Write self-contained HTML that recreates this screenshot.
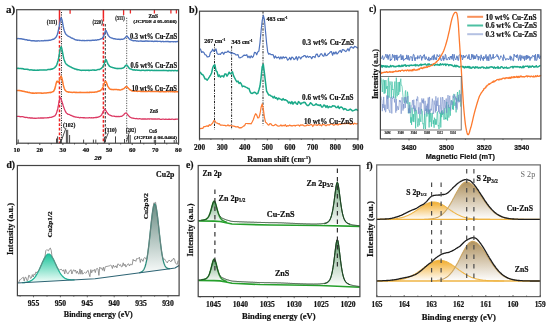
<!DOCTYPE html>
<html><head><meta charset="utf-8"><style>
html,body{margin:0;padding:0;background:#fff;width:550px;height:327px;overflow:hidden}
svg{display:block;will-change:transform;filter:blur(0.3px)}
</style></head><body>
<svg width="550" height="327" viewBox="0 0 550 327">
<rect width="550" height="327" fill="#fff"/>
<line x1="70.1" y1="9.7" x2="70.1" y2="13.8" stroke="#ee2b2b" stroke-width="1.3" />
<line x1="123.6" y1="9.7" x2="123.6" y2="15" stroke="#ee2b2b" stroke-width="1.3" />
<line x1="130.4" y1="9.7" x2="130.4" y2="13.5" stroke="#ee2b2b" stroke-width="1.3" />
<line x1="154.4" y1="9.7" x2="154.4" y2="13.5" stroke="#ee2b2b" stroke-width="1.3" />
<line x1="170.9" y1="9.7" x2="170.9" y2="13.5" stroke="#ee2b2b" stroke-width="1.3" />
<line x1="176.4" y1="9.7" x2="176.4" y2="13.5" stroke="#ee2b2b" stroke-width="1.3" />
<line x1="59.5" y1="9.7" x2="59.5" y2="22" stroke="#ee2222" stroke-width="1.5" />
<line x1="59.5" y1="22" x2="59.5" y2="143.2" stroke="#ee2222" stroke-width="1.5" stroke-dasharray="2.8,1.8" />
<line x1="61.5" y1="12" x2="61.5" y2="143.2" stroke="#222" stroke-width="1" stroke-dasharray="1.1,1.3" />
<line x1="103.4" y1="9.7" x2="103.4" y2="18.8" stroke="#ee2222" stroke-width="1.5" />
<line x1="103.4" y1="18.8" x2="103.4" y2="143.2" stroke="#ee2222" stroke-width="1.5" stroke-dasharray="2.8,1.8" />
<line x1="105.3" y1="24" x2="105.3" y2="143.2" stroke="#333" stroke-width="1" stroke-dasharray="2.5,1.5" />
<line x1="126.7" y1="17.8" x2="126.7" y2="143.2" stroke="#333" stroke-width="0.9" stroke-dasharray="1.1,1.4" />
<path d="M16.7,38.4 L17.2,38.6 L17.7,38.7 L18.2,38.5 L18.7,38.6 L19.2,38.6 L19.7,38.7 L20.2,38.9 L20.7,38.7 L21.2,38.7 L21.7,39.0 L22.2,39.0 L22.7,39.2 L23.2,39.1 L23.7,39.2 L24.2,39.5 L24.7,39.4 L25.2,39.7 L25.7,39.9 L26.2,39.7 L26.7,39.7 L27.2,40.0 L27.7,40.3 L28.2,40.2 L28.7,40.2 L29.2,40.4 L29.7,40.3 L30.2,40.4 L30.7,40.6 L31.2,40.7 L31.7,40.7 L32.2,40.7 L32.7,40.7 L33.2,40.8 L33.7,40.8 L34.2,40.7 L34.7,41.0 L35.2,41.0 L35.7,41.0 L36.2,40.8 L36.7,41.0 L37.2,41.1 L37.7,40.8 L38.2,40.8 L38.7,40.9 L39.2,40.9 L39.7,41.0 L40.2,40.9 L40.7,40.9 L41.2,40.9 L41.7,40.7 L42.2,40.8 L42.7,40.9 L43.2,40.9 L43.7,40.8 L44.2,40.7 L44.7,40.5 L45.2,40.5 L45.7,40.7 L46.2,40.6 L46.7,40.4 L47.2,40.5 L47.7,40.5 L48.2,40.5 L48.7,40.3 L49.2,40.2 L49.7,40.2 L50.2,40.2 L50.7,40.1 L51.2,39.9 L51.7,39.8 L52.2,39.5 L52.7,39.3 L53.2,39.3 L53.7,39.2 L54.2,38.9 L54.7,38.4 L55.2,37.9 L55.7,37.4 L56.2,36.9 L56.7,35.9 L57.2,34.7 L57.7,33.3 L58.2,31.2 L58.7,28.9 L59.2,26.4 L59.7,23.3 L60.2,20.5 L60.7,18.3 L61.2,17.7 L61.7,18.9 L62.2,20.7 L62.7,23.5 L63.2,26.2 L63.7,28.5 L64.2,30.4 L64.7,31.9 L65.2,32.9 L65.7,33.8 L66.2,34.5 L66.7,34.9 L67.2,35.5 L67.7,35.9 L68.2,36.1 L68.7,36.4 L69.2,36.7 L69.7,36.9 L70.2,37.2 L70.7,37.5 L71.2,37.8 L71.7,38.1 L72.2,38.2 L72.7,38.3 L73.2,38.6 L73.7,38.8 L74.2,39.1 L74.7,39.5 L75.2,39.6 L75.7,39.8 L76.2,40.0 L76.7,39.9 L77.2,40.2 L77.7,40.3 L78.2,40.1 L78.7,40.1 L79.2,40.2 L79.7,40.5 L80.2,40.4 L80.7,40.4 L81.2,40.6 L81.7,40.6 L82.2,40.5 L82.7,40.5 L83.2,40.6 L83.7,40.5 L84.2,40.5 L84.7,40.7 L85.2,40.6 L85.7,40.6 L86.2,40.6 L86.7,40.4 L87.2,40.5 L87.7,40.5 L88.2,40.4 L88.7,40.4 L89.2,40.6 L89.7,40.5 L90.2,40.4 L90.7,40.5 L91.2,40.5 L91.7,40.3 L92.2,40.1 L92.7,40.1 L93.2,40.3 L93.7,40.1 L94.2,40.2 L94.7,40.2 L95.2,40.2 L95.7,40.0 L96.2,40.2 L96.7,40.1 L97.2,39.9 L97.7,39.7 L98.2,39.8 L98.7,39.6 L99.2,39.6 L99.7,39.4 L100.2,39.3 L100.7,38.9 L101.2,38.7 L101.7,38.6 L102.2,38.3 L102.7,37.5 L103.2,36.9 L103.7,35.7 L104.2,34.6 L104.7,33.1 L105.2,31.6 L105.7,30.7 L106.2,30.7 L106.7,32.0 L107.2,33.0 L107.7,34.4 L108.2,35.4 L108.7,36.0 L109.2,36.4 L109.7,37.0 L110.2,37.4 L110.7,37.6 L111.2,37.8 L111.7,38.0 L112.2,38.1 L112.7,38.2 L113.2,38.6 L113.7,38.7 L114.2,38.7 L114.7,38.7 L115.2,39.0 L115.7,39.0 L116.2,39.1 L116.7,39.1 L117.2,39.3 L117.7,39.4 L118.2,39.2 L118.7,39.2 L119.2,39.2 L119.7,39.5 L120.2,39.5 L120.7,39.3 L121.2,39.2 L121.7,39.3 L122.2,39.4 L122.7,39.3 L123.2,39.0 L123.7,38.9 L124.2,38.6 L124.7,38.2 L125.2,37.8 L125.7,37.0 L126.2,36.6 L126.7,36.1 L127.2,36.2 L127.7,36.9 L128.2,37.4 L128.7,38.2 L129.2,38.8 L129.7,39.3 L130.2,39.5 L130.7,39.8 L131.2,39.9 L131.7,40.3 L132.2,40.4 L132.7,40.6 L133.2,40.7 L133.7,40.6 L134.2,40.7 L134.7,40.6 L135.2,40.6 L135.7,40.7 L136.2,41.0 L136.7,41.1 L137.2,41.1 L137.7,41.0 L138.2,41.1 L138.7,41.2 L139.2,41.1 L139.7,41.1 L140.2,41.0 L140.7,40.9 L141.2,41.0 L141.7,41.2 L142.2,41.2 L142.7,41.3 L143.2,41.2 L143.7,41.1 L144.2,41.2 L144.7,41.3 L145.2,41.0 L145.7,41.2 L146.2,41.0 L146.7,41.0 L147.2,41.3 L147.7,41.0 L148.2,41.1 L148.7,41.3 L149.2,41.2 L149.7,41.1 L150.2,41.1 L150.7,41.1 L151.2,41.3 L151.7,41.1 L152.2,41.4 L152.7,41.3 L153.2,41.4 L153.7,41.5 L154.2,41.3 L154.7,41.2 L155.2,41.3 L155.7,41.2 L156.2,41.4 L156.7,41.2 L157.2,41.2 L157.7,41.5 L158.2,41.4 L158.7,41.4 L159.2,41.4 L159.7,41.4 L160.2,41.3 L160.7,41.5 L161.2,41.6 L161.7,41.7 L162.2,41.4 L162.7,41.4 L163.2,41.5 L163.7,41.7 L164.2,41.6 L164.7,41.6 L165.2,41.6 L165.7,41.5 L166.2,41.6 L166.7,41.5 L167.2,41.5 L167.7,41.4 L168.2,41.5 L168.7,41.7 L169.2,41.6 L169.7,41.7 L170.2,41.7 L170.7,41.8 L171.2,41.6 L171.7,41.6 L172.2,41.6 L172.7,41.6 L173.2,41.8 L173.7,41.8 L174.2,41.6 L174.7,41.6 L175.2,41.7 L175.7,41.7 L176.2,41.7 L176.7,41.6 L177.2,41.5 L177.7,41.5 L178.2,41.5" fill="none" stroke="#5174bf" stroke-width="1.4" stroke-linejoin="round" />
<path d="M16.7,68.5 L17.2,68.5 L17.7,68.3 L18.2,68.2 L18.7,68.5 L19.2,68.5 L19.7,68.5 L20.2,68.5 L20.7,68.6 L21.2,68.6 L21.7,68.7 L22.2,68.6 L22.7,68.7 L23.2,68.8 L23.7,69.0 L24.2,69.2 L24.7,69.3 L25.2,69.2 L25.7,69.2 L26.2,69.2 L26.7,69.2 L27.2,69.2 L27.7,69.5 L28.2,69.5 L28.7,69.6 L29.2,69.9 L29.7,69.9 L30.2,69.9 L30.7,69.8 L31.2,69.8 L31.7,69.9 L32.2,69.9 L32.7,70.0 L33.2,70.3 L33.7,70.2 L34.2,70.0 L34.7,70.2 L35.2,70.3 L35.7,70.2 L36.2,70.3 L36.7,70.2 L37.2,70.2 L37.7,70.1 L38.2,70.2 L38.7,70.3 L39.2,70.0 L39.7,70.1 L40.2,70.1 L40.7,70.0 L41.2,70.0 L41.7,70.0 L42.2,70.1 L42.7,70.0 L43.2,70.1 L43.7,69.9 L44.2,70.0 L44.7,70.1 L45.2,69.9 L45.7,69.9 L46.2,70.0 L46.7,69.9 L47.2,69.8 L47.7,69.6 L48.2,69.5 L48.7,69.6 L49.2,69.4 L49.7,69.6 L50.2,69.3 L50.7,69.4 L51.2,69.1 L51.7,69.2 L52.2,69.0 L52.7,68.8 L53.2,68.6 L53.7,68.4 L54.2,68.0 L54.7,67.6 L55.2,67.1 L55.7,66.6 L56.2,66.0 L56.7,65.0 L57.2,63.5 L57.7,62.1 L58.2,60.2 L58.7,57.8 L59.2,54.8 L59.7,51.9 L60.2,49.0 L60.7,47.3 L61.2,46.9 L61.7,48.1 L62.2,50.6 L62.7,53.1 L63.2,55.8 L63.7,58.2 L64.2,59.9 L64.7,61.2 L65.2,62.6 L65.7,63.4 L66.2,64.1 L66.7,64.4 L67.2,64.9 L67.7,65.2 L68.2,65.7 L68.7,65.8 L69.2,66.3 L69.7,66.4 L70.2,66.8 L70.7,66.9 L71.2,67.1 L71.7,67.6 L72.2,67.7 L72.7,67.9 L73.2,68.3 L73.7,68.4 L74.2,68.5 L74.7,69.0 L75.2,69.0 L75.7,69.0 L76.2,69.3 L76.7,69.5 L77.2,69.7 L77.7,69.6 L78.2,69.7 L78.7,69.7 L79.2,69.9 L79.7,70.1 L80.2,70.2 L80.7,70.3 L81.2,70.3 L81.7,70.4 L82.2,70.3 L82.7,70.3 L83.2,70.2 L83.7,70.3 L84.2,70.2 L84.7,70.2 L85.2,70.3 L85.7,70.4 L86.2,70.2 L86.7,70.3 L87.2,70.3 L87.7,70.3 L88.2,70.2 L88.7,70.5 L89.2,70.3 L89.7,70.4 L90.2,70.3 L90.7,70.2 L91.2,70.3 L91.7,70.2 L92.2,70.1 L92.7,70.0 L93.2,70.1 L93.7,70.0 L94.2,70.2 L94.7,70.1 L95.2,70.2 L95.7,70.2 L96.2,70.2 L96.7,69.9 L97.2,69.8 L97.7,69.6 L98.2,69.6 L98.7,69.6 L99.2,69.5 L99.7,69.4 L100.2,69.0 L100.7,68.8 L101.2,68.6 L101.7,68.0 L102.2,67.5 L102.7,67.0 L103.2,66.1 L103.7,65.2 L104.2,63.7 L104.7,62.0 L105.2,60.5 L105.7,59.6 L106.2,59.8 L106.7,60.9 L107.2,62.2 L107.7,63.4 L108.2,64.5 L108.7,65.1 L109.2,65.9 L109.7,66.4 L110.2,66.7 L110.7,66.8 L111.2,67.1 L111.7,67.3 L112.2,67.3 L112.7,67.6 L113.2,67.8 L113.7,67.8 L114.2,67.9 L114.7,68.2 L115.2,68.2 L115.7,68.3 L116.2,68.5 L116.7,68.5 L117.2,68.4 L117.7,68.7 L118.2,68.5 L118.7,68.4 L119.2,68.6 L119.7,68.4 L120.2,68.4 L120.7,68.6 L121.2,68.6 L121.7,68.3 L122.2,68.3 L122.7,68.1 L123.2,68.0 L123.7,67.6 L124.2,67.3 L124.7,66.6 L125.2,66.0 L125.7,65.4 L126.2,65.2 L126.7,65.0 L127.2,65.6 L127.7,66.1 L128.2,67.0 L128.7,67.6 L129.2,68.1 L129.7,68.6 L130.2,68.9 L130.7,69.0 L131.2,69.1 L131.7,69.3 L132.2,69.6 L132.7,69.8 L133.2,70.0 L133.7,70.0 L134.2,69.8 L134.7,70.0 L135.2,70.1 L135.7,70.2 L136.2,70.1 L136.7,70.1 L137.2,70.1 L137.7,70.3 L138.2,70.2 L138.7,70.2 L139.2,70.2 L139.7,70.4 L140.2,70.4 L140.7,70.5 L141.2,70.5 L141.7,70.3 L142.2,70.2 L142.7,70.3 L143.2,70.2 L143.7,70.3 L144.2,70.4 L144.7,70.5 L145.2,70.4 L145.7,70.5 L146.2,70.2 L146.7,70.3 L147.2,70.5 L147.7,70.3 L148.2,70.3 L148.7,70.2 L149.2,70.2 L149.7,70.5 L150.2,70.6 L150.7,70.5 L151.2,70.3 L151.7,70.3 L152.2,70.3 L152.7,70.4 L153.2,70.5 L153.7,70.4 L154.2,70.4 L154.7,70.3 L155.2,70.4 L155.7,70.6 L156.2,70.6 L156.7,70.3 L157.2,70.4 L157.7,70.5 L158.2,70.4 L158.7,70.6 L159.2,70.5 L159.7,70.5 L160.2,70.5 L160.7,70.6 L161.2,70.6 L161.7,70.6 L162.2,70.4 L162.7,70.4 L163.2,70.3 L163.7,70.5 L164.2,70.6 L164.7,70.4 L165.2,70.5 L165.7,70.5 L166.2,70.5 L166.7,70.6 L167.2,70.7 L167.7,70.7 L168.2,70.6 L168.7,70.7 L169.2,70.5 L169.7,70.6 L170.2,70.6 L170.7,70.7 L171.2,70.7 L171.7,70.5 L172.2,70.6 L172.7,70.5 L173.2,70.6 L173.7,70.8 L174.2,70.7 L174.7,70.4 L175.2,70.5 L175.7,70.6 L176.2,70.7 L176.7,70.7 L177.2,70.7 L177.7,70.5 L178.2,70.7" fill="none" stroke="#1ca98a" stroke-width="1.5" stroke-linejoin="round" />
<path d="M16.7,90.4 L17.2,90.5 L17.7,90.4 L18.2,90.5 L18.7,90.6 L19.2,90.4 L19.7,90.4 L20.2,90.8 L20.7,90.7 L21.2,90.7 L21.7,91.1 L22.2,91.0 L22.7,91.2 L23.2,91.2 L23.7,91.4 L24.2,91.3 L24.7,91.6 L25.2,91.8 L25.7,91.8 L26.2,92.0 L26.7,92.1 L27.2,92.0 L27.7,92.3 L28.2,92.4 L28.7,92.4 L29.2,92.3 L29.7,92.7 L30.2,92.7 L30.7,92.9 L31.2,93.0 L31.7,93.0 L32.2,93.2 L32.7,93.0 L33.2,93.2 L33.7,93.1 L34.2,93.3 L34.7,93.3 L35.2,93.0 L35.7,92.9 L36.2,93.0 L36.7,93.2 L37.2,93.1 L37.7,93.1 L38.2,93.0 L38.7,93.1 L39.2,93.0 L39.7,93.0 L40.2,93.0 L40.7,93.1 L41.2,93.2 L41.7,93.1 L42.2,93.2 L42.7,93.2 L43.2,93.2 L43.7,93.1 L44.2,92.9 L44.7,93.0 L45.2,93.1 L45.7,93.1 L46.2,92.9 L46.7,92.9 L47.2,92.7 L47.7,92.8 L48.2,92.8 L48.7,92.6 L49.2,92.4 L49.7,92.6 L50.2,92.7 L50.7,92.3 L51.2,92.4 L51.7,92.2 L52.2,91.9 L52.7,91.7 L53.2,91.6 L53.7,91.2 L54.2,90.2 L54.7,89.2 L55.2,87.3 L55.7,85.4 L56.2,83.2 L56.7,81.6 L57.2,81.2 L57.7,81.5 L58.2,82.3 L58.7,82.1 L59.2,81.2 L59.7,79.8 L60.2,77.9 L60.7,76.4 L61.2,76.2 L61.7,77.5 L62.2,79.5 L62.7,82.0 L63.2,84.7 L63.7,86.6 L64.2,88.3 L64.7,89.6 L65.2,90.2 L65.7,90.8 L66.2,91.2 L66.7,91.5 L67.2,91.7 L67.7,91.8 L68.2,92.0 L68.7,92.2 L69.2,92.1 L69.7,92.1 L70.2,92.3 L70.7,92.2 L71.2,92.2 L71.7,92.4 L72.2,92.4 L72.7,92.4 L73.2,92.2 L73.7,92.3 L74.2,92.4 L74.7,92.2 L75.2,92.4 L75.7,92.5 L76.2,92.3 L76.7,92.4 L77.2,92.4 L77.7,92.5 L78.2,92.4 L78.7,92.5 L79.2,92.6 L79.7,92.3 L80.2,92.3 L80.7,92.5 L81.2,92.6 L81.7,92.4 L82.2,92.4 L82.7,92.5 L83.2,92.4 L83.7,92.4 L84.2,92.4 L84.7,92.4 L85.2,92.5 L85.7,92.4 L86.2,92.4 L86.7,92.5 L87.2,92.3 L87.7,92.4 L88.2,92.5 L88.7,92.4 L89.2,92.3 L89.7,92.5 L90.2,92.3 L90.7,92.3 L91.2,92.3 L91.7,92.4 L92.2,92.2 L92.7,92.2 L93.2,92.2 L93.7,92.3 L94.2,92.2 L94.7,92.2 L95.2,91.9 L95.7,91.9 L96.2,91.9 L96.7,91.9 L97.2,91.7 L97.7,91.5 L98.2,91.3 L98.7,91.2 L99.2,91.0 L99.7,91.0 L100.2,90.8 L100.7,90.3 L101.2,89.8 L101.7,89.4 L102.2,88.7 L102.7,87.7 L103.2,86.4 L103.7,84.8 L104.2,83.4 L104.7,82.2 L105.2,81.3 L105.7,81.3 L106.2,82.1 L106.7,83.3 L107.2,84.7 L107.7,86.1 L108.2,86.9 L108.7,87.6 L109.2,88.4 L109.7,88.9 L110.2,89.2 L110.7,89.2 L111.2,89.5 L111.7,89.6 L112.2,89.4 L112.7,89.6 L113.2,89.7 L113.7,89.6 L114.2,89.6 L114.7,89.5 L115.2,89.5 L115.7,89.5 L116.2,89.5 L116.7,89.6 L117.2,89.6 L117.7,89.8 L118.2,89.6 L118.7,89.8 L119.2,89.8 L119.7,89.9 L120.2,89.9 L120.7,89.9 L121.2,89.7 L121.7,89.4 L122.2,89.5 L122.7,89.2 L123.2,88.9 L123.7,88.7 L124.2,88.3 L124.7,87.8 L125.2,87.4 L125.7,86.9 L126.2,86.6 L126.7,86.5 L127.2,87.0 L127.7,87.5 L128.2,88.1 L128.7,88.6 L129.2,89.0 L129.7,89.5 L130.2,90.0 L130.7,90.1 L131.2,90.5 L131.7,90.8 L132.2,90.9 L132.7,91.0 L133.2,90.8 L133.7,91.0 L134.2,91.2 L134.7,91.0 L135.2,91.0 L135.7,91.1 L136.2,91.2 L136.7,91.2 L137.2,91.3 L137.7,91.4 L138.2,91.2 L138.7,91.2 L139.2,91.2 L139.7,91.2 L140.2,91.2 L140.7,91.5 L141.2,91.6 L141.7,91.3 L142.2,91.4 L142.7,91.4 L143.2,91.3 L143.7,91.4 L144.2,91.5 L144.7,91.5 L145.2,91.4 L145.7,91.3 L146.2,91.4 L146.7,91.3 L147.2,91.4 L147.7,91.5 L148.2,91.4 L148.7,91.3 L149.2,91.3 L149.7,91.4 L150.2,91.5 L150.7,91.6 L151.2,91.5 L151.7,91.6 L152.2,91.6 L152.7,91.5 L153.2,91.5 L153.7,91.5 L154.2,91.6 L154.7,91.5 L155.2,91.6 L155.7,91.5 L156.2,91.5 L156.7,91.5 L157.2,91.6 L157.7,91.4 L158.2,91.5 L158.7,91.5 L159.2,91.7 L159.7,91.8 L160.2,91.6 L160.7,91.7 L161.2,91.7 L161.7,91.6 L162.2,91.6 L162.7,91.5 L163.2,91.7 L163.7,91.7 L164.2,91.8 L164.7,91.8 L165.2,91.7 L165.7,91.7 L166.2,91.7 L166.7,91.5 L167.2,91.6 L167.7,91.5 L168.2,91.5 L168.7,91.7 L169.2,91.5 L169.7,91.5 L170.2,91.5 L170.7,91.7 L171.2,91.6 L171.7,91.5 L172.2,91.7 L172.7,91.6 L173.2,91.8 L173.7,91.8 L174.2,91.8 L174.7,91.9 L175.2,91.8 L175.7,91.8 L176.2,91.6 L176.7,91.7 L177.2,91.7 L177.7,91.8 L178.2,91.6" fill="none" stroke="#fd7a2e" stroke-width="1.5" stroke-linejoin="round" />
<path d="M16.7,116.4 L17.2,116.3 L17.7,116.4 L18.2,116.3 L18.7,116.3 L19.2,116.4 L19.7,116.7 L20.2,116.7 L20.7,116.8 L21.2,116.6 L21.7,116.7 L22.2,116.7 L22.7,116.7 L23.2,116.8 L23.7,116.9 L24.2,117.2 L24.7,117.3 L25.2,117.4 L25.7,117.5 L26.2,117.3 L26.7,117.4 L27.2,117.5 L27.7,117.7 L28.2,117.8 L28.7,117.9 L29.2,117.7 L29.7,117.9 L30.2,118.0 L30.7,118.0 L31.2,117.9 L31.7,118.0 L32.2,117.9 L32.7,118.2 L33.2,118.3 L33.7,118.2 L34.2,118.1 L34.7,118.3 L35.2,118.2 L35.7,118.3 L36.2,118.3 L36.7,118.2 L37.2,118.1 L37.7,118.2 L38.2,118.1 L38.7,118.0 L39.2,118.0 L39.7,118.2 L40.2,118.0 L40.7,117.9 L41.2,118.0 L41.7,118.0 L42.2,118.0 L42.7,118.0 L43.2,117.9 L43.7,118.1 L44.2,117.9 L44.7,117.9 L45.2,117.8 L45.7,117.9 L46.2,117.8 L46.7,117.8 L47.2,117.9 L47.7,117.7 L48.2,117.7 L48.7,117.8 L49.2,117.5 L49.7,117.4 L50.2,117.3 L50.7,117.4 L51.2,117.3 L51.7,117.1 L52.2,117.0 L52.7,116.7 L53.2,116.6 L53.7,116.3 L54.2,116.2 L54.7,115.9 L55.2,115.5 L55.7,114.7 L56.2,113.9 L56.7,112.4 L57.2,110.8 L57.7,109.0 L58.2,106.5 L58.7,103.5 L59.2,100.8 L59.7,98.5 L60.2,97.7 L60.7,98.1 L61.2,99.4 L61.7,101.0 L62.2,102.5 L62.7,104.0 L63.2,105.7 L63.7,107.1 L64.2,108.5 L64.7,109.8 L65.2,110.9 L65.7,112.0 L66.2,112.7 L66.7,113.2 L67.2,113.5 L67.7,114.1 L68.2,114.3 L68.7,114.4 L69.2,114.5 L69.7,114.7 L70.2,115.0 L70.7,115.4 L71.2,115.4 L71.7,115.6 L72.2,115.9 L72.7,116.1 L73.2,116.5 L73.7,116.4 L74.2,116.7 L74.7,116.9 L75.2,116.9 L75.7,117.2 L76.2,117.2 L76.7,117.2 L77.2,117.3 L77.7,117.3 L78.2,117.4 L78.7,117.4 L79.2,117.7 L79.7,117.8 L80.2,117.7 L80.7,117.5 L81.2,117.6 L81.7,117.6 L82.2,117.6 L82.7,117.6 L83.2,117.9 L83.7,117.7 L84.2,117.6 L84.7,117.9 L85.2,117.8 L85.7,118.0 L86.2,117.8 L86.7,117.9 L87.2,117.9 L87.7,117.9 L88.2,117.9 L88.7,117.8 L89.2,117.6 L89.7,117.6 L90.2,117.8 L90.7,117.9 L91.2,117.9 L91.7,117.7 L92.2,117.8 L92.7,117.8 L93.2,117.7 L93.7,117.8 L94.2,117.6 L94.7,117.6 L95.2,117.6 L95.7,117.4 L96.2,117.5 L96.7,117.5 L97.2,117.1 L97.7,117.3 L98.2,117.2 L98.7,117.0 L99.2,116.6 L99.7,116.6 L100.2,116.1 L100.7,115.9 L101.2,115.4 L101.7,114.6 L102.2,113.7 L102.7,112.9 L103.2,111.9 L103.7,110.9 L104.2,110.0 L104.7,109.4 L105.2,109.4 L105.7,110.3 L106.2,111.0 L106.7,112.1 L107.2,112.6 L107.7,113.5 L108.2,114.0 L108.7,114.5 L109.2,114.8 L109.7,115.1 L110.2,115.2 L110.7,115.5 L111.2,115.6 L111.7,115.9 L112.2,116.1 L112.7,116.1 L113.2,116.2 L113.7,116.1 L114.2,116.1 L114.7,116.4 L115.2,116.4 L115.7,116.6 L116.2,116.6 L116.7,116.4 L117.2,116.5 L117.7,116.6 L118.2,116.6 L118.7,116.4 L119.2,116.6 L119.7,116.7 L120.2,116.4 L120.7,116.4 L121.2,116.3 L121.7,116.3 L122.2,115.9 L122.7,115.6 L123.2,115.2 L123.7,115.0 L124.2,114.2 L124.7,113.6 L125.2,113.2 L125.7,113.1 L126.2,113.0 L126.7,113.3 L127.2,114.1 L127.7,114.7 L128.2,115.2 L128.7,116.0 L129.2,116.3 L129.7,116.7 L130.2,117.3 L130.7,117.5 L131.2,117.8 L131.7,117.8 L132.2,118.1 L132.7,118.1 L133.2,118.1 L133.7,118.3 L134.2,118.3 L134.7,118.5 L135.2,118.7 L135.7,118.7 L136.2,118.5 L136.7,118.6 L137.2,118.7 L137.7,118.8 L138.2,118.9 L138.7,118.8 L139.2,118.7 L139.7,118.7 L140.2,118.9 L140.7,118.8 L141.2,119.0 L141.7,119.1 L142.2,119.0 L142.7,119.0 L143.2,119.0 L143.7,118.9 L144.2,119.0 L144.7,118.9 L145.2,119.1 L145.7,118.9 L146.2,119.1 L146.7,119.1 L147.2,119.0 L147.7,119.0 L148.2,118.8 L148.7,119.0 L149.2,118.9 L149.7,119.0 L150.2,118.9 L150.7,118.8 L151.2,118.8 L151.7,119.1 L152.2,118.9 L152.7,119.1 L153.2,119.0 L153.7,119.1 L154.2,119.0 L154.7,119.1 L155.2,118.9 L155.7,119.0 L156.2,119.2 L156.7,119.0 L157.2,119.1 L157.7,119.0 L158.2,119.0 L158.7,118.9 L159.2,118.9 L159.7,119.2 L160.2,119.3 L160.7,119.3 L161.2,119.3 L161.7,119.3 L162.2,119.1 L162.7,119.2 L163.2,119.2 L163.7,119.2 L164.2,119.3 L164.7,119.3 L165.2,119.4 L165.7,119.1 L166.2,119.2 L166.7,119.3 L167.2,119.3 L167.7,119.3 L168.2,119.4 L168.7,119.2 L169.2,119.4 L169.7,119.2 L170.2,119.3 L170.7,119.4 L171.2,119.4 L171.7,119.2 L172.2,119.2 L172.7,119.2 L173.2,119.3 L173.7,119.4 L174.2,119.5 L174.7,119.3 L175.2,119.2 L175.7,119.4 L176.2,119.2 L176.7,119.2 L177.2,119.1 L177.7,119.1 L178.2,119.2" fill="none" stroke="#dc3a64" stroke-width="1.3" stroke-linejoin="round" />
<line x1="18.2" y1="143.2" x2="18.2" y2="139.5" stroke="#333" stroke-width="0.9" />
<line x1="56.5" y1="143.2" x2="56.5" y2="138.5" stroke="#333" stroke-width="0.9" />
<line x1="57.6" y1="143.2" x2="57.6" y2="136.4" stroke="#333" stroke-width="0.9" />
<line x1="60.6" y1="143.2" x2="60.6" y2="139" stroke="#333" stroke-width="0.9" />
<line x1="66.4" y1="143.2" x2="66.4" y2="129.8" stroke="#333" stroke-width="0.9" />
<line x1="67.7" y1="143.2" x2="67.7" y2="129.8" stroke="#333" stroke-width="0.9" />
<line x1="69.6" y1="143.2" x2="69.6" y2="135" stroke="#333" stroke-width="0.9" />
<line x1="83.6" y1="143.2" x2="83.6" y2="139.6" stroke="#333" stroke-width="0.9" />
<line x1="93.4" y1="143.2" x2="93.4" y2="139.6" stroke="#333" stroke-width="0.9" />
<line x1="95.8" y1="143.2" x2="95.8" y2="139.6" stroke="#333" stroke-width="0.9" />
<line x1="104.4" y1="143.2" x2="104.4" y2="137" stroke="#333" stroke-width="0.9" />
<line x1="115.5" y1="143.2" x2="115.5" y2="136.4" stroke="#333" stroke-width="0.9" />
<line x1="124.5" y1="143.2" x2="124.5" y2="139" stroke="#333" stroke-width="0.9" />
<line x1="128.6" y1="143.2" x2="128.6" y2="135" stroke="#333" stroke-width="0.9" />
<line x1="130.2" y1="143.2" x2="130.2" y2="135" stroke="#333" stroke-width="0.9" />
<line x1="140.5" y1="143.2" x2="140.5" y2="140" stroke="#333" stroke-width="0.9" />
<line x1="154.3" y1="143.2" x2="154.3" y2="139.7" stroke="#333" stroke-width="0.9" />
<line x1="155.6" y1="143.2" x2="155.6" y2="139.7" stroke="#333" stroke-width="0.9" />
<line x1="164.6" y1="143.2" x2="164.6" y2="140" stroke="#333" stroke-width="0.9" />
<line x1="174.2" y1="143.2" x2="174.2" y2="140" stroke="#333" stroke-width="0.9" />
<line x1="176.3" y1="143.2" x2="176.3" y2="140" stroke="#333" stroke-width="0.9" />
<line x1="60.5" y1="143" x2="66" y2="127.8" stroke="#222" stroke-width="0.8" />
<line x1="104.4" y1="142.5" x2="108.5" y2="132.3" stroke="#222" stroke-width="0.8" />
<line x1="126.5" y1="141.5" x2="129.5" y2="131.5" stroke="#222" stroke-width="0.8" />
<rect x="16.7" y="9.7" width="161.9" height="133.5" fill="none" stroke="#444" stroke-width="1.2"/>
<line x1="16.7" y1="143.2" x2="16.7" y2="145" stroke="#333" stroke-width="0.9" />
<line x1="28.2" y1="143.2" x2="28.2" y2="144.4" stroke="#333" stroke-width="0.9" />
<line x1="39.8" y1="143.2" x2="39.8" y2="145" stroke="#333" stroke-width="0.9" />
<line x1="51.3" y1="143.2" x2="51.3" y2="144.4" stroke="#333" stroke-width="0.9" />
<line x1="62.9" y1="143.2" x2="62.9" y2="145" stroke="#333" stroke-width="0.9" />
<line x1="74.5" y1="143.2" x2="74.5" y2="144.4" stroke="#333" stroke-width="0.9" />
<line x1="86" y1="143.2" x2="86" y2="145" stroke="#333" stroke-width="0.9" />
<line x1="97.6" y1="143.2" x2="97.6" y2="144.4" stroke="#333" stroke-width="0.9" />
<line x1="109.1" y1="143.2" x2="109.1" y2="145" stroke="#333" stroke-width="0.9" />
<line x1="120.7" y1="143.2" x2="120.7" y2="144.4" stroke="#333" stroke-width="0.9" />
<line x1="132.2" y1="143.2" x2="132.2" y2="145" stroke="#333" stroke-width="0.9" />
<line x1="143.8" y1="143.2" x2="143.8" y2="144.4" stroke="#333" stroke-width="0.9" />
<line x1="155.3" y1="143.2" x2="155.3" y2="145" stroke="#333" stroke-width="0.9" />
<line x1="166.8" y1="143.2" x2="166.8" y2="144.4" stroke="#333" stroke-width="0.9" />
<line x1="178.4" y1="143.2" x2="178.4" y2="145" stroke="#333" stroke-width="0.9" />
<text x="16.7" y="151.6" font-size="6.2" text-anchor="middle" font-weight="bold" font-family='"Liberation Serif", serif' fill="#111" textLength="6.6" lengthAdjust="spacingAndGlyphs" stroke="#111" stroke-width="0.2" >10</text>
<text x="39.8" y="151.6" font-size="6.2" text-anchor="middle" font-weight="bold" font-family='"Liberation Serif", serif' fill="#111" textLength="6.6" lengthAdjust="spacingAndGlyphs" stroke="#111" stroke-width="0.2" >20</text>
<text x="62.9" y="151.6" font-size="6.2" text-anchor="middle" font-weight="bold" font-family='"Liberation Serif", serif' fill="#111" textLength="6.6" lengthAdjust="spacingAndGlyphs" stroke="#111" stroke-width="0.2" >30</text>
<text x="86" y="151.6" font-size="6.2" text-anchor="middle" font-weight="bold" font-family='"Liberation Serif", serif' fill="#111" textLength="6.6" lengthAdjust="spacingAndGlyphs" stroke="#111" stroke-width="0.2" >40</text>
<text x="109.1" y="151.6" font-size="6.2" text-anchor="middle" font-weight="bold" font-family='"Liberation Serif", serif' fill="#111" textLength="6.6" lengthAdjust="spacingAndGlyphs" stroke="#111" stroke-width="0.2" >50</text>
<text x="132.2" y="151.6" font-size="6.2" text-anchor="middle" font-weight="bold" font-family='"Liberation Serif", serif' fill="#111" textLength="6.6" lengthAdjust="spacingAndGlyphs" stroke="#111" stroke-width="0.2" >60</text>
<text x="155.3" y="151.6" font-size="6.2" text-anchor="middle" font-weight="bold" font-family='"Liberation Serif", serif' fill="#111" textLength="6.6" lengthAdjust="spacingAndGlyphs" stroke="#111" stroke-width="0.2" >70</text>
<text x="178.4" y="151.6" font-size="6.2" text-anchor="middle" font-weight="bold" font-family='"Liberation Serif", serif' fill="#111" textLength="6.6" lengthAdjust="spacingAndGlyphs" stroke="#111" stroke-width="0.2" >80</text>
<text x="97.9" y="160" font-size="6.6" text-anchor="middle" font-weight="bold" font-family='"Liberation Serif", serif' fill="#111" textLength="7.4" lengthAdjust="spacingAndGlyphs" font-style="italic" stroke="#111" stroke-width="0.2" >2&#952;</text>
<text x="6" y="13.4" font-size="10.2" text-anchor="start" font-weight="bold" font-family='"Liberation Serif", serif' fill="#111" textLength="9.2" lengthAdjust="spacingAndGlyphs" stroke="#111" stroke-width="0.2" >a)</text>
<text x="46.8" y="24" font-size="5.6" text-anchor="start" font-weight="bold" font-family='"Liberation Serif", serif' fill="#111" textLength="10.5" lengthAdjust="spacingAndGlyphs" stroke="#111" stroke-width="0.2" >(111)</text>
<text x="92.6" y="23.7" font-size="5.6" text-anchor="start" font-weight="bold" font-family='"Liberation Serif", serif' fill="#111" textLength="10.1" lengthAdjust="spacingAndGlyphs" stroke="#111" stroke-width="0.2" >(220)</text>
<text x="115.3" y="20.3" font-size="5.6" text-anchor="start" font-weight="bold" font-family='"Liberation Serif", serif' fill="#111" textLength="9.4" lengthAdjust="spacingAndGlyphs" stroke="#111" stroke-width="0.2" >(311)</text>
<text x="153.3" y="17.8" font-size="6" text-anchor="middle" font-weight="bold" font-family='"Liberation Serif", serif' fill="#111" textLength="9.6" lengthAdjust="spacingAndGlyphs" stroke="#111" stroke-width="0.2" >ZnS</text>
<text x="133.3" y="22.9" font-size="5" text-anchor="start" font-weight="bold" font-family='"Liberation Serif", serif' fill="#111" textLength="43.6" lengthAdjust="spacingAndGlyphs" stroke="#111" stroke-width="0.2" >(JCPDS # 05-0566)</text>
<text x="129.9" y="39" font-size="7.4" text-anchor="start" font-weight="bold" font-family='"Liberation Serif", serif' fill="#111" textLength="47.4" lengthAdjust="spacingAndGlyphs" stroke="#111" stroke-width="0.2" >0.3 wt% Cu-ZnS</text>
<text x="130.5" y="68" font-size="7.4" text-anchor="start" font-weight="bold" font-family='"Liberation Serif", serif' fill="#111" textLength="46.5" lengthAdjust="spacingAndGlyphs" stroke="#111" stroke-width="0.2" >0.6 wt% Cu-ZnS</text>
<text x="131.7" y="90.6" font-size="7.4" text-anchor="start" font-weight="bold" font-family='"Liberation Serif", serif' fill="#111" textLength="45.3" lengthAdjust="spacingAndGlyphs" stroke="#111" stroke-width="0.2" >10 wt% Cu-ZnS</text>
<text x="154" y="113.2" font-size="6" text-anchor="middle" font-weight="bold" font-family='"Liberation Serif", serif' fill="#111" textLength="8.6" lengthAdjust="spacingAndGlyphs" stroke="#111" stroke-width="0.2" >ZnS</text>
<text x="153.2" y="132.5" font-size="6" text-anchor="middle" font-weight="bold" font-family='"Liberation Serif", serif' fill="#111" textLength="8.2" lengthAdjust="spacingAndGlyphs" stroke="#111" stroke-width="0.2" >CuS</text>
<text x="134" y="138.7" font-size="5" text-anchor="start" font-weight="bold" font-family='"Liberation Serif", serif' fill="#111" textLength="43" lengthAdjust="spacingAndGlyphs" stroke="#111" stroke-width="0.2" >(JCPDS # 06-0464)</text>
<text x="63.1" y="126.6" font-size="5.6" text-anchor="start" font-weight="bold" font-family='"Liberation Serif", serif' fill="#111" textLength="12.2" lengthAdjust="spacingAndGlyphs" stroke="#111" stroke-width="0.2" >(102)</text>
<text x="104.8" y="132.4" font-size="5.6" text-anchor="start" font-weight="bold" font-family='"Liberation Serif", serif' fill="#111" textLength="11.8" lengthAdjust="spacingAndGlyphs" stroke="#111" stroke-width="0.2" >(110)</text>
<text x="126.1" y="132.4" font-size="5.6" text-anchor="start" font-weight="bold" font-family='"Liberation Serif", serif' fill="#111" textLength="9.8" lengthAdjust="spacingAndGlyphs" stroke="#111" stroke-width="0.2" >(202)</text>
<line x1="214.5" y1="43.8" x2="214.5" y2="129.6" stroke="#222" stroke-width="1" stroke-dasharray="2.4,1.2,0.9,1.2" />
<line x1="231.6" y1="46.1" x2="231.6" y2="129.6" stroke="#222" stroke-width="1" stroke-dasharray="2.4,1.2,0.9,1.2" />
<line x1="263" y1="11.2" x2="263" y2="125.4" stroke="#222" stroke-width="1" stroke-dasharray="2.4,1.2,0.9,1.2" />
<path d="M199.5,48.3 L200.6,49.4 L201.7,52.5 L202.8,51.7 L203.9,52.5 L205.0,54.7 L206.1,55.0 L207.2,56.9 L208.3,56.8 L209.4,56.4 L210.5,52.2 L211.6,51.5 L212.7,49.2 L213.8,51.3 L214.9,50.8 L216.0,48.9 L217.1,53.5 L218.2,54.4 L219.3,54.0 L220.4,54.4 L221.5,52.9 L222.6,52.4 L223.7,54.3 L224.8,52.2 L225.9,52.3 L227.0,52.2 L228.1,51.0 L229.2,52.4 L230.3,52.2 L231.4,53.8 L232.5,52.7 L233.6,53.6 L234.7,53.6 L235.8,55.0 L236.9,54.8 L238.0,54.6 L239.1,57.7 L240.2,57.8 L241.3,57.2 L242.4,56.8 L243.5,55.3 L244.6,55.1 L245.7,55.5 L246.8,54.7 L247.9,57.6 L249.0,56.2 L250.1,57.9 L251.2,55.8 L252.3,57.5 L253.4,56.4 L254.5,52.3 L255.6,52.5 L256.7,54.8 L257.8,51.9 L258.9,51.1 L260.0,42.5 L261.1,30.7 L262.2,20.7 L263.3,15.3 L264.4,19.5 L265.5,31.3 L266.6,43.0 L267.7,51.9 L268.8,54.3 L269.9,53.6 L271.0,54.7 L272.1,54.6 L273.2,54.8 L274.3,58.1 L275.4,56.0 L276.5,57.9 L277.6,57.7 L278.7,56.9 L279.8,59.1 L280.9,56.8 L282.0,58.8 L283.1,56.7 L284.2,58.0 L285.3,57.1 L286.4,57.3 L287.5,60.1 L288.6,59.5 L289.7,57.5 L290.8,59.8 L291.9,57.1 L293.0,57.8 L294.1,59.6 L295.2,58.8 L296.3,56.6 L297.4,60.1 L298.5,56.9 L299.6,57.0 L300.7,58.9 L301.8,57.0 L302.9,56.7 L304.0,55.7 L305.1,55.6 L306.2,57.5 L307.3,56.0 L308.4,57.4 L309.5,56.5 L310.6,56.8 L311.7,58.7 L312.8,56.6 L313.9,56.6 L315.0,57.5 L316.1,54.4 L317.2,54.0 L318.3,56.8 L319.4,56.4 L320.5,54.1 L321.6,53.7 L322.7,55.8 L323.8,56.3 L324.9,53.1 L326.0,55.8 L327.1,55.3 L328.2,54.0 L329.3,53.2 L330.4,51.9 L331.5,51.6 L332.6,55.2 L333.7,52.2 L334.8,53.9 L335.9,51.9 L337.0,54.0 L338.1,52.8 L339.2,51.3 L340.3,50.5 L341.4,52.4 L342.5,49.5 L343.6,49.8 L344.7,50.8 L345.8,51.6 L346.9,50.3 L348.0,48.7 L349.1,50.9 L350.2,47.8 L351.3,46.8 L352.4,47.6 L353.5,48.1 L354.6,46.4 L355.7,46.8 L356.8,47.5 L357.9,48.3" fill="none" stroke="#4f73bd" stroke-width="1.2" stroke-linejoin="round" />
<path d="M199.5,71.8 L200.6,72.8 L201.7,74.3 L202.8,74.7 L203.9,76.4 L205.0,78.9 L206.1,79.0 L207.2,80.1 L208.3,78.6 L209.4,76.9 L210.5,75.1 L211.6,73.0 L212.7,67.8 L213.8,65.4 L214.9,64.9 L216.0,70.8 L217.1,71.9 L218.2,76.4 L219.3,75.1 L220.4,77.1 L221.5,76.0 L222.6,75.9 L223.7,76.9 L224.8,74.1 L225.9,73.9 L227.0,76.1 L228.1,74.3 L229.2,72.2 L230.3,73.8 L231.4,73.1 L232.5,71.9 L233.6,75.9 L234.7,78.0 L235.8,80.2 L236.9,81.8 L238.0,81.1 L239.1,83.5 L240.2,82.6 L241.3,83.9 L242.4,86.7 L243.5,86.1 L244.6,86.5 L245.7,87.1 L246.8,87.5 L247.9,88.4 L249.0,88.6 L250.1,91.8 L251.2,93.3 L252.3,93.4 L253.4,92.7 L254.5,92.2 L255.6,92.7 L256.7,93.9 L257.8,93.4 L258.9,90.0 L260.0,86.0 L261.1,77.5 L262.2,66.7 L263.3,64.4 L264.4,72.9 L265.5,82.3 L266.6,91.2 L267.7,93.2 L268.8,95.1 L269.9,95.0 L271.0,96.0 L272.1,96.3 L273.2,97.9 L274.3,96.4 L275.4,98.3 L276.5,97.7 L277.6,99.7 L278.7,98.1 L279.8,98.9 L280.9,99.2 L282.0,100.2 L283.1,98.6 L284.2,100.1 L285.3,99.7 L286.4,100.3 L287.5,101.2 L288.6,103.0 L289.7,102.0 L290.8,103.7 L291.9,101.6 L293.0,104.1 L294.1,102.5 L295.2,102.0 L296.3,103.7 L297.4,104.3 L298.5,101.6 L299.6,102.5 L300.7,104.1 L301.8,103.0 L302.9,102.8 L304.0,102.3 L305.1,102.5 L306.2,104.3 L307.3,105.5 L308.4,105.6 L309.5,104.2 L310.6,102.7 L311.7,103.7 L312.8,105.1 L313.9,105.4 L315.0,104.9 L316.1,103.9 L317.2,104.9 L318.3,105.0 L319.4,105.6 L320.5,104.7 L321.6,107.0 L322.7,107.0 L323.8,105.0 L324.9,105.5 L326.0,107.4 L327.1,105.7 L328.2,107.8 L329.3,106.5 L330.4,107.1 L331.5,107.1 L332.6,105.7 L333.7,106.0 L334.8,106.0 L335.9,107.4 L337.0,107.6 L338.1,106.1 L339.2,108.5 L340.3,107.3 L341.4,107.0 L342.5,107.8 L343.6,109.6 L344.7,108.6 L345.8,109.0 L346.9,110.1 L348.0,110.4 L349.1,110.0 L350.2,109.1 L351.3,109.8 L352.4,110.9 L353.5,110.6 L354.6,110.1 L355.7,109.5 L356.8,109.6 L357.9,110.7" fill="none" stroke="#1aa988" stroke-width="1.5" stroke-linejoin="round" />
<path d="M199.5,128.0 L200.6,128.7 L201.7,128.4 L202.8,128.3 L203.9,126.6 L205.0,126.6 L206.1,126.2 L207.2,125.9 L208.3,126.4 L209.4,124.7 L210.5,125.4 L211.6,124.2 L212.7,123.0 L213.8,120.7 L214.9,120.8 L216.0,122.8 L217.1,123.0 L218.2,123.8 L219.3,123.6 L220.4,125.1 L221.5,125.0 L222.6,125.2 L223.7,125.3 L224.8,125.3 L225.9,125.9 L227.0,125.7 L228.1,124.8 L229.2,126.0 L230.3,125.3 L231.4,126.0 L232.5,125.9 L233.6,126.1 L234.7,126.4 L235.8,126.9 L236.9,126.9 L238.0,126.6 L239.1,127.9 L240.2,127.6 L241.3,127.8 L242.4,127.1 L243.5,126.1 L244.6,125.6 L245.7,123.5 L246.8,123.5 L247.9,123.7 L249.0,123.7 L250.1,123.7 L251.2,123.8 L252.3,121.8 L253.4,119.5 L254.5,116.1 L255.6,113.7 L256.7,115.0 L257.8,118.0 L258.9,117.6 L260.0,114.0 L261.1,107.3 L262.2,103.9 L263.3,108.8 L264.4,117.1 L265.5,122.1 L266.6,123.0 L267.7,124.4 L268.8,125.2 L269.9,123.6 L271.0,123.9 L272.1,125.4 L273.2,125.6 L274.3,125.3 L275.4,124.4 L276.5,125.0 L277.6,126.0 L278.7,126.1 L279.8,126.0 L280.9,124.8 L282.0,126.1 L283.1,125.2 L284.2,125.9 L285.3,124.7 L286.4,126.4 L287.5,125.7 L288.6,126.0 L289.7,125.0 L290.8,125.8 L291.9,125.7 L293.0,125.8 L294.1,125.3 L295.2,126.1 L296.3,125.3 L297.4,125.2 L298.5,125.0 L299.6,126.0 L300.7,124.9 L301.8,125.1 L302.9,124.8 L304.0,125.9 L305.1,125.8 L306.2,125.7 L307.3,124.7 L308.4,125.5 L309.5,125.2 L310.6,124.7 L311.7,124.5 L312.8,126.5 L313.9,124.7 L315.0,125.0 L316.1,124.9 L317.2,125.5 L318.3,124.4 L319.4,125.1 L320.5,124.9 L321.6,125.8 L322.7,124.1 L323.8,124.7 L324.9,124.9 L326.0,125.8 L327.1,124.9 L328.2,124.7 L329.3,125.1 L330.4,124.3 L331.5,123.7 L332.6,124.6 L333.7,125.3 L334.8,124.9 L335.9,123.9 L337.0,124.7 L338.1,125.0 L339.2,123.8 L340.3,124.4 L341.4,123.9 L342.5,123.6 L343.6,123.6 L344.7,123.4 L345.8,123.7 L346.9,123.0 L348.0,123.7 L349.1,123.1 L350.2,124.4 L351.3,124.1 L352.4,122.8 L353.5,124.4 L354.6,123.2 L355.7,123.8 L356.8,123.9 L357.9,123.5" fill="none" stroke="#fc7b33" stroke-width="1.2" stroke-linejoin="round" />
<rect x="199.5" y="11.2" width="158.5" height="127.7" fill="none" stroke="#444" stroke-width="1.2"/>
<line x1="199.6" y1="138.9" x2="199.6" y2="140.5" stroke="#444" stroke-width="0.8" />
<line x1="210.9" y1="138.9" x2="210.9" y2="139.9" stroke="#444" stroke-width="0.8" />
<line x1="222.2" y1="138.9" x2="222.2" y2="140.5" stroke="#444" stroke-width="0.8" />
<line x1="233.5" y1="138.9" x2="233.5" y2="139.9" stroke="#444" stroke-width="0.8" />
<line x1="244.8" y1="138.9" x2="244.8" y2="140.5" stroke="#444" stroke-width="0.8" />
<line x1="256.1" y1="138.9" x2="256.1" y2="139.9" stroke="#444" stroke-width="0.8" />
<line x1="267.4" y1="138.9" x2="267.4" y2="140.5" stroke="#444" stroke-width="0.8" />
<line x1="278.7" y1="138.9" x2="278.7" y2="139.9" stroke="#444" stroke-width="0.8" />
<line x1="290" y1="138.9" x2="290" y2="140.5" stroke="#444" stroke-width="0.8" />
<line x1="301.3" y1="138.9" x2="301.3" y2="139.9" stroke="#444" stroke-width="0.8" />
<line x1="312.6" y1="138.9" x2="312.6" y2="140.5" stroke="#444" stroke-width="0.8" />
<line x1="324" y1="138.9" x2="324" y2="139.9" stroke="#444" stroke-width="0.8" />
<line x1="335.3" y1="138.9" x2="335.3" y2="140.5" stroke="#444" stroke-width="0.8" />
<line x1="346.6" y1="138.9" x2="346.6" y2="139.9" stroke="#444" stroke-width="0.8" />
<line x1="357.9" y1="138.9" x2="357.9" y2="140.5" stroke="#444" stroke-width="0.8" />
<text x="199.6" y="149.6" font-size="7.4" text-anchor="middle" font-weight="bold" font-family='"Liberation Serif", serif' fill="#111" textLength="11" lengthAdjust="spacingAndGlyphs" stroke="#111" stroke-width="0.2" >200</text>
<text x="222.2" y="149.6" font-size="7.4" text-anchor="middle" font-weight="bold" font-family='"Liberation Serif", serif' fill="#111" textLength="11" lengthAdjust="spacingAndGlyphs" stroke="#111" stroke-width="0.2" >300</text>
<text x="244.8" y="149.6" font-size="7.4" text-anchor="middle" font-weight="bold" font-family='"Liberation Serif", serif' fill="#111" textLength="11" lengthAdjust="spacingAndGlyphs" stroke="#111" stroke-width="0.2" >400</text>
<text x="267.4" y="149.6" font-size="7.4" text-anchor="middle" font-weight="bold" font-family='"Liberation Serif", serif' fill="#111" textLength="11" lengthAdjust="spacingAndGlyphs" stroke="#111" stroke-width="0.2" >500</text>
<text x="290" y="149.6" font-size="7.4" text-anchor="middle" font-weight="bold" font-family='"Liberation Serif", serif' fill="#111" textLength="11" lengthAdjust="spacingAndGlyphs" stroke="#111" stroke-width="0.2" >600</text>
<text x="312.6" y="149.6" font-size="7.4" text-anchor="middle" font-weight="bold" font-family='"Liberation Serif", serif' fill="#111" textLength="11" lengthAdjust="spacingAndGlyphs" stroke="#111" stroke-width="0.2" >700</text>
<text x="335.3" y="149.6" font-size="7.4" text-anchor="middle" font-weight="bold" font-family='"Liberation Serif", serif' fill="#111" textLength="11" lengthAdjust="spacingAndGlyphs" stroke="#111" stroke-width="0.2" >800</text>
<text x="357.9" y="149.6" font-size="7.4" text-anchor="middle" font-weight="bold" font-family='"Liberation Serif", serif' fill="#111" textLength="11" lengthAdjust="spacingAndGlyphs" stroke="#111" stroke-width="0.2" >900</text>
<text x="247.2" y="161.5" font-size="8" text-anchor="start" font-weight="bold" font-family='"Liberation Serif", serif' fill="#111" stroke="#111" stroke-width="0.2" >Raman shift (cm<tspan font-size="5" dy="-3">-1</tspan><tspan dy="3">)</tspan></text>
<text x="189" y="13.2" font-size="9.8" text-anchor="start" font-weight="bold" font-family='"Liberation Serif", serif' fill="#111" textLength="8.9" lengthAdjust="spacingAndGlyphs" stroke="#111" stroke-width="0.2" >b)</text>
<text x="204.2" y="42.8" font-size="6" text-anchor="start" font-weight="bold" font-family='"Liberation Serif", serif' fill="#111" stroke="#111" stroke-width="0.2" >267 cm<tspan font-size="3.6" dy="-2.2">-1</tspan></text>
<text x="231.4" y="44.4" font-size="6" text-anchor="start" font-weight="bold" font-family='"Liberation Serif", serif' fill="#111" stroke="#111" stroke-width="0.2" >343 cm<tspan font-size="3.6" dy="-2.2">-1</tspan></text>
<text x="266.5" y="21" font-size="6" text-anchor="start" font-weight="bold" font-family='"Liberation Serif", serif' fill="#111" stroke="#111" stroke-width="0.2" >483 cm<tspan font-size="3.6" dy="-2.2">-1</tspan></text>
<text x="302.2" y="45.4" font-size="8.2" text-anchor="start" font-weight="bold" font-family='"Liberation Serif", serif' fill="#111" textLength="51.9" lengthAdjust="spacingAndGlyphs" stroke="#111" stroke-width="0.2" >0.3 wt% Cu-ZnS</text>
<text x="302.1" y="100" font-size="8.2" text-anchor="start" font-weight="bold" font-family='"Liberation Serif", serif' fill="#111" textLength="51.5" lengthAdjust="spacingAndGlyphs" stroke="#111" stroke-width="0.2" >0.6 wt% Cu-ZnS</text>
<text x="303.9" y="123.6" font-size="8.2" text-anchor="start" font-weight="bold" font-family='"Liberation Serif", serif' fill="#111" textLength="49.2" lengthAdjust="spacingAndGlyphs" stroke="#111" stroke-width="0.2" >10 wt% Cu-ZnS</text>
<path d="M380.4,55.2 L380.9,58.8 L381.5,58.4 L382.1,57.4 L382.6,55.6 L383.2,59.5 L383.7,59.6 L384.3,57.6 L384.8,57.5 L385.4,55.7 L385.9,54.1 L386.5,56.6 L387.0,58.1 L387.6,54.6 L388.1,59.5 L388.7,55.7 L389.2,55.7 L389.8,54.4 L390.3,60.9 L390.9,59.1 L391.4,60.1 L392.0,58.3 L392.5,54.3 L393.1,56.3 L393.6,57.5 L394.2,54.9 L394.7,60.6 L395.3,56.6 L395.8,55.2 L396.4,59.7 L396.9,54.9 L397.5,60.4 L398.0,57.2 L398.6,57.9 L399.1,56.4 L399.7,57.4 L400.2,55.4 L400.8,54.4 L401.3,60.0 L401.9,55.7 L402.4,59.4 L403.0,55.5 L403.5,60.7 L404.1,60.2 L404.6,59.2 L405.2,59.3 L405.7,58.0 L406.3,59.1 L406.8,54.9 L407.4,57.3 L407.9,59.7 L408.5,55.5 L409.0,60.4 L409.6,60.1 L410.1,56.9 L410.7,56.6 L411.2,57.2 L411.8,56.7 L412.3,60.9 L412.9,56.7 L413.4,54.3 L414.0,54.7 L414.5,59.0 L415.1,60.9 L415.6,57.5 L416.2,57.4 L416.7,57.8 L417.3,59.2 L417.8,55.6 L418.4,58.2 L418.9,57.9 L419.5,58.3 L420.0,55.3 L420.6,55.3 L421.1,56.5 L421.7,60.4 L422.2,56.5 L422.8,58.2 L423.3,56.2 L423.9,54.8 L424.4,54.5 L425.0,59.6 L425.5,59.4 L426.1,56.6 L426.6,58.7 L427.2,58.7 L427.7,60.2 L428.3,60.6 L428.8,56.9 L429.4,60.8 L429.9,60.6 L430.5,58.1 L431.0,60.1 L431.6,57.4 L432.1,56.7 L432.7,55.8 L433.2,60.1 L433.8,55.2 L434.3,54.6 L434.9,59.6 L435.4,59.4 L436.0,57.4 L436.5,59.8 L437.1,54.5 L437.6,55.9 L438.2,56.1 L438.7,57.0 L439.3,55.3 L439.8,54.6 L440.4,56.4 L440.9,60.2 L441.5,60.8 L442.0,59.2 L442.6,57.4 L443.1,55.8 L443.7,60.6 L444.2,57.7 L444.8,59.1 L445.3,54.3 L445.9,55.5 L446.4,59.8 L447.0,59.5 L447.5,60.1 L448.1,58.2 L448.6,57.0 L449.2,58.1 L449.7,59.9 L450.3,56.2 L450.8,57.7 L451.4,56.0 L451.9,59.3 L452.5,54.2 L453.0,58.8 L453.6,60.6 L454.1,54.3 L454.7,58.1 L455.2,58.5 L455.8,59.9 L456.3,58.1 L456.9,55.8 L457.4,56.9 L458.0,60.6 L458.5,60.3 L459.1,55.0 L459.6,54.7 L460.2,54.7 L460.7,54.3 L461.3,57.1 L461.8,55.1 L462.4,60.0 L462.9,58.6 L463.5,55.0 L464.0,57.8 L464.6,56.3 L465.1,57.5 L465.7,55.6 L466.2,55.2 L466.8,55.4 L467.3,56.7 L467.9,58.9 L468.4,57.8 L469.0,54.4 L469.5,58.9 L470.1,60.0 L470.6,59.4 L471.2,59.5 L471.7,54.2 L472.3,57.3 L472.8,54.5 L473.4,59.3 L473.9,55.3 L474.5,58.9 L475.0,55.8 L475.6,58.8 L476.1,56.2 L476.7,54.4 L477.2,56.7 L477.8,56.2 L478.3,60.2 L478.9,56.1 L479.4,57.5 L480.0,57.8 L480.5,60.5 L481.1,54.8 L481.6,58.2 L482.2,57.6 L482.7,59.1 L483.3,60.7 L483.8,56.2 L484.4,58.9 L484.9,57.7 L485.5,57.9 L486.0,54.5 L486.6,59.6 L487.1,60.7 L487.7,56.5 L488.2,56.3 L488.8,60.9 L489.3,54.8 L489.9,54.6 L490.4,54.6 L491.0,59.6 L491.5,59.3 L492.1,57.1 L492.6,58.3 L493.2,54.2 L493.7,58.5 L494.3,57.1 L494.8,57.6 L495.4,56.7 L495.9,56.8 L496.5,55.6 L497.0,54.4 L497.6,57.1 L498.1,55.8 L498.7,58.9 L499.2,59.7 L499.8,59.0 L500.3,57.2 L500.9,55.7 L501.4,56.7 L502.0,57.4 L502.5,58.4 L503.1,60.6 L503.6,54.7 L504.2,57.4 L504.7,57.4 L505.3,59.0 L505.8,60.2 L506.4,59.4 L506.9,58.4 L507.5,59.3 L508.0,58.6 L508.6,59.9 L509.1,58.9 L509.7,58.7 L510.2,55.8 L510.8,60.3 L511.3,56.7 L511.9,58.3 L512.4,59.7 L513.0,60.7 L513.5,60.8 L514.1,54.1 L514.6,56.2 L515.2,56.2 L515.7,56.8 L516.3,55.1 L516.8,57.9 L517.4,54.6 L517.9,56.2 L518.5,60.5 L519.0,59.1 L519.6,57.2 L520.1,54.8 L520.7,60.6 L521.2,58.9 L521.8,55.5 L522.3,56.4 L522.9,58.5 L523.4,58.7 L524.0,55.9 L524.5,60.6 L525.1,56.3 L525.6,55.8 L526.2,59.8 L526.7,55.1 L527.3,58.7 L527.8,55.5 L528.4,58.2 L528.9,56.0 L529.5,56.7 L530.0,60.5 L530.6,57.3 L531.1,57.1 L531.7,58.3 L532.2,56.0 L532.8,55.3 L533.3,56.7 L533.9,56.0 L534.4,55.4 L535.0,60.6 L535.5,54.3 L536.1,59.6 L536.6,60.5 L537.2,58.9 L537.7,54.2 L538.3,57.5 L538.8,54.4 L539.4,58.2 L539.9,58.9 L540.5,55.7" fill="none" stroke="#5d7fc4" stroke-width="1" stroke-linejoin="round" />
<path d="M380.4,67.1 L381.0,65.7 L381.6,65.4 L382.2,67.2 L382.8,65.7 L383.4,65.6 L384.0,66.6 L384.6,66.0 L385.2,67.0 L385.8,65.8 L386.4,67.1 L387.0,65.9 L387.6,66.4 L388.2,67.0 L388.8,66.5 L389.4,67.0 L390.0,66.6 L390.6,65.4 L391.2,66.8 L391.8,66.3 L392.4,65.8 L393.0,65.6 L393.6,66.7 L394.2,66.2 L394.8,66.8 L395.4,66.5 L396.0,66.8 L396.6,66.1 L397.2,66.3 L397.8,66.1 L398.4,65.5 L399.0,66.7 L399.6,65.5 L400.2,66.4 L400.8,66.6 L401.4,66.1 L402.0,65.1 L402.6,66.3 L403.2,66.0 L403.8,65.1 L404.4,64.9 L405.0,65.7 L405.6,64.8 L406.2,66.4 L406.8,65.6 L407.4,65.6 L408.0,65.3 L408.6,65.8 L409.2,66.2 L409.8,65.1 L410.4,65.2 L411.0,65.5 L411.6,65.0 L412.2,65.5 L412.8,65.4 L413.4,65.1 L414.0,65.5 L414.6,65.2 L415.2,64.4 L415.8,66.0 L416.4,64.9 L417.0,65.0 L417.6,64.9 L418.2,65.8 L418.8,65.8 L419.4,65.0 L420.0,64.8 L420.6,64.2 L421.2,65.6 L421.8,64.3 L422.4,64.9 L423.0,64.6 L423.6,64.5 L424.2,64.5 L424.8,64.2 L425.4,63.9 L426.0,64.8 L426.6,65.2 L427.2,65.0 L427.8,64.1 L428.4,65.0 L429.0,63.8 L429.6,64.5 L430.2,65.2 L430.8,65.4 L431.4,64.5 L432.0,65.2 L432.6,64.6 L433.2,64.6 L433.8,64.7 L434.4,65.4 L435.0,65.0 L435.6,64.5 L436.2,64.9 L436.8,64.8 L437.4,64.2 L438.0,65.0 L438.6,65.1 L439.2,64.7 L439.8,65.3 L440.4,63.6 L441.0,64.5 L441.6,64.8 L442.2,64.3 L442.8,64.0 L443.4,64.9 L444.0,64.5 L444.6,64.3 L445.2,63.9 L445.8,65.6 L446.4,64.6 L447.0,64.2 L447.6,64.4 L448.2,64.6 L448.8,65.8 L449.4,64.6 L450.0,64.8 L450.6,64.6 L451.2,65.4 L451.8,65.0 L452.4,65.3 L453.0,66.1 L453.6,66.5 L454.2,66.5 L454.8,65.1 L455.4,65.8 L456.0,66.8 L456.6,65.4 L457.2,65.8 L457.8,66.4 L458.4,66.3 L459.0,67.1 L459.6,67.1 L460.2,66.7 L460.8,66.4 L461.4,66.4 L462.0,66.6 L462.6,66.3 L463.2,67.4 L463.8,66.6 L464.4,68.0 L465.0,67.6 L465.6,66.5 L466.2,67.4 L466.8,67.6 L467.4,66.6 L468.0,67.4 L468.6,66.6 L469.2,68.0 L469.8,66.6 L470.4,67.7 L471.0,68.4 L471.6,68.1 L472.2,67.0 L472.8,67.6 L473.4,66.9 L474.0,67.2 L474.6,68.2 L475.2,68.1 L475.8,66.6 L476.4,67.3 L477.0,67.8 L477.6,66.9 L478.2,68.0 L478.8,68.2 L479.4,67.6 L480.0,67.3 L480.6,68.1 L481.2,67.5 L481.8,66.9 L482.4,67.1 L483.0,66.9 L483.6,68.1 L484.2,67.5 L484.8,67.9 L485.4,68.1 L486.0,68.4 L486.6,66.9 L487.2,67.3 L487.8,68.2 L488.4,68.0 L489.0,67.3 L489.6,67.8 L490.2,67.0 L490.8,66.9 L491.4,66.7 L492.0,67.3 L492.6,67.0 L493.2,67.5 L493.8,68.3 L494.4,66.9 L495.0,67.6 L495.6,68.2 L496.2,67.7 L496.8,67.5 L497.4,68.0 L498.0,66.6 L498.6,68.3 L499.2,67.8 L499.8,68.1 L500.4,68.1 L501.0,66.8 L501.6,66.7 L502.2,66.9 L502.8,67.5 L503.4,68.3 L504.0,68.2 L504.6,67.3 L505.2,67.7 L505.8,67.9 L506.4,67.1 L507.0,68.3 L507.6,68.2 L508.2,67.8 L508.8,68.1 L509.4,67.9 L510.0,67.6 L510.6,67.0 L511.2,66.9 L511.8,66.8 L512.4,66.5 L513.0,68.0 L513.6,66.9 L514.2,66.4 L514.8,66.9 L515.4,66.5 L516.0,67.1 L516.6,66.8 L517.2,66.5 L517.8,67.1 L518.4,66.9 L519.0,66.8 L519.6,67.6 L520.2,66.7 L520.8,67.1 L521.4,67.6 L522.0,67.8 L522.6,66.7 L523.2,66.1 L523.8,67.7 L524.4,66.9 L525.0,66.3 L525.6,66.1 L526.2,66.3 L526.8,66.4 L527.4,66.1 L528.0,65.9 L528.6,67.6 L529.2,67.3 L529.8,66.0 L530.4,66.6 L531.0,67.2 L531.6,66.6 L532.2,65.8 L532.8,66.3 L533.4,66.4 L534.0,67.3 L534.6,66.7 L535.2,66.5 L535.8,66.8 L536.4,65.7 L537.0,66.9 L537.6,67.1 L538.2,66.8 L538.8,66.3 L539.4,66.1 L540.0,65.6 L540.6,65.7" fill="none" stroke="#1ca98a" stroke-width="1.4" stroke-linejoin="round" />
<path d="M380.4,73.6 L380.9,73.6 L381.4,73.4 L381.9,72.3 L382.4,72.9 L382.9,72.6 L383.4,72.7 L383.9,72.1 L384.4,72.1 L384.9,72.4 L385.4,72.1 L385.9,72.4 L386.4,71.7 L386.9,71.7 L387.4,72.5 L387.9,72.1 L388.4,72.2 L388.9,72.4 L389.4,71.8 L389.9,71.4 L390.4,72.3 L390.9,72.0 L391.4,72.0 L391.9,71.9 L392.4,72.4 L392.9,71.5 L393.4,72.0 L393.9,71.4 L394.4,71.6 L394.9,71.7 L395.4,71.2 L395.9,70.8 L396.4,71.3 L396.9,71.6 L397.4,71.4 L397.9,71.1 L398.4,71.3 L398.9,70.6 L399.4,70.6 L399.9,70.8 L400.4,71.4 L400.9,70.5 L401.4,70.3 L401.9,70.3 L402.4,70.1 L402.9,70.4 L403.4,70.8 L403.9,71.1 L404.4,70.4 L404.9,70.4 L405.4,70.3 L405.9,70.2 L406.4,70.9 L406.9,70.5 L407.4,70.1 L407.9,69.8 L408.4,70.8 L408.9,70.6 L409.4,70.8 L409.9,69.9 L410.4,70.3 L410.9,70.8 L411.4,70.3 L411.9,70.7 L412.4,69.6 L412.9,70.7 L413.4,69.3 L413.9,69.8 L414.4,69.2 L414.9,70.2 L415.4,70.0 L415.9,70.3 L416.4,70.0 L416.9,70.1 L417.4,69.4 L417.9,69.9 L418.4,69.5 L418.9,68.8 L419.4,69.5 L419.9,68.6 L420.4,68.2 L420.9,67.9 L421.4,68.3 L421.9,67.8 L422.4,68.7 L422.9,68.6 L423.4,67.5 L423.9,67.2 L424.4,67.7 L424.9,67.1 L425.4,67.4 L425.9,67.6 L426.4,66.7 L426.9,66.8 L427.4,67.3 L427.9,66.5 L428.4,66.1 L428.9,66.7 L429.4,66.4 L429.9,66.4 L430.4,65.9 L430.9,65.3 L431.4,65.5 L431.9,65.5 L432.4,65.0 L432.9,64.1 L433.4,63.9 L433.9,63.7 L434.4,63.9 L434.9,63.2 L435.4,62.9 L435.9,62.9 L436.4,61.5 L436.9,61.8 L437.4,60.8 L437.9,60.5 L438.4,60.2 L438.9,58.7 L439.4,59.0 L439.9,57.0 L440.4,56.9 L440.9,56.1 L441.4,55.3 L441.9,54.3 L442.4,53.4 L442.9,52.5 L443.4,51.4 L443.9,50.3 L444.4,48.9 L444.9,47.4 L445.4,45.9 L445.9,44.2 L446.4,42.5 L446.9,40.8 L447.4,38.9 L447.9,36.8 L448.4,34.6 L448.9,32.5 L449.4,30.4 L449.9,28.0 L450.4,25.5 L450.9,23.1 L451.4,20.9 L451.9,19.0 L452.4,17.4 L452.9,15.9 L453.4,14.7 L453.9,13.8 L454.4,13.0 L454.9,12.6 L455.4,12.3 L455.9,12.3 L456.4,12.5 L456.9,13.5 L457.4,15.9 L457.9,19.5 L458.4,24.9 L458.9,33.2 L459.4,40.9 L459.9,48.5 L460.4,55.9 L460.9,63.4 L461.4,71.3 L461.9,80.0 L462.4,87.8 L462.9,95.9 L463.4,103.9 L463.9,110.0 L464.4,115.3 L464.9,120.1 L465.4,124.3 L465.9,127.5 L466.4,130.2 L466.9,132.4 L467.4,134.0 L467.9,134.7 L468.4,134.6 L468.9,133.9 L469.4,132.5 L469.9,130.5 L470.4,128.9 L470.9,127.3 L471.4,125.5 L471.9,123.4 L472.4,121.3 L472.9,119.1 L473.4,116.9 L473.9,114.8 L474.4,112.8 L474.9,111.0 L475.4,109.2 L475.9,107.5 L476.4,105.7 L476.9,104.0 L477.4,102.3 L477.9,100.7 L478.4,99.1 L478.9,97.7 L479.4,96.3 L479.9,95.3 L480.4,94.5 L480.9,93.7 L481.4,92.5 L481.9,92.2 L482.4,91.4 L482.9,90.6 L483.4,90.3 L483.9,88.7 L484.4,88.6 L484.9,88.6 L485.4,87.1 L485.9,87.5 L486.4,86.0 L486.9,86.2 L487.4,85.1 L487.9,85.1 L488.4,84.6 L488.9,83.8 L489.4,84.3 L489.9,83.7 L490.4,83.6 L490.9,83.1 L491.4,82.8 L491.9,82.5 L492.4,81.9 L492.9,82.4 L493.4,81.0 L493.9,81.9 L494.4,81.6 L494.9,80.8 L495.4,81.0 L495.9,80.6 L496.4,80.2 L496.9,79.6 L497.4,79.6 L497.9,79.5 L498.4,79.3 L498.9,80.1 L499.4,79.2 L499.9,79.1 L500.4,79.1 L500.9,79.5 L501.4,79.0 L501.9,79.0 L502.4,78.5 L502.9,78.4 L503.4,78.1 L503.9,78.2 L504.4,78.2 L504.9,78.9 L505.4,78.3 L505.9,77.7 L506.4,78.1 L506.9,77.6 L507.4,78.1 L507.9,77.9 L508.4,78.4 L508.9,77.5 L509.4,78.2 L509.9,77.3 L510.4,78.3 L510.9,77.8 L511.4,76.9 L511.9,77.9 L512.4,77.1 L512.9,77.1 L513.4,76.8 L513.9,77.7 L514.4,76.6 L514.9,77.4 L515.4,76.9 L515.9,77.3 L516.4,76.7 L516.9,76.3 L517.4,77.5 L517.9,77.1 L518.4,76.4 L518.9,77.5 L519.4,77.3 L519.9,76.3 L520.4,76.0 L520.9,76.8 L521.4,76.1 L521.9,76.9 L522.4,76.6 L522.9,76.9 L523.4,76.7 L523.9,76.9 L524.4,77.0 L524.9,76.6 L525.4,76.6 L525.9,76.2 L526.4,75.9 L526.9,75.9 L527.4,76.9 L527.9,76.0 L528.4,76.3 L528.9,76.1 L529.4,76.5 L529.9,76.4 L530.4,76.8 L530.9,76.2 L531.4,76.1 L531.9,76.5 L532.4,76.6 L532.9,76.8 L533.4,76.0 L533.9,76.8 L534.4,76.9 L534.9,76.9 L535.4,75.7 L535.9,76.0 L536.4,76.5 L536.9,76.6 L537.4,75.5 L537.9,76.0 L538.4,76.4 L538.9,76.4 L539.4,76.1 L539.9,75.6 L540.4,75.9 L540.9,75.4" fill="none" stroke="#fd7a2e" stroke-width="1.3" stroke-linejoin="round" />
<rect x="380.4" y="76.5" width="80.8" height="53.5" fill="#fff" stroke="none"/>
<path d="M381.0,77.5 L381.4,79.5 L381.9,85.6 L382.3,92.0 L382.8,80.1 L383.2,79.5 L383.7,82.1 L384.1,93.7 L384.6,80.2 L385.0,93.3 L385.5,91.6 L385.9,80.0 L386.4,88.8 L386.8,86.9 L387.3,86.1 L387.7,98.9 L388.2,79.0 L388.6,77.5 L389.1,97.7 L389.5,85.9 L390.0,81.4 L390.4,84.3 L390.9,85.0 L391.3,98.0 L391.8,81.6 L392.2,81.8 L392.7,89.9 L393.1,89.0 L393.6,98.0 L394.0,95.5 L394.5,84.8 L394.9,81.5 L395.4,95.4 L395.8,98.8 L396.3,77.7 L396.7,93.3 L397.2,96.3 L397.6,91.6 L398.1,82.1 L398.5,94.9 L399.0,93.6 L399.4,81.9 L399.9,91.8 L400.3,82.6 L400.8,78.7 L401.2,85.3 L401.7,85.3 L402.1,86.7 L402.6,92.2 L403.0,96.4 L403.5,99.6 L403.9,100.9 L404.4,102.9 L404.8,100.2 L405.3,91.5 L405.7,90.4 L406.2,101.7 L406.6,100.8 L407.1,103.9 L407.5,91.7 L408.0,95.3 L408.4,113.3 L408.9,108.7 L409.3,113.2 L409.8,102.2 L410.2,110.6 L410.7,122.8 L411.1,117.3 L411.6,124.9 L412.0,107.6 L412.5,113.6 L412.9,121.5 L413.4,114.1 L413.8,122.1 L414.3,117.6 L414.7,108.4 L415.2,108.4 L415.6,128.4 L416.1,109.8 L416.5,111.8 L417.0,115.1 L417.4,123.6 L417.9,126.8 L418.3,118.5 L418.8,119.0 L419.2,125.4 L419.7,114.1 L420.1,116.2 L420.6,121.5 L421.0,122.0 L421.5,108.9 L421.9,110.5 L422.4,111.1 L422.8,124.1 L423.3,123.4 L423.7,129.0 L424.2,125.1 L424.6,113.8 L425.1,125.1 L425.5,129.0 L426.0,116.0 L426.4,108.6 L426.9,116.6 L427.3,114.6 L427.8,112.3 L428.2,109.4 L428.7,111.2 L429.1,127.5 L429.6,109.6 L430.0,122.1 L430.5,113.1 L430.9,112.9 L431.4,126.7 L431.8,115.3 L432.3,112.8 L432.7,118.8 L433.2,124.1 L433.6,120.3 L434.1,127.7 L434.5,117.7 L435.0,120.4 L435.4,124.7 L435.9,119.1 L436.3,124.7 L436.8,119.2 L437.2,111.9 L437.7,111.7 L438.1,126.2 L438.6,125.4 L439.0,129.0 L439.5,124.2 L439.9,121.8 L440.4,112.6 L440.8,127.5 L441.3,111.0 L441.7,117.2 L442.2,110.3 L442.6,114.9 L443.1,112.5 L443.5,114.3 L444.0,119.8 L444.4,115.3 L444.9,108.0 L445.3,119.2 L445.8,117.7 L446.2,119.4 L446.7,101.8 L447.1,114.5 L447.6,120.6 L448.0,106.3 L448.5,104.7 L448.9,117.6 L449.4,107.2 L449.8,107.3 L450.3,115.7 L450.7,105.4 L451.2,100.5 L451.6,100.1 L452.1,102.2 L452.5,109.3 L453.0,101.4 L453.4,109.8 L453.9,93.9 L454.3,97.6 L454.8,105.8 L455.2,102.5 L455.7,102.9 L456.1,112.4 L456.6,97.8 L457.0,95.5 L457.5,92.0 L457.9,101.6 L458.4,97.3 L458.8,101.0 L459.3,90.5 L459.7,90.2 L460.2,98.4 L460.6,106.7" fill="none" stroke="#27b898" stroke-width="0.6" stroke-linejoin="round" />
<path d="M381.0,96.4 L381.4,98.8 L381.9,100.5 L382.3,111.2 L382.8,104.0 L383.2,108.0 L383.7,96.9 L384.1,104.3 L384.6,110.3 L385.0,104.6 L385.5,112.2 L385.9,111.2 L386.4,102.0 L386.8,95.4 L387.3,109.0 L387.7,97.7 L388.2,95.7 L388.6,108.7 L389.1,110.8 L389.5,110.7 L390.0,112.9 L390.4,99.4 L390.9,97.3 L391.3,98.0 L391.8,113.5 L392.2,97.9 L392.7,98.8 L393.1,96.3 L393.6,96.9 L394.0,96.7 L394.5,102.4 L394.9,98.9 L395.4,101.6 L395.8,112.7 L396.3,99.0 L396.7,110.7 L397.2,109.3 L397.6,106.2 L398.1,106.4 L398.5,109.9 L399.0,106.6 L399.4,100.1 L399.9,101.9 L400.3,100.4 L400.8,103.2 L401.2,113.8 L401.7,103.7 L402.1,97.3 L402.6,104.6 L403.0,110.6 L403.5,104.0 L403.9,108.6 L404.4,97.6 L404.8,97.1 L405.3,107.9 L405.7,96.9 L406.2,101.4 L406.6,102.9 L407.1,99.5 L407.5,96.7 L408.0,96.1 L408.4,113.1 L408.9,108.4 L409.3,113.1 L409.8,104.9 L410.2,113.2 L410.7,111.5 L411.1,107.1 L411.6,105.5 L412.0,105.2 L412.5,100.1 L412.9,102.9 L413.4,109.1 L413.8,99.7 L414.3,111.5 L414.7,105.4 L415.2,107.1 L415.6,111.1 L416.1,108.0 L416.5,98.9 L417.0,100.9 L417.4,96.5 L417.9,97.0 L418.3,113.7 L418.8,107.3 L419.2,114.1 L419.7,110.8 L420.1,102.4 L420.6,114.2 L421.0,113.4 L421.5,105.1 L421.9,98.4 L422.4,102.7 L422.8,99.9 L423.3,103.5 L423.7,98.5 L424.2,109.8 L424.6,114.6 L425.1,100.8 L425.5,111.0 L426.0,107.5 L426.4,105.7 L426.9,113.3 L427.3,103.7 L427.8,111.7 L428.2,97.5 L428.7,114.2 L429.1,100.1 L429.6,96.9 L430.0,112.6 L430.5,109.7 L430.9,108.8 L431.4,110.4 L431.8,103.4 L432.3,98.6 L432.7,102.2 L433.2,113.6 L433.6,114.0 L434.1,100.5 L434.5,104.3 L435.0,104.4 L435.4,112.5 L435.9,96.3 L436.3,111.1 L436.8,100.7 L437.2,106.0 L437.7,98.4 L438.1,97.6 L438.6,111.9 L439.0,105.1 L439.5,113.5 L439.9,111.6 L440.4,109.5 L440.8,97.3 L441.3,106.6 L441.7,113.8 L442.2,104.9 L442.6,97.0 L443.1,99.1 L443.5,113.5 L444.0,113.2 L444.4,100.0 L444.9,101.2 L445.3,108.3 L445.8,104.4 L446.2,98.5 L446.7,112.8 L447.1,106.1 L447.6,101.4 L448.0,95.1 L448.5,103.8 L448.9,108.0 L449.4,97.5 L449.8,95.8 L450.3,107.1 L450.7,110.5 L451.2,100.6 L451.6,102.2 L452.1,105.0 L452.5,102.8 L453.0,95.6 L453.4,98.1 L453.9,96.7 L454.3,96.5 L454.8,94.4 L455.2,99.7 L455.7,96.5 L456.1,107.8 L456.6,98.2 L457.0,109.7 L457.5,106.9 L457.9,97.1 L458.4,94.9 L458.8,102.4 L459.3,100.6 L459.7,101.7 L460.2,94.2 L460.6,101.6" fill="none" stroke="#7089c8" stroke-width="0.6" stroke-linejoin="round" />
<rect x="380.4" y="76.5" width="80.8" height="53.5" fill="none" stroke="#555" stroke-width="0.8"/>
<text x="387.6" y="134.3" font-size="3" text-anchor="middle" font-weight="bold" font-family='"Liberation Serif", serif' fill="#111" stroke="#111" stroke-width="0.1" >3496</text>
<text x="400.7" y="134.3" font-size="3" text-anchor="middle" font-weight="bold" font-family='"Liberation Serif", serif' fill="#111" stroke="#111" stroke-width="0.1" >3500</text>
<text x="413.8" y="134.3" font-size="3" text-anchor="middle" font-weight="bold" font-family='"Liberation Serif", serif' fill="#111" stroke="#111" stroke-width="0.1" >3504</text>
<text x="426.9" y="134.3" font-size="3" text-anchor="middle" font-weight="bold" font-family='"Liberation Serif", serif' fill="#111" stroke="#111" stroke-width="0.1" >3508</text>
<text x="440" y="134.3" font-size="3" text-anchor="middle" font-weight="bold" font-family='"Liberation Serif", serif' fill="#111" stroke="#111" stroke-width="0.1" >3512</text>
<text x="453.1" y="134.3" font-size="3" text-anchor="middle" font-weight="bold" font-family='"Liberation Serif", serif' fill="#111" stroke="#111" stroke-width="0.1" >3516</text>
<rect x="380.4" y="9.8" width="160.5" height="129.1" fill="none" stroke="#444" stroke-width="1.2"/>
<line x1="390.2" y1="138.9" x2="390.2" y2="139.9" stroke="#444" stroke-width="0.8" />
<line x1="409" y1="138.9" x2="409" y2="140.5" stroke="#444" stroke-width="0.8" />
<line x1="427.8" y1="138.9" x2="427.8" y2="139.9" stroke="#444" stroke-width="0.8" />
<line x1="446.6" y1="138.9" x2="446.6" y2="140.5" stroke="#444" stroke-width="0.8" />
<line x1="465.4" y1="138.9" x2="465.4" y2="139.9" stroke="#444" stroke-width="0.8" />
<line x1="484.2" y1="138.9" x2="484.2" y2="140.5" stroke="#444" stroke-width="0.8" />
<line x1="503" y1="138.9" x2="503" y2="139.9" stroke="#444" stroke-width="0.8" />
<line x1="521.8" y1="138.9" x2="521.8" y2="140.5" stroke="#444" stroke-width="0.8" />
<line x1="540.6" y1="138.9" x2="540.6" y2="139.9" stroke="#444" stroke-width="0.8" />
<text x="409" y="149.6" font-size="7.8" text-anchor="middle" font-weight="bold" font-family='"Liberation Sans", sans-serif' fill="#111" textLength="15" lengthAdjust="spacingAndGlyphs" stroke="#111" stroke-width="0.2" >3480</text>
<text x="446.6" y="149.6" font-size="7.8" text-anchor="middle" font-weight="bold" font-family='"Liberation Sans", sans-serif' fill="#111" textLength="15" lengthAdjust="spacingAndGlyphs" stroke="#111" stroke-width="0.2" >3500</text>
<text x="484.2" y="149.6" font-size="7.8" text-anchor="middle" font-weight="bold" font-family='"Liberation Sans", sans-serif' fill="#111" textLength="15" lengthAdjust="spacingAndGlyphs" stroke="#111" stroke-width="0.2" >3520</text>
<text x="521.8" y="149.6" font-size="7.8" text-anchor="middle" font-weight="bold" font-family='"Liberation Sans", sans-serif' fill="#111" textLength="15" lengthAdjust="spacingAndGlyphs" stroke="#111" stroke-width="0.2" >3540</text>
<text x="425.7" y="159" font-size="8" text-anchor="start" font-weight="bold" font-family='"Liberation Sans", sans-serif' fill="#111" textLength="69.3" lengthAdjust="spacingAndGlyphs" stroke="#111" stroke-width="0.2" >Magnetic Field (mT)</text>
<text x="369" y="12.4" font-size="9.8" text-anchor="start" font-weight="bold" font-family='"Liberation Serif", serif' fill="#111" textLength="7.4" lengthAdjust="spacingAndGlyphs" stroke="#111" stroke-width="0.2" >c)</text>
<text transform="translate(374.9,74) rotate(-90)" x="0" y="0" font-size="9" text-anchor="middle" dominant-baseline="central" font-weight="bold" font-family='"Liberation Serif", serif' fill="#111" textLength="50" lengthAdjust="spacingAndGlyphs" stroke="#111" stroke-width="0.2">Intensity (a.u.)</text>
<line x1="467.2" y1="16.8" x2="483.1" y2="16.8" stroke="#f8905a" stroke-width="2" />
<line x1="467.2" y1="25.5" x2="483.1" y2="25.5" stroke="#4cc0a2" stroke-width="2" />
<line x1="467.2" y1="34.2" x2="483.1" y2="34.2" stroke="#b4c1e2" stroke-width="2" />
<text x="485.6" y="19.6" font-size="7.6" text-anchor="start" font-weight="bold" font-family='"Liberation Serif", serif' fill="#111" textLength="51" lengthAdjust="spacingAndGlyphs" stroke="#111" stroke-width="0.2" >10 wt% Cu-ZnS</text>
<text x="485.6" y="28.3" font-size="7.6" text-anchor="start" font-weight="bold" font-family='"Liberation Serif", serif' fill="#111" textLength="51.5" lengthAdjust="spacingAndGlyphs" stroke="#111" stroke-width="0.2" >0.6 wt% Cu-ZnS</text>
<text x="485.6" y="37" font-size="7.6" text-anchor="start" font-weight="bold" font-family='"Liberation Serif", serif' fill="#111" textLength="51.5" lengthAdjust="spacingAndGlyphs" stroke="#111" stroke-width="0.2" >0.3 wt% Cu-ZnS</text>
<defs><linearGradient id="gd1" x1="0" y1="0" x2="0" y2="1"><stop offset="0" stop-color="#1cc49b"/><stop offset="1" stop-color="#f4fffb"/></linearGradient><linearGradient id="gd2" x1="0" y1="0" x2="0" y2="1"><stop offset="0" stop-color="#6a8c83"/><stop offset="1" stop-color="#f8fbfa"/></linearGradient><linearGradient id="ge" x1="0" y1="0" x2="0" y2="1"><stop offset="0" stop-color="#3a7f48"/><stop offset="0.35" stop-color="#a9c9af"/><stop offset="1" stop-color="#ffffff"/></linearGradient><linearGradient id="gf1" x1="0" y1="0" x2="0" y2="1"><stop offset="0" stop-color="#f2ad2c"/><stop offset="1" stop-color="#ffffff"/></linearGradient><linearGradient id="gf2" x1="0" y1="0" x2="0" y2="1"><stop offset="0" stop-color="#ae915f"/><stop offset="1" stop-color="#ffffff"/></linearGradient></defs>
<path d="M22.2,282.7 L22.6,282.7 L23.0,282.6 L23.4,282.6 L23.8,282.6 L24.2,282.5 L24.6,282.5 L25.0,282.4 L25.4,282.4 L25.8,282.3 L26.2,282.3 L26.6,282.2 L27.0,282.1 L27.4,282.0 L27.8,281.9 L28.2,281.8 L28.6,281.7 L29.0,281.6 L29.4,281.4 L29.8,281.3 L30.2,281.1 L30.6,280.9 L31.0,280.7 L31.4,280.5 L31.8,280.2 L32.2,279.9 L32.6,279.6 L33.0,279.3 L33.4,278.9 L33.8,278.5 L34.2,278.1 L34.6,277.6 L35.0,277.1 L35.4,276.5 L35.8,276.0 L36.2,275.3 L36.6,274.7 L37.0,274.0 L37.4,273.3 L37.8,272.5 L38.2,271.8 L38.6,270.9 L39.0,270.1 L39.4,269.2 L39.8,268.3 L40.2,267.4 L40.6,266.5 L41.0,265.6 L41.4,264.7 L41.8,263.8 L42.2,262.8 L42.6,261.9 L43.0,261.1 L43.4,260.2 L43.8,259.4 L44.2,258.6 L44.6,257.9 L45.0,257.2 L45.4,256.6 L45.8,256.0 L46.2,255.5 L46.6,255.1 L47.0,254.7 L47.4,254.4 L47.8,254.2 L48.2,254.1 L48.6,254.1 L49.0,254.1 L49.4,254.2 L49.8,254.4 L50.2,254.7 L50.6,255.1 L51.0,255.5 L51.4,256.0 L51.8,256.6 L52.2,257.2 L52.6,257.9 L53.0,258.6 L53.4,259.3 L53.8,260.1 L54.2,260.9 L54.6,261.8 L55.0,262.7 L55.4,263.5 L55.8,264.4 L56.2,265.3 L56.6,266.2 L57.0,267.0 L57.4,267.9 L57.8,268.7 L58.2,269.5 L58.6,270.3 L59.0,271.1 L59.4,271.8 L59.8,272.5 L60.2,273.1 L60.6,273.8 L61.0,274.3 L61.4,274.9 L61.8,275.4 L62.2,275.9 L62.6,276.3 L63.0,276.7 L63.4,277.1 L63.8,277.4 L64.2,277.7 L64.6,278.0 L65.0,278.3 L65.4,278.5 L65.8,278.7 L66.2,278.9 L66.6,279.0 L67.0,279.2 L67.4,279.3 L67.8,279.4 L68.2,279.5 L68.6,279.6 L69.0,279.6 L69.4,279.7 L69.8,279.7 L70.2,279.7 L70.6,279.8 L71.0,279.8 L71.4,279.8 L71.8,279.8 L72.2,279.8 L72.6,279.8 L73.0,279.8 L73.4,279.8 L73.8,279.8 L74.2,279.8 L74.6,279.8 L74.6,279.8 L22.2,282.7" fill="url(#gd1)" stroke="none" stroke-width="0" stroke-linejoin="round" />
<path d="M22.2,282.7 L22.6,282.7 L23.0,282.6 L23.4,282.6 L23.8,282.6 L24.2,282.5 L24.6,282.5 L25.0,282.4 L25.4,282.4 L25.8,282.3 L26.2,282.3 L26.6,282.2 L27.0,282.1 L27.4,282.0 L27.8,281.9 L28.2,281.8 L28.6,281.7 L29.0,281.6 L29.4,281.4 L29.8,281.3 L30.2,281.1 L30.6,280.9 L31.0,280.7 L31.4,280.5 L31.8,280.2 L32.2,279.9 L32.6,279.6 L33.0,279.3 L33.4,278.9 L33.8,278.5 L34.2,278.1 L34.6,277.6 L35.0,277.1 L35.4,276.5 L35.8,276.0 L36.2,275.3 L36.6,274.7 L37.0,274.0 L37.4,273.3 L37.8,272.5 L38.2,271.8 L38.6,270.9 L39.0,270.1 L39.4,269.2 L39.8,268.3 L40.2,267.4 L40.6,266.5 L41.0,265.6 L41.4,264.7 L41.8,263.8 L42.2,262.8 L42.6,261.9 L43.0,261.1 L43.4,260.2 L43.8,259.4 L44.2,258.6 L44.6,257.9 L45.0,257.2 L45.4,256.6 L45.8,256.0 L46.2,255.5 L46.6,255.1 L47.0,254.7 L47.4,254.4 L47.8,254.2 L48.2,254.1 L48.6,254.1 L49.0,254.1 L49.4,254.2 L49.8,254.4 L50.2,254.7 L50.6,255.1 L51.0,255.5 L51.4,256.0 L51.8,256.6 L52.2,257.2 L52.6,257.9 L53.0,258.6 L53.4,259.3 L53.8,260.1 L54.2,260.9 L54.6,261.8 L55.0,262.7 L55.4,263.5 L55.8,264.4 L56.2,265.3 L56.6,266.2 L57.0,267.0 L57.4,267.9 L57.8,268.7 L58.2,269.5 L58.6,270.3 L59.0,271.1 L59.4,271.8 L59.8,272.5 L60.2,273.1 L60.6,273.8 L61.0,274.3 L61.4,274.9 L61.8,275.4 L62.2,275.9 L62.6,276.3 L63.0,276.7 L63.4,277.1 L63.8,277.4 L64.2,277.7 L64.6,278.0 L65.0,278.3 L65.4,278.5 L65.8,278.7 L66.2,278.9 L66.6,279.0 L67.0,279.2 L67.4,279.3 L67.8,279.4 L68.2,279.5 L68.6,279.6 L69.0,279.6 L69.4,279.7 L69.8,279.7 L70.2,279.7 L70.6,279.8 L71.0,279.8 L71.4,279.8 L71.8,279.8 L72.2,279.8 L72.6,279.8 L73.0,279.8 L73.4,279.8 L73.8,279.8 L74.2,279.8 L74.6,279.8" fill="none" stroke="#22b396" stroke-width="1.3" stroke-linejoin="round" />
<path d="M139.2,272.8 L139.6,272.7 L140.0,272.6 L140.4,272.4 L140.8,272.3 L141.2,272.1 L141.6,271.9 L142.0,271.6 L142.4,271.3 L142.8,270.9 L143.2,270.4 L143.6,269.9 L144.0,269.2 L144.4,268.3 L144.8,267.3 L145.2,266.2 L145.6,264.8 L146.0,263.2 L146.4,261.4 L146.8,259.4 L147.2,257.1 L147.6,254.5 L148.0,251.7 L148.4,248.6 L148.8,245.3 L149.2,241.8 L149.6,238.1 L150.0,234.4 L150.4,230.6 L150.8,226.7 L151.2,223.0 L151.6,219.4 L152.0,216.0 L152.4,212.9 L152.8,210.2 L153.2,207.9 L153.6,206.0 L154.0,204.7 L154.4,204.0 L154.8,203.8 L155.2,204.2 L155.6,205.2 L156.0,206.7 L156.4,208.7 L156.8,211.2 L157.2,214.1 L157.6,217.2 L158.0,220.7 L158.4,224.2 L158.8,227.9 L159.2,231.7 L159.6,235.4 L160.0,239.0 L160.4,242.4 L160.8,245.7 L161.2,248.7 L161.6,251.6 L162.0,254.1 L162.4,256.4 L162.8,258.5 L163.2,260.3 L163.6,261.9 L164.0,263.2 L164.4,264.3 L164.8,265.3 L165.2,266.1 L165.6,266.7 L166.0,267.2 L166.4,267.6 L166.8,268.0 L167.2,268.2 L167.6,268.4 L168.0,268.5 L168.4,268.6 L168.8,268.7 L169.2,268.7 L169.6,268.7 L170.0,268.7 L170.0,268.8 L139.2,272.9" fill="url(#gd2)" stroke="none" stroke-width="0" stroke-linejoin="round" />
<path d="M139.2,272.8 L139.6,272.7 L140.0,272.6 L140.4,272.4 L140.8,272.3 L141.2,272.1 L141.6,271.9 L142.0,271.6 L142.4,271.3 L142.8,270.9 L143.2,270.4 L143.6,269.9 L144.0,269.2 L144.4,268.3 L144.8,267.3 L145.2,266.2 L145.6,264.8 L146.0,263.2 L146.4,261.4 L146.8,259.4 L147.2,257.1 L147.6,254.5 L148.0,251.7 L148.4,248.6 L148.8,245.3 L149.2,241.8 L149.6,238.1 L150.0,234.4 L150.4,230.6 L150.8,226.7 L151.2,223.0 L151.6,219.4 L152.0,216.0 L152.4,212.9 L152.8,210.2 L153.2,207.9 L153.6,206.0 L154.0,204.7 L154.4,204.0 L154.8,203.8 L155.2,204.2 L155.6,205.2 L156.0,206.7 L156.4,208.7 L156.8,211.2 L157.2,214.1 L157.6,217.2 L158.0,220.7 L158.4,224.2 L158.8,227.9 L159.2,231.7 L159.6,235.4 L160.0,239.0 L160.4,242.4 L160.8,245.7 L161.2,248.7 L161.6,251.6 L162.0,254.1 L162.4,256.4 L162.8,258.5 L163.2,260.3 L163.6,261.9 L164.0,263.2 L164.4,264.3 L164.8,265.3 L165.2,266.1 L165.6,266.7 L166.0,267.2 L166.4,267.6 L166.8,268.0 L167.2,268.2 L167.6,268.4 L168.0,268.5 L168.4,268.6 L168.8,268.7 L169.2,268.7 L169.6,268.7 L170.0,268.7" fill="none" stroke="#2a8c7c" stroke-width="1.3" stroke-linejoin="round" />
<path d="M17.9,281.6 L18.8,282.6 L19.7,279.8 L20.6,279.7 L21.5,278.4 L22.4,277.8 L23.3,277.2 L24.2,281.0 L25.1,277.3 L26.0,277.4 L26.9,280.6 L27.8,280.3 L28.7,275.3 L29.6,275.6 L30.5,278.4 L31.4,277.9 L32.3,274.6 L33.2,277.0 L34.1,273.9 L35.0,274.8 L35.9,271.9 L36.8,272.9 L37.7,271.4 L38.6,270.4 L39.5,269.1 L40.4,267.0 L41.3,265.0 L42.2,262.9 L43.1,260.9 L44.0,259.0 L44.9,257.4 L45.8,250.7 L46.7,249.7 L47.6,250.2 L48.5,250.9 L49.4,248.8 L50.3,248.0 L51.2,250.3 L52.1,257.0 L53.0,258.5 L53.9,260.3 L54.8,262.2 L55.7,264.2 L56.6,266.1 L57.5,268.1 L58.4,269.1 L59.3,269.9 L60.2,269.7 L61.1,269.1 L62.0,270.1 L62.9,271.2 L63.8,269.7 L64.7,273.9 L65.6,269.5 L66.5,271.8 L67.4,273.7 L68.3,273.7 L69.2,271.4 L70.1,270.9 L71.0,269.6 L71.9,274.0 L72.8,271.2 L73.7,269.7 L74.6,271.3 L75.5,270.0 L76.4,273.3 L77.3,271.1 L78.2,273.5 L79.1,274.1 L80.0,268.9 L80.9,274.2 L81.8,270.1 L82.7,274.2 L83.6,273.2 L84.5,272.3 L85.4,273.2 L86.3,272.9 L87.2,271.0 L88.1,270.2 L89.0,273.9 L89.9,276.7 L90.8,269.6 L91.7,272.8 L92.6,270.3 L93.5,270.8 L94.4,269.4 L95.3,272.6 L96.2,269.0 L97.1,268.3 L98.0,269.0 L98.9,275.4 L99.8,267.1 L100.7,268.4 L101.6,268.0 L102.5,270.3 L103.4,267.2 L104.3,271.2 L105.2,266.9 L106.1,266.4 L107.0,266.6 L107.9,266.1 L108.8,266.0 L109.7,265.7 L110.6,265.2 L111.5,265.7 L112.4,268.5 L113.3,265.0 L114.2,267.0 L115.1,267.1 L116.0,265.7 L116.9,267.9 L117.8,263.9 L118.7,264.2 L119.6,265.7 L120.5,264.6 L121.4,266.9 L122.3,266.5 L123.2,262.8 L124.1,265.8 L125.0,264.1 L125.9,267.1 L126.8,265.5 L127.7,264.2 L128.6,263.8 L129.5,266.0 L130.4,264.2 L131.3,264.6 L132.2,264.8 L133.1,259.3 L134.0,261.0 L134.9,260.1 L135.8,261.4 L136.7,258.5 L137.6,258.7 L138.5,258.4 L139.4,257.2 L140.3,262.5 L141.2,259.0 L142.1,259.6 L143.0,261.4 L143.9,258.4 L144.8,257.4 L145.7,258.8 L146.6,259.9 L147.5,255.3 L148.4,248.7 L149.3,241.1 L150.2,232.7 L151.1,224.1 L152.0,216.2 L152.9,209.7 L153.8,202.9 L154.7,203.0 L155.6,202.3 L156.5,209.2 L157.4,215.5 L158.3,223.2 L159.2,231.5 L160.1,239.7 L161.0,247.1 L161.9,253.4 L162.8,257.8 L163.7,259.6 L164.6,259.0 L165.5,260.6 L166.4,261.8 L167.3,262.9 L168.2,260.9 L169.1,260.4 L170.0,260.7 L170.9,261.9 L171.8,259.9 L172.7,260.2 L173.6,258.1 L174.5,259.1 L175.4,263.1 L176.3,263.8 L177.2,264.4 L178.1,260.6" fill="none" stroke="#7e7e7e" stroke-width="0.8" stroke-linejoin="round" />
<path d="M17.4,283.0 L95.0,278.7 L170.0,268.8 L175.0,268.0 L179.1,265.5" fill="none" stroke="#2e6474" stroke-width="1.1" stroke-linejoin="round" />
<rect x="17.4" y="165.5" width="161.7" height="130.2" fill="none" stroke="#444" stroke-width="1.2"/>
<line x1="33.5" y1="295.7" x2="33.5" y2="297.3" stroke="#444" stroke-width="0.8" />
<line x1="60.4" y1="295.7" x2="60.4" y2="297.3" stroke="#444" stroke-width="0.8" />
<line x1="87.3" y1="295.7" x2="87.3" y2="297.3" stroke="#444" stroke-width="0.8" />
<line x1="114.2" y1="295.7" x2="114.2" y2="297.3" stroke="#444" stroke-width="0.8" />
<line x1="141.1" y1="295.7" x2="141.1" y2="297.3" stroke="#444" stroke-width="0.8" />
<line x1="168" y1="295.7" x2="168" y2="297.3" stroke="#444" stroke-width="0.8" />
<line x1="20.1" y1="295.7" x2="20.1" y2="296.7" stroke="#444" stroke-width="0.8" />
<line x1="47" y1="295.7" x2="47" y2="296.7" stroke="#444" stroke-width="0.8" />
<line x1="73.8" y1="295.7" x2="73.8" y2="296.7" stroke="#444" stroke-width="0.8" />
<line x1="100.8" y1="295.7" x2="100.8" y2="296.7" stroke="#444" stroke-width="0.8" />
<line x1="127.6" y1="295.7" x2="127.6" y2="296.7" stroke="#444" stroke-width="0.8" />
<line x1="154.6" y1="295.7" x2="154.6" y2="296.7" stroke="#444" stroke-width="0.8" />
<text x="33.5" y="306" font-size="7.2" text-anchor="middle" font-weight="bold" font-family='"Liberation Serif", serif' fill="#111" textLength="11.5" lengthAdjust="spacingAndGlyphs" stroke="#111" stroke-width="0.2" >955</text>
<text x="60.4" y="306" font-size="7.2" text-anchor="middle" font-weight="bold" font-family='"Liberation Serif", serif' fill="#111" textLength="11.5" lengthAdjust="spacingAndGlyphs" stroke="#111" stroke-width="0.2" >950</text>
<text x="87.3" y="306" font-size="7.2" text-anchor="middle" font-weight="bold" font-family='"Liberation Serif", serif' fill="#111" textLength="11.5" lengthAdjust="spacingAndGlyphs" stroke="#111" stroke-width="0.2" >945</text>
<text x="114.2" y="306" font-size="7.2" text-anchor="middle" font-weight="bold" font-family='"Liberation Serif", serif' fill="#111" textLength="11.5" lengthAdjust="spacingAndGlyphs" stroke="#111" stroke-width="0.2" >940</text>
<text x="141.1" y="306" font-size="7.2" text-anchor="middle" font-weight="bold" font-family='"Liberation Serif", serif' fill="#111" textLength="11.5" lengthAdjust="spacingAndGlyphs" stroke="#111" stroke-width="0.2" >935</text>
<text x="168" y="306" font-size="7.2" text-anchor="middle" font-weight="bold" font-family='"Liberation Serif", serif' fill="#111" textLength="11.5" lengthAdjust="spacingAndGlyphs" stroke="#111" stroke-width="0.2" >930</text>
<text x="63.8" y="317.3" font-size="8" text-anchor="start" font-weight="bold" font-family='"Liberation Serif", serif' fill="#111" textLength="68.9" lengthAdjust="spacingAndGlyphs" stroke="#111" stroke-width="0.2" >Binding energy (eV)</text>
<text x="6.4" y="168" font-size="9.6" text-anchor="start" font-weight="bold" font-family='"Liberation Serif", serif' fill="#111" textLength="8.6" lengthAdjust="spacingAndGlyphs" stroke="#111" stroke-width="0.2" >d)</text>
<text x="156.1" y="176.6" font-size="7.8" text-anchor="start" font-weight="bold" font-family='"Liberation Serif", serif' fill="#111" textLength="18.4" lengthAdjust="spacingAndGlyphs" stroke="#111" stroke-width="0.2" >Cu2p</text>
<text transform="translate(9.6,229) rotate(-90)" x="0" y="0" font-size="8.6" text-anchor="middle" dominant-baseline="central" font-weight="bold" font-family='"Liberation Serif", serif' fill="#111" textLength="52" lengthAdjust="spacingAndGlyphs" stroke="#111" stroke-width="0.2">Intensity (a.u.)</text>
<text transform="translate(49.9,224.5) rotate(-90)" x="0" y="0" font-size="6.4" text-anchor="middle" dominant-baseline="central" font-weight="bold" font-family='"Liberation Serif", serif' fill="#111" textLength="26" lengthAdjust="spacingAndGlyphs" stroke="#111" stroke-width="0.2">Cu2p1/2</text>
<text transform="translate(145.6,206.2) rotate(-90)" x="0" y="0" font-size="6.4" text-anchor="middle" dominant-baseline="central" font-weight="bold" font-family='"Liberation Serif", serif' fill="#111" textLength="26.3" lengthAdjust="spacingAndGlyphs" stroke="#111" stroke-width="0.2">Cu2p3/2</text>
<path d="M201.2,220.3 L201.5,220.3 L201.8,220.3 L202.1,220.3 L202.4,220.2 L202.7,220.2 L203.0,220.1 L203.3,220.1 L203.6,220.0 L203.9,220.0 L204.2,219.9 L204.5,219.8 L204.8,219.8 L205.1,219.7 L205.4,219.6 L205.7,219.4 L206.0,219.3 L206.3,219.1 L206.6,218.9 L206.9,218.7 L207.2,218.4 L207.5,218.1 L207.8,217.8 L208.1,217.4 L208.4,216.9 L208.7,216.4 L209.0,215.8 L209.3,215.1 L209.6,214.4 L209.9,213.6 L210.2,212.7 L210.5,211.7 L210.8,210.7 L211.1,209.7 L211.4,208.6 L211.7,207.4 L212.0,206.3 L212.3,205.2 L212.6,204.2 L212.9,203.2 L213.2,202.4 L213.5,201.8 L213.8,201.3 L214.1,201.1 L214.4,201.2 L214.7,201.5 L215.0,202.0 L215.3,202.7 L215.6,203.6 L215.9,204.6 L216.2,205.7 L216.5,206.9 L216.8,208.0 L217.1,209.2 L217.4,210.3 L217.7,211.3 L218.0,212.4 L218.3,213.3 L218.6,214.2 L218.9,215.0 L219.2,215.7 L219.5,216.4 L219.8,217.0 L220.1,217.5 L220.4,218.0 L220.7,218.5 L221.0,218.9 L221.3,219.2 L221.6,219.6 L221.9,219.9 L222.2,220.1 L222.5,220.3 L222.8,220.5 L223.1,220.7 L223.4,220.9 L223.7,221.0 L224.0,221.2 L224.3,221.3 L224.6,221.5 L224.9,221.6 L225.2,221.7 L225.5,221.8 L225.8,221.9 L226.1,222.0 L226.4,222.1 L226.7,222.2 L227.0,222.3 L227.0,223.0 L201.2,221.0" fill="url(#ge)" stroke="none" stroke-width="0" stroke-linejoin="round" />
<path d="M201.2,220.3 L201.5,220.3 L201.8,220.3 L202.1,220.3 L202.4,220.2 L202.7,220.2 L203.0,220.1 L203.3,220.1 L203.6,220.0 L203.9,220.0 L204.2,219.9 L204.5,219.8 L204.8,219.8 L205.1,219.7 L205.4,219.6 L205.7,219.4 L206.0,219.3 L206.3,219.1 L206.6,218.9 L206.9,218.7 L207.2,218.4 L207.5,218.1 L207.8,217.8 L208.1,217.4 L208.4,216.9 L208.7,216.4 L209.0,215.8 L209.3,215.1 L209.6,214.4 L209.9,213.6 L210.2,212.7 L210.5,211.7 L210.8,210.7 L211.1,209.7 L211.4,208.6 L211.7,207.4 L212.0,206.3 L212.3,205.2 L212.6,204.2 L212.9,203.2 L213.2,202.4 L213.5,201.8 L213.8,201.3 L214.1,201.1 L214.4,201.2 L214.7,201.5 L215.0,202.0 L215.3,202.7 L215.6,203.6 L215.9,204.6 L216.2,205.7 L216.5,206.9 L216.8,208.0 L217.1,209.2 L217.4,210.3 L217.7,211.3 L218.0,212.4 L218.3,213.3 L218.6,214.2 L218.9,215.0 L219.2,215.7 L219.5,216.4 L219.8,217.0 L220.1,217.5 L220.4,218.0 L220.7,218.5 L221.0,218.9 L221.3,219.2 L221.6,219.6 L221.9,219.9 L222.2,220.1 L222.5,220.3 L222.8,220.5 L223.1,220.7 L223.4,220.9 L223.7,221.0 L224.0,221.2 L224.3,221.3 L224.6,221.5 L224.9,221.6 L225.2,221.7 L225.5,221.8 L225.8,221.9 L226.1,222.0 L226.4,222.1 L226.7,222.2 L227.0,222.3" fill="none" stroke="#2f9a35" stroke-width="1.5" stroke-linejoin="round" />
<path d="M324.3,223.7 L324.6,223.7 L324.9,223.6 L325.2,223.5 L325.5,223.4 L325.8,223.3 L326.1,223.2 L326.4,223.0 L326.7,222.9 L327.0,222.8 L327.3,222.6 L327.6,222.4 L327.9,222.2 L328.2,221.9 L328.5,221.7 L328.8,221.4 L329.1,221.0 L329.4,220.6 L329.7,220.1 L330.0,219.6 L330.3,219.0 L330.6,218.3 L330.9,217.5 L331.2,216.6 L331.5,215.6 L331.8,214.5 L332.1,213.2 L332.4,211.8 L332.7,210.3 L333.0,208.6 L333.3,206.7 L333.6,204.7 L333.9,202.6 L334.2,200.4 L334.5,198.1 L334.8,195.8 L335.1,193.4 L335.4,191.1 L335.7,188.9 L336.0,186.9 L336.3,185.1 L336.6,183.8 L336.9,182.8 L337.2,182.4 L337.5,182.5 L337.8,183.1 L338.1,184.2 L338.4,185.7 L338.7,187.6 L339.0,189.7 L339.3,191.9 L339.6,194.3 L339.9,196.7 L340.2,199.0 L340.5,201.3 L340.8,203.5 L341.1,205.6 L341.4,207.5 L341.7,209.3 L342.0,211.0 L342.3,212.5 L342.6,213.9 L342.9,215.1 L343.2,216.2 L343.5,217.2 L343.8,218.1 L344.1,218.9 L344.4,219.5 L344.7,220.1 L345.0,220.7 L345.3,221.1 L345.6,221.5 L345.9,221.9 L346.2,222.2 L346.5,222.4 L346.8,222.7 L347.1,222.9 L347.4,223.1 L347.7,223.3 L348.0,223.4 L348.3,223.6 L348.6,223.7 L348.9,223.8 L349.2,224.0 L349.5,224.1 L349.8,224.2 L350.1,224.3 L350.1,226.2 L324.3,225.6" fill="url(#ge)" stroke="none" stroke-width="0" stroke-linejoin="round" />
<path d="M324.3,223.7 L324.6,223.7 L324.9,223.6 L325.2,223.5 L325.5,223.4 L325.8,223.3 L326.1,223.2 L326.4,223.0 L326.7,222.9 L327.0,222.8 L327.3,222.6 L327.6,222.4 L327.9,222.2 L328.2,221.9 L328.5,221.7 L328.8,221.4 L329.1,221.0 L329.4,220.6 L329.7,220.1 L330.0,219.6 L330.3,219.0 L330.6,218.3 L330.9,217.5 L331.2,216.6 L331.5,215.6 L331.8,214.5 L332.1,213.2 L332.4,211.8 L332.7,210.3 L333.0,208.6 L333.3,206.7 L333.6,204.7 L333.9,202.6 L334.2,200.4 L334.5,198.1 L334.8,195.8 L335.1,193.4 L335.4,191.1 L335.7,188.9 L336.0,186.9 L336.3,185.1 L336.6,183.8 L336.9,182.8 L337.2,182.4 L337.5,182.5 L337.8,183.1 L338.1,184.2 L338.4,185.7 L338.7,187.6 L339.0,189.7 L339.3,191.9 L339.6,194.3 L339.9,196.7 L340.2,199.0 L340.5,201.3 L340.8,203.5 L341.1,205.6 L341.4,207.5 L341.7,209.3 L342.0,211.0 L342.3,212.5 L342.6,213.9 L342.9,215.1 L343.2,216.2 L343.5,217.2 L343.8,218.1 L344.1,218.9 L344.4,219.5 L344.7,220.1 L345.0,220.7 L345.3,221.1 L345.6,221.5 L345.9,221.9 L346.2,222.2 L346.5,222.4 L346.8,222.7 L347.1,222.9 L347.4,223.1 L347.7,223.3 L348.0,223.4 L348.3,223.6 L348.6,223.7 L348.9,223.8 L349.2,224.0 L349.5,224.1 L349.8,224.2 L350.1,224.3" fill="none" stroke="#2d6b3a" stroke-width="1.1" stroke-linejoin="round" />
<path d="M198.2,221.0 L214.0,221.1 L220.0,221.5 L226.0,222.8 L232.0,224.0 L270.0,225.0 L320.0,225.5 L359.9,226.4" fill="none" stroke="#26a02c" stroke-width="1.6" stroke-linejoin="round" />
<path d="M198.2,220.5 L198.6,220.5 L199.0,220.5 L199.4,220.5 L199.8,220.4 L200.2,220.4 L200.6,220.4 L201.0,220.3 L201.4,220.3 L201.8,220.3 L202.2,220.2 L202.6,220.2 L203.0,220.1 L203.4,220.1 L203.8,220.0 L204.2,219.9 L204.6,219.8 L205.0,219.7 L205.4,219.5 L205.8,219.4 L206.2,219.2 L206.6,218.9 L207.0,218.6 L207.4,218.2 L207.8,217.8 L208.2,217.2 L208.6,216.5 L209.0,215.8 L209.4,214.9 L209.8,213.8 L210.2,212.7 L210.6,211.4 L211.0,210.0 L211.4,208.5 L211.8,207.0 L212.2,205.6 L212.6,204.1 L213.0,202.9 L213.4,201.9 L213.8,201.3 L214.2,201.1 L214.6,201.3 L215.0,202.0 L215.4,203.0 L215.8,204.3 L216.2,205.7 L216.6,207.2 L217.0,208.8 L217.4,210.1 L217.8,211.4 L218.2,212.5 L218.6,213.6 L219.0,214.5 L219.4,215.3 L219.8,215.9 L220.2,216.5 L220.6,217.0 L221.0,217.4 L221.4,217.7 L221.8,218.0 L222.2,218.2 L222.6,218.3 L223.0,218.4 L223.4,218.7 L223.8,218.9 L224.2,219.1 L224.6,219.2 L225.0,219.4 L225.4,219.5 L225.8,219.7 L226.2,219.8 L226.6,220.0 L227.0,220.1 L227.4,220.2 L227.8,220.3 L228.2,220.4 L228.6,220.5 L229.0,220.6 L229.4,220.7 L229.8,220.9 L230.2,221.0 L230.6,221.1 L231.0,221.2 L231.4,221.3 L231.8,221.3 L232.2,221.4 L232.6,221.4 L233.0,221.5 L233.4,221.5 L233.8,221.5 L234.2,221.5 L234.6,221.6 L235.0,221.6 L235.4,221.6 L235.8,221.6 L236.2,221.6 L236.6,221.6 L237.0,221.7 L237.4,221.7 L237.8,221.7 L238.2,221.7 L238.6,221.7 L239.0,221.8 L239.4,221.8 L239.8,221.8 L240.2,221.8 L240.6,221.8 L241.0,221.8 L241.4,221.8 L241.8,221.9 L242.2,221.9 L242.6,221.9 L243.0,221.9 L243.4,221.9 L243.8,221.9 L244.2,221.9 L244.6,222.0 L245.0,222.0 L245.4,222.0 L245.8,222.0 L246.2,222.0 L246.6,222.0 L247.0,222.0 L247.4,222.1 L247.8,222.1 L248.2,222.1 L248.6,222.1 L249.0,222.1 L249.4,222.1 L249.8,222.1 L250.2,222.1 L250.6,222.2 L251.0,222.2 L251.4,222.2 L251.8,222.2 L252.2,222.2 L252.6,222.2 L253.0,222.2 L253.4,222.2 L253.8,222.2 L254.2,222.3 L254.6,222.3 L255.0,222.3 L255.4,222.3 L255.8,222.3 L256.2,222.3 L256.6,222.3 L257.0,222.3 L257.4,222.4 L257.8,222.4 L258.2,222.4 L258.6,222.4 L259.0,222.4 L259.4,222.4 L259.8,222.4 L260.2,222.4 L260.6,222.4 L261.0,222.4 L261.4,222.5 L261.8,222.5 L262.2,222.5 L262.6,222.5 L263.0,222.5 L263.4,222.5 L263.8,222.5 L264.2,222.5 L264.6,222.5 L265.0,222.6 L265.4,222.6 L265.8,222.6 L266.2,222.6 L266.6,222.6 L267.0,222.6 L267.4,222.6 L267.8,222.6 L268.2,222.6 L268.6,222.7 L269.0,222.7 L269.4,222.7 L269.8,222.7 L270.2,222.7 L270.6,222.7 L271.0,222.7 L271.4,222.7 L271.8,222.7 L272.2,222.7 L272.6,222.7 L273.0,222.7 L273.4,222.7 L273.8,222.7 L274.2,222.7 L274.6,222.7 L275.0,222.7 L275.4,222.7 L275.8,222.7 L276.2,222.7 L276.6,222.7 L277.0,222.7 L277.4,222.7 L277.8,222.8 L278.2,222.8 L278.6,222.8 L279.0,222.8 L279.4,222.8 L279.8,222.8 L280.2,222.8 L280.6,222.8 L281.0,222.8 L281.4,222.8 L281.8,222.9 L282.2,222.9 L282.6,222.9 L283.0,222.9 L283.4,222.9 L283.8,222.9 L284.2,223.0 L284.6,223.0 L285.0,223.0 L285.4,223.0 L285.8,223.0 L286.2,223.1 L286.6,223.1 L287.0,223.1 L287.4,223.1 L287.8,223.1 L288.2,223.1 L288.6,223.2 L289.0,223.2 L289.4,223.2 L289.8,223.2 L290.2,223.2 L290.6,223.3 L291.0,223.3 L291.4,223.3 L291.8,223.3 L292.2,223.3 L292.6,223.3 L293.0,223.4 L293.4,223.4 L293.8,223.4 L294.2,223.4 L294.6,223.4 L295.0,223.4 L295.4,223.5 L295.8,223.5 L296.2,223.5 L296.6,223.5 L297.0,223.5 L297.4,223.5 L297.8,223.6 L298.2,223.6 L298.6,223.6 L299.0,223.6 L299.4,223.6 L299.8,223.6 L300.2,223.7 L300.6,223.7 L301.0,223.7 L301.4,223.7 L301.8,223.7 L302.2,223.7 L302.6,223.7 L303.0,223.8 L303.4,223.8 L303.8,223.8 L304.2,223.8 L304.6,223.8 L305.0,223.8 L305.4,223.8 L305.8,223.8 L306.2,223.9 L306.6,223.9 L307.0,223.9 L307.4,223.9 L307.8,223.9 L308.2,223.9 L308.6,223.9 L309.0,223.9 L309.4,223.9 L309.8,223.9 L310.2,223.9 L310.6,224.0 L311.0,224.0 L311.4,224.0 L311.8,224.0 L312.2,224.0 L312.6,224.0 L313.0,224.0 L313.4,224.0 L313.8,224.0 L314.2,224.0 L314.6,224.0 L315.0,224.0 L315.4,224.0 L315.8,224.0 L316.2,224.0 L316.6,224.0 L317.0,223.9 L317.4,223.9 L317.8,223.9 L318.2,223.9 L318.6,223.9 L319.0,223.9 L319.4,223.8 L319.8,223.8 L320.2,223.8 L320.6,223.8 L321.0,223.7 L321.4,223.7 L321.8,223.7 L322.2,223.6 L322.6,223.6 L323.0,223.5 L323.4,223.5 L323.8,223.4 L324.2,223.3 L324.6,223.2 L325.0,223.1 L325.4,223.0 L325.8,222.9 L326.2,222.8 L326.6,222.6 L327.0,222.4 L327.4,222.2 L327.8,222.0 L328.2,221.7 L328.6,221.3 L329.0,220.9 L329.4,220.4 L329.8,219.8 L330.2,219.0 L330.6,218.1 L331.0,217.1 L331.4,215.8 L331.8,214.4 L332.2,212.6 L332.6,210.7 L333.0,208.5 L333.4,206.0 L333.8,203.3 L334.2,200.4 L334.6,197.3 L335.0,194.2 L335.4,191.1 L335.8,188.2 L336.2,185.7 L336.6,183.8 L337.0,182.6 L337.4,182.4 L337.8,183.1 L338.2,184.7 L338.6,186.9 L339.0,189.7 L339.4,192.7 L339.8,195.9 L340.2,199.0 L340.6,202.1 L341.0,204.9 L341.4,207.5 L341.8,209.9 L342.2,212.0 L342.6,213.9 L343.0,215.5 L343.4,216.9 L343.8,218.1 L344.2,219.1 L344.6,219.9 L345.0,220.6 L345.4,221.2 L345.8,221.7 L346.2,222.2 L346.6,222.5 L347.0,222.8 L347.4,223.1 L347.8,223.3 L348.2,223.5 L348.6,223.7 L349.0,223.9 L349.4,224.0 L349.8,224.2 L350.2,224.3 L350.6,224.4 L351.0,224.5 L351.4,224.6 L351.8,224.7 L352.2,224.8 L352.6,224.9 L353.0,224.9 L353.4,225.0 L353.8,225.1 L354.2,225.1 L354.6,225.2 L355.0,225.2 L355.4,225.3 L355.8,225.3 L356.2,225.4 L356.6,225.4 L357.0,225.5 L357.4,225.5 L357.8,225.6 L358.2,225.6 L358.6,225.6 L359.0,225.7 L359.4,225.7 L359.8,225.7" fill="none" stroke="#1f3f22" stroke-width="1" stroke-linejoin="round" />
<path d="M201.2,279.8 L201.5,279.8 L201.8,279.7 L202.1,279.7 L202.4,279.7 L202.7,279.6 L203.0,279.6 L203.3,279.5 L203.6,279.5 L203.9,279.4 L204.2,279.3 L204.5,279.2 L204.8,279.2 L205.1,279.1 L205.4,278.9 L205.7,278.8 L206.0,278.7 L206.3,278.5 L206.6,278.3 L206.9,278.0 L207.2,277.7 L207.5,277.4 L207.8,277.0 L208.1,276.6 L208.4,276.1 L208.7,275.5 L209.0,274.9 L209.3,274.2 L209.6,273.4 L209.9,272.5 L210.2,271.6 L210.5,270.5 L210.8,269.5 L211.1,268.3 L211.4,267.1 L211.7,265.9 L212.0,264.7 L212.3,263.5 L212.6,262.4 L212.9,261.4 L213.2,260.5 L213.5,259.8 L213.8,259.3 L214.1,259.1 L214.4,259.2 L214.7,259.5 L215.0,260.1 L215.3,260.8 L215.6,261.8 L215.9,262.9 L216.2,264.0 L216.5,265.2 L216.8,266.5 L217.1,267.7 L217.4,268.9 L217.7,270.0 L218.0,271.1 L218.3,272.1 L218.6,273.1 L218.9,273.9 L219.2,274.7 L219.5,275.4 L219.8,276.0 L220.1,276.6 L220.4,277.2 L220.7,277.6 L221.0,278.0 L221.3,278.4 L221.6,278.7 L221.9,279.0 L222.2,279.3 L222.5,279.5 L222.8,279.7 L223.1,279.9 L223.4,280.1 L223.7,280.2 L224.0,280.4 L224.3,280.5 L224.6,280.6 L224.9,280.7 L225.2,280.9 L225.5,281.0 L225.8,281.1 L226.1,281.2 L226.4,281.3 L226.7,281.4 L227.0,281.5 L227.0,282.2 L201.2,280.5" fill="url(#ge)" stroke="none" stroke-width="0" stroke-linejoin="round" />
<path d="M201.2,279.8 L201.5,279.8 L201.8,279.7 L202.1,279.7 L202.4,279.7 L202.7,279.6 L203.0,279.6 L203.3,279.5 L203.6,279.5 L203.9,279.4 L204.2,279.3 L204.5,279.2 L204.8,279.2 L205.1,279.1 L205.4,278.9 L205.7,278.8 L206.0,278.7 L206.3,278.5 L206.6,278.3 L206.9,278.0 L207.2,277.7 L207.5,277.4 L207.8,277.0 L208.1,276.6 L208.4,276.1 L208.7,275.5 L209.0,274.9 L209.3,274.2 L209.6,273.4 L209.9,272.5 L210.2,271.6 L210.5,270.5 L210.8,269.5 L211.1,268.3 L211.4,267.1 L211.7,265.9 L212.0,264.7 L212.3,263.5 L212.6,262.4 L212.9,261.4 L213.2,260.5 L213.5,259.8 L213.8,259.3 L214.1,259.1 L214.4,259.2 L214.7,259.5 L215.0,260.1 L215.3,260.8 L215.6,261.8 L215.9,262.9 L216.2,264.0 L216.5,265.2 L216.8,266.5 L217.1,267.7 L217.4,268.9 L217.7,270.0 L218.0,271.1 L218.3,272.1 L218.6,273.1 L218.9,273.9 L219.2,274.7 L219.5,275.4 L219.8,276.0 L220.1,276.6 L220.4,277.2 L220.7,277.6 L221.0,278.0 L221.3,278.4 L221.6,278.7 L221.9,279.0 L222.2,279.3 L222.5,279.5 L222.8,279.7 L223.1,279.9 L223.4,280.1 L223.7,280.2 L224.0,280.4 L224.3,280.5 L224.6,280.6 L224.9,280.7 L225.2,280.9 L225.5,281.0 L225.8,281.1 L226.1,281.2 L226.4,281.3 L226.7,281.4 L227.0,281.5" fill="none" stroke="#2f9a35" stroke-width="1.5" stroke-linejoin="round" />
<path d="M324.3,283.7 L324.6,283.6 L324.9,283.5 L325.2,283.4 L325.5,283.3 L325.8,283.2 L326.1,283.1 L326.4,283.0 L326.7,282.9 L327.0,282.7 L327.3,282.5 L327.6,282.3 L327.9,282.1 L328.2,281.9 L328.5,281.6 L328.8,281.2 L329.1,280.9 L329.4,280.4 L329.7,280.0 L330.0,279.4 L330.3,278.7 L330.6,278.0 L330.9,277.2 L331.2,276.2 L331.5,275.2 L331.8,273.9 L332.1,272.6 L332.4,271.1 L332.7,269.4 L333.0,267.6 L333.3,265.7 L333.6,263.6 L333.9,261.3 L334.2,259.0 L334.5,256.5 L334.8,254.0 L335.1,251.5 L335.4,249.0 L335.7,246.7 L336.0,244.5 L336.3,242.7 L336.6,241.2 L336.9,240.2 L337.2,239.8 L337.5,239.9 L337.8,240.5 L338.1,241.7 L338.4,243.3 L338.7,245.3 L339.0,247.6 L339.3,250.0 L339.6,252.5 L339.9,255.1 L340.2,257.6 L340.5,260.0 L340.8,262.4 L341.1,264.6 L341.4,266.7 L341.7,268.6 L342.0,270.4 L342.3,272.0 L342.6,273.5 L342.9,274.8 L343.2,276.0 L343.5,277.1 L343.8,278.0 L344.1,278.9 L344.4,279.6 L344.7,280.2 L345.0,280.8 L345.3,281.3 L345.6,281.7 L345.9,282.1 L346.2,282.4 L346.5,282.7 L346.8,283.0 L347.1,283.2 L347.4,283.4 L347.7,283.6 L348.0,283.8 L348.3,284.0 L348.6,284.1 L348.9,284.3 L349.2,284.4 L349.5,284.5 L349.8,284.6 L350.1,284.7 L350.1,286.8 L324.3,285.7" fill="url(#ge)" stroke="none" stroke-width="0" stroke-linejoin="round" />
<path d="M324.3,283.7 L324.6,283.6 L324.9,283.5 L325.2,283.4 L325.5,283.3 L325.8,283.2 L326.1,283.1 L326.4,283.0 L326.7,282.9 L327.0,282.7 L327.3,282.5 L327.6,282.3 L327.9,282.1 L328.2,281.9 L328.5,281.6 L328.8,281.2 L329.1,280.9 L329.4,280.4 L329.7,280.0 L330.0,279.4 L330.3,278.7 L330.6,278.0 L330.9,277.2 L331.2,276.2 L331.5,275.2 L331.8,273.9 L332.1,272.6 L332.4,271.1 L332.7,269.4 L333.0,267.6 L333.3,265.7 L333.6,263.6 L333.9,261.3 L334.2,259.0 L334.5,256.5 L334.8,254.0 L335.1,251.5 L335.4,249.0 L335.7,246.7 L336.0,244.5 L336.3,242.7 L336.6,241.2 L336.9,240.2 L337.2,239.8 L337.5,239.9 L337.8,240.5 L338.1,241.7 L338.4,243.3 L338.7,245.3 L339.0,247.6 L339.3,250.0 L339.6,252.5 L339.9,255.1 L340.2,257.6 L340.5,260.0 L340.8,262.4 L341.1,264.6 L341.4,266.7 L341.7,268.6 L342.0,270.4 L342.3,272.0 L342.6,273.5 L342.9,274.8 L343.2,276.0 L343.5,277.1 L343.8,278.0 L344.1,278.9 L344.4,279.6 L344.7,280.2 L345.0,280.8 L345.3,281.3 L345.6,281.7 L345.9,282.1 L346.2,282.4 L346.5,282.7 L346.8,283.0 L347.1,283.2 L347.4,283.4 L347.7,283.6 L348.0,283.8 L348.3,284.0 L348.6,284.1 L348.9,284.3 L349.2,284.4 L349.5,284.5 L349.8,284.6 L350.1,284.7" fill="none" stroke="#2d6b3a" stroke-width="1.1" stroke-linejoin="round" />
<path d="M198.2,280.5 L214.0,280.6 L220.0,280.9 L226.0,282.0 L232.0,283.3 L260.0,284.5 L320.0,285.5 L359.9,287.2" fill="none" stroke="#26a02c" stroke-width="1.6" stroke-linejoin="round" />
<path d="M198.2,280.0 L198.6,280.0 L199.0,279.9 L199.4,279.9 L199.8,279.9 L200.2,279.9 L200.6,279.8 L201.0,279.8 L201.4,279.8 L201.8,279.7 L202.2,279.7 L202.6,279.6 L203.0,279.5 L203.4,279.5 L203.8,279.4 L204.2,279.3 L204.6,279.2 L205.0,279.1 L205.4,278.9 L205.8,278.7 L206.2,278.5 L206.6,278.2 L207.0,277.9 L207.4,277.5 L207.8,277.0 L208.2,276.4 L208.6,275.7 L209.0,274.9 L209.4,273.9 L209.8,272.8 L210.2,271.5 L210.6,270.2 L211.0,268.7 L211.4,267.1 L211.8,265.5 L212.2,263.9 L212.6,262.4 L213.0,261.0 L213.4,260.0 L213.8,259.3 L214.2,259.1 L214.6,259.3 L215.0,260.0 L215.4,261.1 L215.8,262.5 L216.2,264.0 L216.6,265.6 L217.0,267.3 L217.4,268.7 L217.8,270.1 L218.2,271.4 L218.6,272.6 L219.0,273.6 L219.4,274.4 L219.8,275.2 L220.2,275.8 L220.6,276.4 L221.0,276.8 L221.4,277.2 L221.8,277.5 L222.2,277.7 L222.6,277.9 L223.0,278.0 L223.4,278.2 L223.8,278.4 L224.2,278.6 L224.6,278.8 L225.0,279.0 L225.4,279.1 L225.8,279.2 L226.2,279.4 L226.6,279.5 L227.0,279.6 L227.4,279.8 L227.8,279.9 L228.2,280.0 L228.6,280.1 L229.0,280.2 L229.4,280.4 L229.8,280.5 L230.2,280.6 L230.6,280.7 L231.0,280.8 L231.4,280.9 L231.8,281.0 L232.2,281.1 L232.6,281.1 L233.0,281.1 L233.4,281.2 L233.8,281.2 L234.2,281.2 L234.6,281.3 L235.0,281.3 L235.4,281.3 L235.8,281.4 L236.2,281.4 L236.6,281.4 L237.0,281.4 L237.4,281.5 L237.8,281.5 L238.2,281.5 L238.6,281.5 L239.0,281.6 L239.4,281.6 L239.8,281.6 L240.2,281.6 L240.6,281.6 L241.0,281.7 L241.4,281.7 L241.8,281.7 L242.2,281.7 L242.6,281.8 L243.0,281.8 L243.4,281.8 L243.8,281.8 L244.2,281.8 L244.6,281.9 L245.0,281.9 L245.4,281.9 L245.8,281.9 L246.2,281.9 L246.6,282.0 L247.0,282.0 L247.4,282.0 L247.8,282.0 L248.2,282.0 L248.6,282.1 L249.0,282.1 L249.4,282.1 L249.8,282.1 L250.2,282.1 L250.6,282.2 L251.0,282.2 L251.4,282.2 L251.8,282.2 L252.2,282.2 L252.6,282.2 L253.0,282.3 L253.4,282.3 L253.8,282.3 L254.2,282.3 L254.6,282.3 L255.0,282.4 L255.4,282.4 L255.8,282.4 L256.2,282.4 L256.6,282.4 L257.0,282.4 L257.4,282.5 L257.8,282.5 L258.2,282.5 L258.6,282.5 L259.0,282.5 L259.4,282.6 L259.8,282.6 L260.2,282.6 L260.6,282.6 L261.0,282.6 L261.4,282.6 L261.8,282.6 L262.2,282.6 L262.6,282.6 L263.0,282.6 L263.4,282.6 L263.8,282.6 L264.2,282.7 L264.6,282.7 L265.0,282.7 L265.4,282.7 L265.8,282.7 L266.2,282.7 L266.6,282.7 L267.0,282.7 L267.4,282.7 L267.8,282.7 L268.2,282.7 L268.6,282.7 L269.0,282.7 L269.4,282.7 L269.8,282.7 L270.2,282.7 L270.6,282.8 L271.0,282.8 L271.4,282.8 L271.8,282.8 L272.2,282.8 L272.6,282.8 L273.0,282.8 L273.4,282.8 L273.8,282.8 L274.2,282.8 L274.6,282.8 L275.0,282.8 L275.4,282.8 L275.8,282.8 L276.2,282.8 L276.6,282.8 L277.0,282.9 L277.4,282.9 L277.8,282.9 L278.2,282.9 L278.6,282.9 L279.0,282.9 L279.4,282.9 L279.8,282.9 L280.2,282.9 L280.6,282.9 L281.0,282.9 L281.4,283.0 L281.8,283.0 L282.2,283.0 L282.6,283.0 L283.0,283.0 L283.4,283.0 L283.8,283.1 L284.2,283.1 L284.6,283.1 L285.0,283.1 L285.4,283.1 L285.8,283.2 L286.2,283.2 L286.6,283.2 L287.0,283.2 L287.4,283.2 L287.8,283.2 L288.2,283.3 L288.6,283.3 L289.0,283.3 L289.4,283.3 L289.8,283.3 L290.2,283.4 L290.6,283.4 L291.0,283.4 L291.4,283.4 L291.8,283.4 L292.2,283.4 L292.6,283.5 L293.0,283.5 L293.4,283.5 L293.8,283.5 L294.2,283.5 L294.6,283.5 L295.0,283.6 L295.4,283.6 L295.8,283.6 L296.2,283.6 L296.6,283.6 L297.0,283.6 L297.4,283.6 L297.8,283.7 L298.2,283.7 L298.6,283.7 L299.0,283.7 L299.4,283.7 L299.8,283.7 L300.2,283.8 L300.6,283.8 L301.0,283.8 L301.4,283.8 L301.8,283.8 L302.2,283.8 L302.6,283.8 L303.0,283.8 L303.4,283.9 L303.8,283.9 L304.2,283.9 L304.6,283.9 L305.0,283.9 L305.4,283.9 L305.8,283.9 L306.2,283.9 L306.6,284.0 L307.0,284.0 L307.4,284.0 L307.8,284.0 L308.2,284.0 L308.6,284.0 L309.0,284.0 L309.4,284.0 L309.8,284.0 L310.2,284.0 L310.6,284.0 L311.0,284.0 L311.4,284.0 L311.8,284.0 L312.2,284.0 L312.6,284.0 L313.0,284.1 L313.4,284.1 L313.8,284.0 L314.2,284.0 L314.6,284.0 L315.0,284.0 L315.4,284.0 L315.8,284.0 L316.2,284.0 L316.6,284.0 L317.0,284.0 L317.4,284.0 L317.8,284.0 L318.2,284.0 L318.6,283.9 L319.0,283.9 L319.4,283.9 L319.8,283.9 L320.2,283.8 L320.6,283.8 L321.0,283.8 L321.4,283.7 L321.8,283.7 L322.2,283.7 L322.6,283.6 L323.0,283.6 L323.4,283.5 L323.8,283.4 L324.2,283.4 L324.6,283.3 L325.0,283.2 L325.4,283.1 L325.8,282.9 L326.2,282.8 L326.6,282.6 L327.0,282.4 L327.4,282.2 L327.8,281.9 L328.2,281.6 L328.6,281.2 L329.0,280.8 L329.4,280.2 L329.8,279.6 L330.2,278.8 L330.6,277.9 L331.0,276.7 L331.4,275.4 L331.8,273.8 L332.2,272.0 L332.6,269.9 L333.0,267.6 L333.4,264.9 L333.8,262.0 L334.2,258.9 L334.6,255.6 L335.0,252.3 L335.4,249.0 L335.8,245.9 L336.2,243.2 L336.6,241.2 L337.0,240.0 L337.4,239.8 L337.8,240.5 L338.2,242.2 L338.6,244.6 L339.0,247.6 L339.4,250.8 L339.8,254.2 L340.2,257.6 L340.6,260.8 L341.0,263.9 L341.4,266.7 L341.8,269.2 L342.2,271.5 L342.6,273.5 L343.0,275.2 L343.4,276.7 L343.8,278.0 L344.2,279.1 L344.6,280.0 L345.0,280.8 L345.4,281.4 L345.8,282.0 L346.2,282.4 L346.6,282.8 L347.0,283.1 L347.4,283.4 L347.8,283.7 L348.2,283.9 L348.6,284.1 L349.0,284.3 L349.4,284.5 L349.8,284.6 L350.2,284.8 L350.6,284.9 L351.0,285.0 L351.4,285.1 L351.8,285.2 L352.2,285.3 L352.6,285.4 L353.0,285.5 L353.4,285.6 L353.8,285.7 L354.2,285.7 L354.6,285.8 L355.0,285.9 L355.4,285.9 L355.8,286.0 L356.2,286.1 L356.6,286.1 L357.0,286.2 L357.4,286.2 L357.8,286.3 L358.2,286.3 L358.6,286.4 L359.0,286.4 L359.4,286.5 L359.8,286.5" fill="none" stroke="#1f3f22" stroke-width="1" stroke-linejoin="round" />
<line x1="214.9" y1="189.5" x2="214.9" y2="274" stroke="#333" stroke-width="1.2" stroke-dasharray="4.5,4" />
<line x1="337.4" y1="168.5" x2="337.4" y2="268" stroke="#333" stroke-width="1.2" stroke-dasharray="4.5,4" />
<rect x="198.2" y="165.5" width="161.7" height="131.1" fill="none" stroke="#444" stroke-width="1.2"/>
<line x1="200.1" y1="296.6" x2="200.1" y2="297.6" stroke="#444" stroke-width="0.8" />
<line x1="213.5" y1="296.6" x2="213.5" y2="298.2" stroke="#444" stroke-width="0.8" />
<line x1="226.9" y1="296.6" x2="226.9" y2="297.6" stroke="#444" stroke-width="0.8" />
<line x1="240.4" y1="296.6" x2="240.4" y2="298.2" stroke="#444" stroke-width="0.8" />
<line x1="253.8" y1="296.6" x2="253.8" y2="297.6" stroke="#444" stroke-width="0.8" />
<line x1="267.3" y1="296.6" x2="267.3" y2="298.2" stroke="#444" stroke-width="0.8" />
<line x1="280.8" y1="296.6" x2="280.8" y2="297.6" stroke="#444" stroke-width="0.8" />
<line x1="294.2" y1="296.6" x2="294.2" y2="298.2" stroke="#444" stroke-width="0.8" />
<line x1="307.6" y1="296.6" x2="307.6" y2="297.6" stroke="#444" stroke-width="0.8" />
<line x1="321.1" y1="296.6" x2="321.1" y2="298.2" stroke="#444" stroke-width="0.8" />
<line x1="334.6" y1="296.6" x2="334.6" y2="297.6" stroke="#444" stroke-width="0.8" />
<line x1="348" y1="296.6" x2="348" y2="298.2" stroke="#444" stroke-width="0.8" />
<text x="213.5" y="306.8" font-size="7.8" text-anchor="middle" font-weight="bold" font-family='"Liberation Serif", serif' fill="#111" textLength="15.2" lengthAdjust="spacingAndGlyphs" stroke="#111" stroke-width="0.2" >1045</text>
<text x="240.4" y="306.8" font-size="7.8" text-anchor="middle" font-weight="bold" font-family='"Liberation Serif", serif' fill="#111" textLength="15.2" lengthAdjust="spacingAndGlyphs" stroke="#111" stroke-width="0.2" >1040</text>
<text x="267.3" y="306.8" font-size="7.8" text-anchor="middle" font-weight="bold" font-family='"Liberation Serif", serif' fill="#111" textLength="15.2" lengthAdjust="spacingAndGlyphs" stroke="#111" stroke-width="0.2" >1035</text>
<text x="294.2" y="306.8" font-size="7.8" text-anchor="middle" font-weight="bold" font-family='"Liberation Serif", serif' fill="#111" textLength="15.2" lengthAdjust="spacingAndGlyphs" stroke="#111" stroke-width="0.2" >1030</text>
<text x="321.1" y="306.8" font-size="7.8" text-anchor="middle" font-weight="bold" font-family='"Liberation Serif", serif' fill="#111" textLength="15.2" lengthAdjust="spacingAndGlyphs" stroke="#111" stroke-width="0.2" >1025</text>
<text x="348" y="306.8" font-size="7.8" text-anchor="middle" font-weight="bold" font-family='"Liberation Serif", serif' fill="#111" textLength="15.2" lengthAdjust="spacingAndGlyphs" stroke="#111" stroke-width="0.2" >1020</text>
<text x="242" y="319.3" font-size="8.4" text-anchor="start" font-weight="bold" font-family='"Liberation Serif", serif' fill="#111" textLength="73.6" lengthAdjust="spacingAndGlyphs" stroke="#111" stroke-width="0.2" >Binding energy (eV)</text>
<text x="186" y="167.5" font-size="9.6" text-anchor="start" font-weight="bold" font-family='"Liberation Serif", serif' fill="#111" textLength="7.6" lengthAdjust="spacingAndGlyphs" stroke="#111" stroke-width="0.2" >e)</text>
<text x="202.4" y="176.2" font-size="8" text-anchor="start" font-weight="bold" font-family='"Liberation Serif", serif' fill="#111" textLength="19.3" lengthAdjust="spacingAndGlyphs" stroke="#111" stroke-width="0.2" >Zn 2p</text>
<text x="218.6" y="200.6" font-size="8" text-anchor="start" font-weight="bold" font-family='"Liberation Serif", serif' fill="#111" stroke="#111" stroke-width="0.2" >Zn 2p<tspan font-size="5.2" dy="1.6">1/2</tspan></text>
<text x="306.4" y="185.8" font-size="8" text-anchor="start" font-weight="bold" font-family='"Liberation Serif", serif' fill="#111" stroke="#111" stroke-width="0.2" >Zn 2p<tspan font-size="5.2" dy="1.6">3/2</tspan></text>
<text x="266.7" y="217.3" font-size="8" text-anchor="start" font-weight="bold" font-family='"Liberation Serif", serif' fill="#111" textLength="27.9" lengthAdjust="spacingAndGlyphs" stroke="#111" stroke-width="0.2" >Cu-ZnS</text>
<text x="274.9" y="276" font-size="8" text-anchor="start" font-weight="bold" font-family='"Liberation Serif", serif' fill="#111" textLength="14.5" lengthAdjust="spacingAndGlyphs" stroke="#111" stroke-width="0.2" >ZnS</text>
<text transform="translate(190.2,230) rotate(-90)" x="0" y="0" font-size="8.6" text-anchor="middle" dominant-baseline="central" font-weight="bold" font-family='"Liberation Serif", serif' fill="#111" textLength="53" lengthAdjust="spacingAndGlyphs" stroke="#111" stroke-width="0.2">Intensity (a.u.)</text>
<path d="M376.7,219.4 L377.2,219.4 L377.7,219.4 L378.2,219.4 L378.7,219.4 L379.2,219.4 L379.7,219.4 L380.2,219.4 L380.7,219.4 L381.2,219.4 L381.7,219.4 L382.2,219.4 L382.7,219.3 L383.2,219.3 L383.7,219.3 L384.2,219.3 L384.7,219.3 L385.2,219.3 L385.7,219.3 L386.2,219.3 L386.7,219.3 L387.2,219.3 L387.7,219.2 L388.2,219.2 L388.7,219.2 L389.2,219.2 L389.7,219.2 L390.2,219.1 L390.7,219.1 L391.2,219.1 L391.7,219.0 L392.2,219.0 L392.7,219.0 L393.2,218.9 L393.7,218.9 L394.2,218.8 L394.7,218.8 L395.2,218.7 L395.7,218.7 L396.2,218.6 L396.7,218.6 L397.2,218.5 L397.7,218.4 L398.2,218.3 L398.7,218.2 L399.2,218.1 L399.7,218.0 L400.2,217.9 L400.7,217.8 L401.2,217.7 L401.7,217.6 L402.2,217.5 L402.7,217.3 L403.2,217.2 L403.7,217.0 L404.2,216.9 L404.7,216.7 L405.2,216.5 L405.7,216.3 L406.2,216.1 L406.7,215.9 L407.2,215.7 L407.7,215.5 L408.2,215.3 L408.7,215.0 L409.2,214.8 L409.7,214.5 L410.2,214.2 L410.7,214.0 L411.2,213.7 L411.7,213.4 L412.2,213.1 L412.7,212.8 L413.2,212.5 L413.7,212.2 L414.2,211.9 L414.7,211.5 L415.2,211.2 L415.7,210.9 L416.2,210.5 L416.7,210.2 L417.2,209.8 L417.7,209.5 L418.2,209.1 L418.7,208.8 L419.2,208.4 L419.7,208.1 L420.2,207.7 L420.7,207.4 L421.2,207.0 L421.7,206.7 L422.2,206.4 L422.7,206.0 L423.2,205.7 L423.7,205.4 L424.2,205.1 L424.7,204.8 L425.2,204.5 L425.7,204.3 L426.2,204.0 L426.7,203.7 L427.2,203.5 L427.7,203.3 L428.2,203.1 L428.7,202.9 L429.2,202.7 L429.7,202.6 L430.2,202.4 L430.7,202.3 L431.2,202.2 L431.7,202.1 L432.2,202.1 L432.7,202.0 L433.2,202.0 L433.7,202.0 L434.2,202.0 L434.7,202.0 L435.2,202.1 L435.7,202.2 L436.2,202.3 L436.7,202.4 L437.2,202.5 L437.7,202.6 L438.2,202.8 L438.7,203.0 L439.2,203.2 L439.7,203.4 L440.2,203.6 L440.7,203.8 L441.2,204.1 L441.7,204.4 L442.2,204.6 L442.7,204.9 L443.2,205.2 L443.7,205.5 L444.2,205.8 L444.7,206.2 L445.2,206.5 L445.7,206.8 L446.2,207.2 L446.7,207.5 L447.2,207.9 L447.7,208.2 L448.2,208.6 L448.7,208.9 L449.2,209.3 L449.7,209.6 L450.2,210.0 L450.7,210.3 L451.2,210.7 L451.7,211.0 L452.2,211.3 L452.7,211.7 L453.2,212.0 L453.7,212.3 L454.2,212.6 L454.7,212.9 L455.2,213.2 L455.7,213.5 L456.2,213.8 L456.7,214.1 L457.2,214.4 L457.7,214.6 L458.2,214.9 L458.7,215.1 L459.2,215.3 L459.7,215.6 L460.2,215.8 L460.7,216.0 L461.2,216.2 L461.7,216.4 L462.2,216.6 L462.7,216.7 L463.2,216.9 L463.7,217.1 L464.2,217.2 L464.7,217.4 L465.2,217.5 L465.7,217.6 L466.2,217.8 L466.7,217.9 L467.2,218.0 L467.7,218.1 L468.2,218.2 L468.7,218.3 L469.2,218.4 L469.7,218.4 L470.2,218.5 L470.7,218.6 L471.2,218.6 L471.7,218.7 L472.2,218.8 L472.7,218.8 L473.2,218.9 L473.7,218.9 L474.2,219.0 L474.7,219.0 L475.2,219.0 L475.7,219.1 L476.2,219.1 L476.7,219.1 L477.2,219.1 L477.7,219.2 L478.2,219.2 L478.7,219.2 L479.2,219.2 L479.7,219.2 L480.2,219.3 L480.7,219.3 L481.2,219.3 L481.7,219.3 L482.2,219.3 L482.7,219.3 L483.2,219.3 L483.7,219.3 L484.2,219.3 L484.7,219.3 L485.2,219.4 L485.7,219.4 L486.2,219.4 L486.7,219.4 L487.2,219.4 L487.7,219.4 L488.2,219.4 L488.7,219.4 L489.2,219.4 L489.7,219.4 L490.2,219.4 L490.2,219.4 L376.7,219.4" fill="url(#gf1)" stroke="none" stroke-width="0" stroke-linejoin="round" />
<path d="M424.3,219.3 L424.8,219.3 L425.3,219.3 L425.8,219.3 L426.3,219.3 L426.8,219.2 L427.3,219.2 L427.8,219.2 L428.3,219.2 L428.8,219.1 L429.3,219.1 L429.8,219.0 L430.3,219.0 L430.8,218.9 L431.3,218.9 L431.8,218.8 L432.3,218.7 L432.8,218.6 L433.3,218.5 L433.8,218.4 L434.3,218.3 L434.8,218.2 L435.3,218.1 L435.8,217.9 L436.3,217.8 L436.8,217.6 L437.3,217.4 L437.8,217.2 L438.3,216.9 L438.8,216.7 L439.3,216.4 L439.8,216.1 L440.3,215.8 L440.8,215.5 L441.3,215.1 L441.8,214.7 L442.3,214.3 L442.8,213.9 L443.3,213.4 L443.8,213.0 L444.3,212.4 L444.8,211.9 L445.3,211.3 L445.8,210.7 L446.3,210.1 L446.8,209.4 L447.3,208.7 L447.8,208.0 L448.3,207.3 L448.8,206.5 L449.3,205.7 L449.8,204.9 L450.3,204.0 L450.8,203.2 L451.3,202.3 L451.8,201.4 L452.3,200.5 L452.8,199.5 L453.3,198.6 L453.8,197.7 L454.3,196.7 L454.8,195.8 L455.3,194.8 L455.8,193.9 L456.3,193.0 L456.8,192.1 L457.3,191.2 L457.8,190.3 L458.3,189.5 L458.8,188.6 L459.3,187.9 L459.8,187.1 L460.3,186.4 L460.8,185.7 L461.3,185.1 L461.8,184.5 L462.3,184.0 L462.8,183.6 L463.3,183.2 L463.8,182.8 L464.3,182.5 L464.8,182.3 L465.3,182.1 L465.8,182.0 L466.3,182.0 L466.8,182.0 L467.3,182.1 L467.8,182.2 L468.3,182.3 L468.8,182.5 L469.3,182.7 L469.8,183.0 L470.3,183.3 L470.8,183.6 L471.3,184.0 L471.8,184.4 L472.3,184.8 L472.8,185.3 L473.3,185.8 L473.8,186.3 L474.3,186.8 L474.8,187.4 L475.3,188.0 L475.8,188.6 L476.3,189.3 L476.8,189.9 L477.3,190.6 L477.8,191.3 L478.3,192.0 L478.8,192.7 L479.3,193.5 L479.8,194.2 L480.3,194.9 L480.8,195.7 L481.3,196.4 L481.8,197.2 L482.3,197.9 L482.8,198.7 L483.3,199.4 L483.8,200.1 L484.3,200.8 L484.8,201.6 L485.3,202.3 L485.8,203.0 L486.3,203.7 L486.8,204.3 L487.3,205.0 L487.8,205.6 L488.3,206.3 L488.8,206.9 L489.3,207.5 L489.8,208.1 L490.3,208.6 L490.8,209.2 L491.3,209.7 L491.8,210.2 L492.3,210.7 L492.8,211.2 L493.3,211.7 L493.8,212.1 L494.3,212.5 L494.8,213.0 L495.3,213.3 L495.8,213.7 L496.3,214.1 L496.8,214.4 L497.3,214.7 L497.8,215.0 L498.3,215.3 L498.8,215.6 L499.3,215.9 L499.8,216.1 L500.3,216.3 L500.8,216.6 L501.3,216.8 L501.8,217.0 L502.3,217.1 L502.8,217.3 L503.3,217.5 L503.8,217.6 L504.3,217.8 L504.8,217.9 L505.3,218.0 L505.8,218.1 L506.3,218.2 L506.8,218.3 L507.3,218.4 L507.8,218.5 L508.3,218.6 L508.8,218.6 L509.3,218.7 L509.8,218.8 L510.3,218.8 L510.8,218.9 L511.3,218.9 L511.8,219.0 L512.3,219.0 L512.8,219.1 L513.3,219.1 L513.8,219.1 L514.3,219.1 L514.8,219.2 L515.3,219.2 L515.8,219.2 L516.3,219.2 L516.8,219.3 L517.3,219.3 L517.8,219.3 L518.3,219.3 L518.8,219.3 L519.3,219.3 L519.8,219.3 L520.3,219.3 L520.8,219.3 L521.3,219.3 L521.8,219.4 L522.3,219.4 L522.8,219.4 L523.3,219.4 L523.8,219.4 L523.8,219.4 L424.3,219.4" fill="url(#gf2)" stroke="none" stroke-width="0" stroke-linejoin="round" />
<path d="M376.7,219.4 L377.2,219.4 L377.7,219.4 L378.2,219.4 L378.7,219.4 L379.2,219.4 L379.7,219.4 L380.2,219.4 L380.7,219.4 L381.2,219.4 L381.7,219.4 L382.2,219.4 L382.7,219.3 L383.2,219.3 L383.7,219.3 L384.2,219.3 L384.7,219.3 L385.2,219.3 L385.7,219.3 L386.2,219.3 L386.7,219.3 L387.2,219.3 L387.7,219.2 L388.2,219.2 L388.7,219.2 L389.2,219.2 L389.7,219.2 L390.2,219.1 L390.7,219.1 L391.2,219.1 L391.7,219.0 L392.2,219.0 L392.7,219.0 L393.2,218.9 L393.7,218.9 L394.2,218.8 L394.7,218.8 L395.2,218.7 L395.7,218.7 L396.2,218.6 L396.7,218.6 L397.2,218.5 L397.7,218.4 L398.2,218.3 L398.7,218.2 L399.2,218.1 L399.7,218.0 L400.2,217.9 L400.7,217.8 L401.2,217.7 L401.7,217.6 L402.2,217.5 L402.7,217.3 L403.2,217.2 L403.7,217.0 L404.2,216.9 L404.7,216.7 L405.2,216.5 L405.7,216.3 L406.2,216.1 L406.7,215.9 L407.2,215.7 L407.7,215.5 L408.2,215.3 L408.7,215.0 L409.2,214.8 L409.7,214.5 L410.2,214.2 L410.7,214.0 L411.2,213.7 L411.7,213.4 L412.2,213.1 L412.7,212.8 L413.2,212.5 L413.7,212.2 L414.2,211.9 L414.7,211.5 L415.2,211.2 L415.7,210.9 L416.2,210.5 L416.7,210.2 L417.2,209.8 L417.7,209.5 L418.2,209.1 L418.7,208.8 L419.2,208.4 L419.7,208.1 L420.2,207.7 L420.7,207.4 L421.2,207.0 L421.7,206.7 L422.2,206.4 L422.7,206.0 L423.2,205.7 L423.7,205.4 L424.2,205.1 L424.7,204.8 L425.2,204.5 L425.7,204.3 L426.2,204.0 L426.7,203.7 L427.2,203.5 L427.7,203.3 L428.2,203.1 L428.7,202.9 L429.2,202.7 L429.7,202.6 L430.2,202.4 L430.7,202.3 L431.2,202.2 L431.7,202.1 L432.2,202.1 L432.7,202.0 L433.2,202.0 L433.7,202.0 L434.2,202.0 L434.7,202.0 L435.2,202.1 L435.7,202.2 L436.2,202.3 L436.7,202.4 L437.2,202.5 L437.7,202.6 L438.2,202.8 L438.7,203.0 L439.2,203.2 L439.7,203.4 L440.2,203.6 L440.7,203.8 L441.2,204.1 L441.7,204.4 L442.2,204.6 L442.7,204.9 L443.2,205.2 L443.7,205.5 L444.2,205.8 L444.7,206.2 L445.2,206.5 L445.7,206.8 L446.2,207.2 L446.7,207.5 L447.2,207.9 L447.7,208.2 L448.2,208.6 L448.7,208.9 L449.2,209.3 L449.7,209.6 L450.2,210.0 L450.7,210.3 L451.2,210.7 L451.7,211.0 L452.2,211.3 L452.7,211.7 L453.2,212.0 L453.7,212.3 L454.2,212.6 L454.7,212.9 L455.2,213.2 L455.7,213.5 L456.2,213.8 L456.7,214.1 L457.2,214.4 L457.7,214.6 L458.2,214.9 L458.7,215.1 L459.2,215.3 L459.7,215.6 L460.2,215.8 L460.7,216.0 L461.2,216.2 L461.7,216.4 L462.2,216.6 L462.7,216.7 L463.2,216.9 L463.7,217.1 L464.2,217.2 L464.7,217.4 L465.2,217.5 L465.7,217.6 L466.2,217.8 L466.7,217.9 L467.2,218.0 L467.7,218.1 L468.2,218.2 L468.7,218.3 L469.2,218.4 L469.7,218.4 L470.2,218.5 L470.7,218.6 L471.2,218.6 L471.7,218.7 L472.2,218.8 L472.7,218.8 L473.2,218.9 L473.7,218.9 L474.2,219.0 L474.7,219.0 L475.2,219.0 L475.7,219.1 L476.2,219.1 L476.7,219.1 L477.2,219.1 L477.7,219.2 L478.2,219.2 L478.7,219.2 L479.2,219.2 L479.7,219.2 L480.2,219.3 L480.7,219.3 L481.2,219.3 L481.7,219.3 L482.2,219.3 L482.7,219.3 L483.2,219.3 L483.7,219.3 L484.2,219.3 L484.7,219.3 L485.2,219.4 L485.7,219.4 L486.2,219.4 L486.7,219.4 L487.2,219.4 L487.7,219.4 L488.2,219.4 L488.7,219.4 L489.2,219.4 L489.7,219.4 L490.2,219.4" fill="none" stroke="#eeb64a" stroke-width="1.1" stroke-linejoin="round" />
<path d="M424.3,219.3 L424.8,219.3 L425.3,219.3 L425.8,219.3 L426.3,219.3 L426.8,219.2 L427.3,219.2 L427.8,219.2 L428.3,219.2 L428.8,219.1 L429.3,219.1 L429.8,219.0 L430.3,219.0 L430.8,218.9 L431.3,218.9 L431.8,218.8 L432.3,218.7 L432.8,218.6 L433.3,218.5 L433.8,218.4 L434.3,218.3 L434.8,218.2 L435.3,218.1 L435.8,217.9 L436.3,217.8 L436.8,217.6 L437.3,217.4 L437.8,217.2 L438.3,216.9 L438.8,216.7 L439.3,216.4 L439.8,216.1 L440.3,215.8 L440.8,215.5 L441.3,215.1 L441.8,214.7 L442.3,214.3 L442.8,213.9 L443.3,213.4 L443.8,213.0 L444.3,212.4 L444.8,211.9 L445.3,211.3 L445.8,210.7 L446.3,210.1 L446.8,209.4 L447.3,208.7 L447.8,208.0 L448.3,207.3 L448.8,206.5 L449.3,205.7 L449.8,204.9 L450.3,204.0 L450.8,203.2 L451.3,202.3 L451.8,201.4 L452.3,200.5 L452.8,199.5 L453.3,198.6 L453.8,197.7 L454.3,196.7 L454.8,195.8 L455.3,194.8 L455.8,193.9 L456.3,193.0 L456.8,192.1 L457.3,191.2 L457.8,190.3 L458.3,189.5 L458.8,188.6 L459.3,187.9 L459.8,187.1 L460.3,186.4 L460.8,185.7 L461.3,185.1 L461.8,184.5 L462.3,184.0 L462.8,183.6 L463.3,183.2 L463.8,182.8 L464.3,182.5 L464.8,182.3 L465.3,182.1 L465.8,182.0 L466.3,182.0 L466.8,182.0 L467.3,182.1 L467.8,182.2 L468.3,182.3 L468.8,182.5 L469.3,182.7 L469.8,183.0 L470.3,183.3 L470.8,183.6 L471.3,184.0 L471.8,184.4 L472.3,184.8 L472.8,185.3 L473.3,185.8 L473.8,186.3 L474.3,186.8 L474.8,187.4 L475.3,188.0 L475.8,188.6 L476.3,189.3 L476.8,189.9 L477.3,190.6 L477.8,191.3 L478.3,192.0 L478.8,192.7 L479.3,193.5 L479.8,194.2 L480.3,194.9 L480.8,195.7 L481.3,196.4 L481.8,197.2 L482.3,197.9 L482.8,198.7 L483.3,199.4 L483.8,200.1 L484.3,200.8 L484.8,201.6 L485.3,202.3 L485.8,203.0 L486.3,203.7 L486.8,204.3 L487.3,205.0 L487.8,205.6 L488.3,206.3 L488.8,206.9 L489.3,207.5 L489.8,208.1 L490.3,208.6 L490.8,209.2 L491.3,209.7 L491.8,210.2 L492.3,210.7 L492.8,211.2 L493.3,211.7 L493.8,212.1 L494.3,212.5 L494.8,213.0 L495.3,213.3 L495.8,213.7 L496.3,214.1 L496.8,214.4 L497.3,214.7 L497.8,215.0 L498.3,215.3 L498.8,215.6 L499.3,215.9 L499.8,216.1 L500.3,216.3 L500.8,216.6 L501.3,216.8 L501.8,217.0 L502.3,217.1 L502.8,217.3 L503.3,217.5 L503.8,217.6 L504.3,217.8 L504.8,217.9 L505.3,218.0 L505.8,218.1 L506.3,218.2 L506.8,218.3 L507.3,218.4 L507.8,218.5 L508.3,218.6 L508.8,218.6 L509.3,218.7 L509.8,218.8 L510.3,218.8 L510.8,218.9 L511.3,218.9 L511.8,219.0 L512.3,219.0 L512.8,219.1 L513.3,219.1 L513.8,219.1 L514.3,219.1 L514.8,219.2 L515.3,219.2 L515.8,219.2 L516.3,219.2 L516.8,219.3 L517.3,219.3 L517.8,219.3 L518.3,219.3 L518.8,219.3 L519.3,219.3 L519.8,219.3 L520.3,219.3 L520.8,219.3 L521.3,219.3 L521.8,219.4 L522.3,219.4 L522.8,219.4 L523.3,219.4 L523.8,219.4" fill="none" stroke="#c9a462" stroke-width="1.1" stroke-linejoin="round" />
<line x1="376.7" y1="219.4" x2="540.3" y2="219.4" stroke="#efb544" stroke-width="1.4" />
<path d="M376.7,219.4 L377.2,219.4 L377.7,219.3 L378.2,219.3 L378.7,219.3 L379.2,219.3 L379.7,219.3 L380.2,219.2 L380.7,219.2 L381.2,219.2 L381.7,219.2 L382.2,219.2 L382.7,219.2 L383.2,219.1 L383.7,219.1 L384.2,219.1 L384.7,219.1 L385.2,219.0 L385.7,219.0 L386.2,219.0 L386.7,218.9 L387.2,218.9 L387.7,218.9 L388.2,218.8 L388.7,218.8 L389.2,218.7 L389.7,218.6 L390.2,218.6 L390.7,218.5 L391.2,218.4 L391.7,218.3 L392.2,218.2 L392.7,218.0 L393.2,217.9 L393.7,217.8 L394.2,217.7 L394.7,217.5 L395.2,217.4 L395.7,217.2 L396.2,217.1 L396.7,216.9 L397.2,216.8 L397.7,216.6 L398.2,216.4 L398.7,216.3 L399.2,216.1 L399.7,215.9 L400.2,215.7 L400.7,215.5 L401.2,215.3 L401.7,215.1 L402.2,214.9 L402.7,214.6 L403.2,214.4 L403.7,214.1 L404.2,213.8 L404.7,213.6 L405.2,213.3 L405.7,213.1 L406.2,212.8 L406.7,212.6 L407.2,212.3 L407.7,212.1 L408.2,211.8 L408.7,211.6 L409.2,211.4 L409.7,211.2 L410.2,211.0 L410.7,210.7 L411.2,210.5 L411.7,210.2 L412.2,210.0 L412.7,209.8 L413.2,209.6 L413.7,209.5 L414.2,209.3 L414.7,209.1 L415.2,208.9 L415.7,208.7 L416.2,208.5 L416.7,208.2 L417.2,207.8 L417.7,207.5 L418.2,207.2 L418.7,206.9 L419.2,206.5 L419.7,206.2 L420.2,205.9 L420.7,205.6 L421.2,205.4 L421.7,205.2 L422.2,204.9 L422.7,204.7 L423.2,204.4 L423.7,204.1 L424.2,203.7 L424.7,203.3 L425.2,202.8 L425.7,202.4 L426.2,201.9 L426.7,201.4 L427.2,200.8 L427.7,200.2 L428.2,199.6 L428.7,199.0 L429.2,198.4 L429.7,197.9 L430.2,197.4 L430.7,196.9 L431.2,196.5 L431.7,196.2 L432.2,196.0 L432.7,195.8 L433.2,195.6 L433.7,195.5 L434.2,195.4 L434.7,195.3 L435.2,195.3 L435.7,195.2 L436.2,195.2 L436.7,195.1 L437.2,195.1 L437.7,195.1 L438.2,195.1 L438.7,195.0 L439.2,195.0 L439.7,195.0 L440.2,194.9 L440.7,194.8 L441.2,194.8 L441.7,194.7 L442.2,194.6 L442.7,194.5 L443.2,194.5 L443.7,194.5 L444.2,194.4 L444.7,194.3 L445.2,194.2 L445.7,194.0 L446.2,193.8 L446.7,193.5 L447.2,193.2 L447.7,192.9 L448.2,192.5 L448.7,192.1 L449.2,191.6 L449.7,191.1 L450.2,190.6 L450.7,190.1 L451.2,189.6 L451.7,189.1 L452.2,188.6 L452.7,188.0 L453.2,187.5 L453.7,187.1 L454.2,186.6 L454.7,186.2 L455.2,185.8 L455.7,185.2 L456.2,184.7 L456.7,184.3 L457.2,183.8 L457.7,183.4 L458.2,183.0 L458.7,182.7 L459.2,182.3 L459.7,182.0 L460.2,181.7 L460.7,181.4 L461.2,181.1 L461.7,180.9 L462.2,180.6 L462.7,180.4 L463.2,180.2 L463.7,180.0 L464.2,179.9 L464.7,179.7 L465.2,179.6 L465.7,179.6 L466.2,179.6 L466.7,179.6 L467.2,179.7 L467.7,179.9 L468.2,180.0 L468.7,180.2 L469.2,180.4 L469.7,180.5 L470.2,180.7 L470.7,181.1 L471.2,181.6 L471.7,182.0 L472.2,182.5 L472.7,183.0 L473.2,183.6 L473.7,184.1 L474.2,184.7 L474.7,185.4 L475.2,186.0 L475.7,186.7 L476.2,187.4 L476.7,188.1 L477.2,188.8 L477.7,189.5 L478.2,190.2 L478.7,191.0 L479.2,191.8 L479.7,192.5 L480.2,193.3 L480.7,194.1 L481.2,194.9 L481.7,195.6 L482.2,196.4 L482.7,197.2 L483.2,198.0 L483.7,198.7 L484.2,199.5 L484.7,200.3 L485.2,201.0 L485.7,201.7 L486.2,202.5 L486.7,203.2 L487.2,203.9 L487.7,204.5 L488.2,205.2 L488.7,205.9 L489.2,206.5 L489.7,207.1 L490.2,207.7 L490.7,208.3 L491.2,208.8 L491.7,209.4 L492.2,209.9 L492.7,210.4 L493.2,210.9 L493.7,211.4 L494.2,211.8 L494.7,212.3 L495.2,212.7 L495.7,213.1 L496.2,213.5 L496.7,213.8 L497.2,214.2 L497.7,214.5 L498.2,214.8 L498.7,215.1 L499.2,215.4 L499.7,215.7 L500.2,215.9 L500.7,216.2 L501.2,216.4 L501.7,216.6 L502.2,216.8 L502.7,217.0 L503.2,217.2 L503.7,217.3 L504.2,217.5 L504.7,217.6 L505.2,217.8 L505.7,217.9 L506.2,218.0 L506.7,218.1 L507.2,218.2 L507.7,218.3 L508.2,218.4 L508.7,218.5 L509.2,218.6 L509.7,218.6 L510.2,218.7 L510.7,218.8 L511.2,218.8 L511.7,218.9 L512.2,218.9 L512.7,219.0 L513.2,219.0 L513.7,219.0 L514.2,219.1 L514.7,219.1 L515.2,219.1 L515.7,219.2 L516.2,219.2 L516.7,219.2 L517.2,219.2 L517.7,219.2 L518.2,219.3 L518.7,219.3 L519.2,219.3 L519.7,219.3 L520.2,219.3 L520.7,219.3 L521.2,219.3 L521.7,219.3 L522.2,219.3 L522.7,219.3 L523.2,219.3 L523.7,219.4 L524.2,219.4 L524.7,219.4 L525.2,219.4 L525.7,219.4 L526.2,219.4 L526.7,219.4 L527.2,219.4 L527.7,219.4 L528.2,219.4 L528.7,219.4 L529.2,219.4 L529.7,219.4 L530.2,219.4 L530.7,219.4 L531.2,219.4 L531.7,219.4 L532.2,219.4 L532.7,219.4 L533.2,219.4 L533.7,219.4 L534.2,219.4 L534.7,219.4 L535.2,219.4 L535.7,219.4 L536.2,219.4 L536.7,219.4 L537.2,219.4 L537.7,219.4 L538.2,219.4 L538.7,219.4 L539.2,219.4 L539.7,219.4 L540.2,219.4" fill="none" stroke="#1c1c1c" stroke-width="1.3" stroke-linejoin="round" />
<path d="M376.7,281.0 L377.2,281.0 L377.7,281.0 L378.2,281.0 L378.7,281.0 L379.2,281.0 L379.7,281.0 L380.2,281.0 L380.7,281.0 L381.2,280.9 L381.7,280.9 L382.2,280.9 L382.7,280.9 L383.2,280.9 L383.7,280.9 L384.2,280.9 L384.7,280.9 L385.2,280.9 L385.7,280.9 L386.2,280.9 L386.7,280.8 L387.2,280.8 L387.7,280.8 L388.2,280.8 L388.7,280.8 L389.2,280.8 L389.7,280.7 L390.2,280.7 L390.7,280.7 L391.2,280.7 L391.7,280.6 L392.2,280.6 L392.7,280.6 L393.2,280.5 L393.7,280.5 L394.2,280.5 L394.7,280.4 L395.2,280.4 L395.7,280.3 L396.2,280.3 L396.7,280.2 L397.2,280.1 L397.7,280.1 L398.2,280.0 L398.7,279.9 L399.2,279.8 L399.7,279.8 L400.2,279.7 L400.7,279.6 L401.2,279.5 L401.7,279.4 L402.2,279.3 L402.7,279.1 L403.2,279.0 L403.7,278.9 L404.2,278.7 L404.7,278.6 L405.2,278.5 L405.7,278.3 L406.2,278.1 L406.7,278.0 L407.2,277.8 L407.7,277.6 L408.2,277.4 L408.7,277.2 L409.2,277.0 L409.7,276.8 L410.2,276.5 L410.7,276.3 L411.2,276.1 L411.7,275.8 L412.2,275.6 L412.7,275.3 L413.2,275.0 L413.7,274.7 L414.2,274.5 L414.7,274.2 L415.2,273.9 L415.7,273.5 L416.2,273.2 L416.7,272.9 L417.2,272.6 L417.7,272.2 L418.2,271.9 L418.7,271.6 L419.2,271.2 L419.7,270.9 L420.2,270.5 L420.7,270.1 L421.2,269.8 L421.7,269.4 L422.2,269.0 L422.7,268.7 L423.2,268.3 L423.7,267.9 L424.2,267.6 L424.7,267.2 L425.2,266.8 L425.7,266.5 L426.2,266.1 L426.7,265.8 L427.2,265.4 L427.7,265.1 L428.2,264.7 L428.7,264.4 L429.2,264.1 L429.7,263.8 L430.2,263.5 L430.7,263.2 L431.2,262.9 L431.7,262.6 L432.2,262.4 L432.7,262.1 L433.2,261.9 L433.7,261.7 L434.2,261.5 L434.7,261.3 L435.2,261.1 L435.7,261.0 L436.2,260.8 L436.7,260.7 L437.2,260.6 L437.7,260.5 L438.2,260.4 L438.7,260.4 L439.2,260.3 L439.7,260.3 L440.2,260.3 L440.7,260.3 L441.2,260.4 L441.7,260.4 L442.2,260.5 L442.7,260.6 L443.2,260.7 L443.7,260.8 L444.2,260.9 L444.7,261.1 L445.2,261.2 L445.7,261.4 L446.2,261.6 L446.7,261.8 L447.2,262.1 L447.7,262.3 L448.2,262.6 L448.7,262.8 L449.2,263.1 L449.7,263.4 L450.2,263.7 L450.7,264.0 L451.2,264.3 L451.7,264.7 L452.2,265.0 L452.7,265.3 L453.2,265.7 L453.7,266.0 L454.2,266.4 L454.7,266.8 L455.2,267.1 L455.7,267.5 L456.2,267.9 L456.7,268.2 L457.2,268.6 L457.7,269.0 L458.2,269.3 L458.7,269.7 L459.2,270.1 L459.7,270.4 L460.2,270.8 L460.7,271.1 L461.2,271.5 L461.7,271.8 L462.2,272.2 L462.7,272.5 L463.2,272.8 L463.7,273.2 L464.2,273.5 L464.7,273.8 L465.2,274.1 L465.7,274.4 L466.2,274.7 L466.7,275.0 L467.2,275.2 L467.7,275.5 L468.2,275.8 L468.7,276.0 L469.2,276.3 L469.7,276.5 L470.2,276.7 L470.7,276.9 L471.2,277.2 L471.7,277.4 L472.2,277.6 L472.7,277.7 L473.2,277.9 L473.7,278.1 L474.2,278.3 L474.7,278.4 L475.2,278.6 L475.7,278.7 L476.2,278.9 L476.7,279.0 L477.2,279.1 L477.7,279.2 L478.2,279.3 L478.7,279.4 L479.2,279.5 L479.7,279.6 L480.2,279.7 L480.7,279.8 L481.2,279.9 L481.7,280.0 L482.2,280.0 L482.7,280.1 L483.2,280.2 L483.7,280.2 L484.2,280.3 L484.7,280.3 L485.2,280.4 L485.7,280.4 L486.2,280.5 L486.7,280.5 L487.2,280.6 L487.7,280.6 L488.2,280.6 L488.7,280.7 L489.2,280.7 L489.7,280.7 L490.2,280.7 L490.7,280.8 L491.2,280.8 L491.7,280.8 L492.2,280.8 L492.7,280.8 L493.2,280.8 L493.7,280.9 L494.2,280.9 L494.7,280.9 L495.2,280.9 L495.7,280.9 L496.2,280.9 L496.7,280.9 L497.2,280.9 L497.7,280.9 L498.2,280.9 L498.7,280.9 L499.2,281.0 L499.7,281.0 L500.2,281.0 L500.7,281.0 L501.2,281.0 L501.7,281.0 L502.2,281.0 L502.7,281.0 L503.2,281.0 L503.7,281.0 L504.2,281.0 L504.2,281.0 L376.7,281.0" fill="url(#gf1)" stroke="none" stroke-width="0" stroke-linejoin="round" />
<path d="M430.6,280.9 L431.1,280.9 L431.6,280.9 L432.1,280.9 L432.6,280.8 L433.1,280.8 L433.6,280.8 L434.1,280.8 L434.6,280.7 L435.1,280.7 L435.6,280.7 L436.1,280.6 L436.6,280.6 L437.1,280.5 L437.6,280.4 L438.1,280.4 L438.6,280.3 L439.1,280.2 L439.6,280.1 L440.1,280.0 L440.6,279.9 L441.1,279.7 L441.6,279.6 L442.1,279.4 L442.6,279.3 L443.1,279.1 L443.6,278.9 L444.1,278.6 L444.6,278.4 L445.1,278.1 L445.6,277.8 L446.1,277.5 L446.6,277.2 L447.1,276.9 L447.6,276.5 L448.1,276.1 L448.6,275.6 L449.1,275.2 L449.6,274.7 L450.1,274.2 L450.6,273.6 L451.1,273.0 L451.6,272.4 L452.1,271.8 L452.6,271.1 L453.1,270.4 L453.6,269.7 L454.1,268.9 L454.6,268.1 L455.1,267.3 L455.6,266.5 L456.1,265.6 L456.6,264.7 L457.1,263.8 L457.6,262.9 L458.1,261.9 L458.6,260.9 L459.1,260.0 L459.6,259.0 L460.1,258.0 L460.6,257.0 L461.1,256.0 L461.6,255.0 L462.1,254.0 L462.6,253.0 L463.1,252.1 L463.6,251.1 L464.1,250.2 L464.6,249.3 L465.1,248.4 L465.6,247.6 L466.1,246.8 L466.6,246.1 L467.1,245.3 L467.6,244.7 L468.1,244.1 L468.6,243.5 L469.1,243.0 L469.6,242.6 L470.1,242.3 L470.6,241.9 L471.1,241.7 L471.6,241.5 L472.1,241.4 L472.6,241.4 L473.1,241.4 L473.6,241.5 L474.1,241.6 L474.6,241.7 L475.1,241.9 L475.6,242.2 L476.1,242.4 L476.6,242.7 L477.1,243.1 L477.6,243.5 L478.1,243.9 L478.6,244.4 L479.1,244.9 L479.6,245.4 L480.1,245.9 L480.6,246.5 L481.1,247.1 L481.6,247.8 L482.1,248.4 L482.6,249.1 L483.1,249.8 L483.6,250.5 L484.1,251.3 L484.6,252.0 L485.1,252.8 L485.6,253.5 L486.1,254.3 L486.6,255.1 L487.1,255.9 L487.6,256.7 L488.1,257.5 L488.6,258.2 L489.1,259.0 L489.6,259.8 L490.1,260.6 L490.6,261.4 L491.1,262.1 L491.6,262.9 L492.1,263.6 L492.6,264.3 L493.1,265.1 L493.6,265.8 L494.1,266.4 L494.6,267.1 L495.1,267.8 L495.6,268.4 L496.1,269.0 L496.6,269.6 L497.1,270.2 L497.6,270.8 L498.1,271.3 L498.6,271.8 L499.1,272.3 L499.6,272.8 L500.1,273.3 L500.6,273.7 L501.1,274.2 L501.6,274.6 L502.1,275.0 L502.6,275.4 L503.1,275.7 L503.6,276.1 L504.1,276.4 L504.6,276.7 L505.1,277.0 L505.6,277.2 L506.1,277.5 L506.6,277.8 L507.1,278.0 L507.6,278.2 L508.1,278.4 L508.6,278.6 L509.1,278.8 L509.6,279.0 L510.1,279.1 L510.6,279.3 L511.1,279.4 L511.6,279.5 L512.1,279.6 L512.6,279.8 L513.1,279.9 L513.6,280.0 L514.1,280.0 L514.6,280.1 L515.1,280.2 L515.6,280.3 L516.1,280.3 L516.6,280.4 L517.1,280.5 L517.6,280.5 L518.1,280.6 L518.6,280.6 L519.1,280.6 L519.6,280.7 L520.1,280.7 L520.6,280.7 L521.1,280.8 L521.6,280.8 L522.1,280.8 L522.6,280.8 L523.1,280.8 L523.6,280.9 L524.1,280.9 L524.6,280.9 L525.1,280.9 L525.6,280.9 L526.1,280.9 L526.6,280.9 L527.1,280.9 L527.6,280.9 L528.1,280.9 L528.6,281.0 L529.1,281.0 L529.6,281.0 L530.1,281.0 L530.1,281.0 L430.6,281.0" fill="url(#gf2)" stroke="none" stroke-width="0" stroke-linejoin="round" />
<path d="M376.7,281.0 L377.2,281.0 L377.7,281.0 L378.2,281.0 L378.7,281.0 L379.2,281.0 L379.7,281.0 L380.2,281.0 L380.7,281.0 L381.2,280.9 L381.7,280.9 L382.2,280.9 L382.7,280.9 L383.2,280.9 L383.7,280.9 L384.2,280.9 L384.7,280.9 L385.2,280.9 L385.7,280.9 L386.2,280.9 L386.7,280.8 L387.2,280.8 L387.7,280.8 L388.2,280.8 L388.7,280.8 L389.2,280.8 L389.7,280.7 L390.2,280.7 L390.7,280.7 L391.2,280.7 L391.7,280.6 L392.2,280.6 L392.7,280.6 L393.2,280.5 L393.7,280.5 L394.2,280.5 L394.7,280.4 L395.2,280.4 L395.7,280.3 L396.2,280.3 L396.7,280.2 L397.2,280.1 L397.7,280.1 L398.2,280.0 L398.7,279.9 L399.2,279.8 L399.7,279.8 L400.2,279.7 L400.7,279.6 L401.2,279.5 L401.7,279.4 L402.2,279.3 L402.7,279.1 L403.2,279.0 L403.7,278.9 L404.2,278.7 L404.7,278.6 L405.2,278.5 L405.7,278.3 L406.2,278.1 L406.7,278.0 L407.2,277.8 L407.7,277.6 L408.2,277.4 L408.7,277.2 L409.2,277.0 L409.7,276.8 L410.2,276.5 L410.7,276.3 L411.2,276.1 L411.7,275.8 L412.2,275.6 L412.7,275.3 L413.2,275.0 L413.7,274.7 L414.2,274.5 L414.7,274.2 L415.2,273.9 L415.7,273.5 L416.2,273.2 L416.7,272.9 L417.2,272.6 L417.7,272.2 L418.2,271.9 L418.7,271.6 L419.2,271.2 L419.7,270.9 L420.2,270.5 L420.7,270.1 L421.2,269.8 L421.7,269.4 L422.2,269.0 L422.7,268.7 L423.2,268.3 L423.7,267.9 L424.2,267.6 L424.7,267.2 L425.2,266.8 L425.7,266.5 L426.2,266.1 L426.7,265.8 L427.2,265.4 L427.7,265.1 L428.2,264.7 L428.7,264.4 L429.2,264.1 L429.7,263.8 L430.2,263.5 L430.7,263.2 L431.2,262.9 L431.7,262.6 L432.2,262.4 L432.7,262.1 L433.2,261.9 L433.7,261.7 L434.2,261.5 L434.7,261.3 L435.2,261.1 L435.7,261.0 L436.2,260.8 L436.7,260.7 L437.2,260.6 L437.7,260.5 L438.2,260.4 L438.7,260.4 L439.2,260.3 L439.7,260.3 L440.2,260.3 L440.7,260.3 L441.2,260.4 L441.7,260.4 L442.2,260.5 L442.7,260.6 L443.2,260.7 L443.7,260.8 L444.2,260.9 L444.7,261.1 L445.2,261.2 L445.7,261.4 L446.2,261.6 L446.7,261.8 L447.2,262.1 L447.7,262.3 L448.2,262.6 L448.7,262.8 L449.2,263.1 L449.7,263.4 L450.2,263.7 L450.7,264.0 L451.2,264.3 L451.7,264.7 L452.2,265.0 L452.7,265.3 L453.2,265.7 L453.7,266.0 L454.2,266.4 L454.7,266.8 L455.2,267.1 L455.7,267.5 L456.2,267.9 L456.7,268.2 L457.2,268.6 L457.7,269.0 L458.2,269.3 L458.7,269.7 L459.2,270.1 L459.7,270.4 L460.2,270.8 L460.7,271.1 L461.2,271.5 L461.7,271.8 L462.2,272.2 L462.7,272.5 L463.2,272.8 L463.7,273.2 L464.2,273.5 L464.7,273.8 L465.2,274.1 L465.7,274.4 L466.2,274.7 L466.7,275.0 L467.2,275.2 L467.7,275.5 L468.2,275.8 L468.7,276.0 L469.2,276.3 L469.7,276.5 L470.2,276.7 L470.7,276.9 L471.2,277.2 L471.7,277.4 L472.2,277.6 L472.7,277.7 L473.2,277.9 L473.7,278.1 L474.2,278.3 L474.7,278.4 L475.2,278.6 L475.7,278.7 L476.2,278.9 L476.7,279.0 L477.2,279.1 L477.7,279.2 L478.2,279.3 L478.7,279.4 L479.2,279.5 L479.7,279.6 L480.2,279.7 L480.7,279.8 L481.2,279.9 L481.7,280.0 L482.2,280.0 L482.7,280.1 L483.2,280.2 L483.7,280.2 L484.2,280.3 L484.7,280.3 L485.2,280.4 L485.7,280.4 L486.2,280.5 L486.7,280.5 L487.2,280.6 L487.7,280.6 L488.2,280.6 L488.7,280.7 L489.2,280.7 L489.7,280.7 L490.2,280.7 L490.7,280.8 L491.2,280.8 L491.7,280.8 L492.2,280.8 L492.7,280.8 L493.2,280.8 L493.7,280.9 L494.2,280.9 L494.7,280.9 L495.2,280.9 L495.7,280.9 L496.2,280.9 L496.7,280.9 L497.2,280.9 L497.7,280.9 L498.2,280.9 L498.7,280.9 L499.2,281.0 L499.7,281.0 L500.2,281.0 L500.7,281.0 L501.2,281.0 L501.7,281.0 L502.2,281.0 L502.7,281.0 L503.2,281.0 L503.7,281.0 L504.2,281.0" fill="none" stroke="#eeb64a" stroke-width="1.1" stroke-linejoin="round" />
<path d="M430.6,280.9 L431.1,280.9 L431.6,280.9 L432.1,280.9 L432.6,280.8 L433.1,280.8 L433.6,280.8 L434.1,280.8 L434.6,280.7 L435.1,280.7 L435.6,280.7 L436.1,280.6 L436.6,280.6 L437.1,280.5 L437.6,280.4 L438.1,280.4 L438.6,280.3 L439.1,280.2 L439.6,280.1 L440.1,280.0 L440.6,279.9 L441.1,279.7 L441.6,279.6 L442.1,279.4 L442.6,279.3 L443.1,279.1 L443.6,278.9 L444.1,278.6 L444.6,278.4 L445.1,278.1 L445.6,277.8 L446.1,277.5 L446.6,277.2 L447.1,276.9 L447.6,276.5 L448.1,276.1 L448.6,275.6 L449.1,275.2 L449.6,274.7 L450.1,274.2 L450.6,273.6 L451.1,273.0 L451.6,272.4 L452.1,271.8 L452.6,271.1 L453.1,270.4 L453.6,269.7 L454.1,268.9 L454.6,268.1 L455.1,267.3 L455.6,266.5 L456.1,265.6 L456.6,264.7 L457.1,263.8 L457.6,262.9 L458.1,261.9 L458.6,260.9 L459.1,260.0 L459.6,259.0 L460.1,258.0 L460.6,257.0 L461.1,256.0 L461.6,255.0 L462.1,254.0 L462.6,253.0 L463.1,252.1 L463.6,251.1 L464.1,250.2 L464.6,249.3 L465.1,248.4 L465.6,247.6 L466.1,246.8 L466.6,246.1 L467.1,245.3 L467.6,244.7 L468.1,244.1 L468.6,243.5 L469.1,243.0 L469.6,242.6 L470.1,242.3 L470.6,241.9 L471.1,241.7 L471.6,241.5 L472.1,241.4 L472.6,241.4 L473.1,241.4 L473.6,241.5 L474.1,241.6 L474.6,241.7 L475.1,241.9 L475.6,242.2 L476.1,242.4 L476.6,242.7 L477.1,243.1 L477.6,243.5 L478.1,243.9 L478.6,244.4 L479.1,244.9 L479.6,245.4 L480.1,245.9 L480.6,246.5 L481.1,247.1 L481.6,247.8 L482.1,248.4 L482.6,249.1 L483.1,249.8 L483.6,250.5 L484.1,251.3 L484.6,252.0 L485.1,252.8 L485.6,253.5 L486.1,254.3 L486.6,255.1 L487.1,255.9 L487.6,256.7 L488.1,257.5 L488.6,258.2 L489.1,259.0 L489.6,259.8 L490.1,260.6 L490.6,261.4 L491.1,262.1 L491.6,262.9 L492.1,263.6 L492.6,264.3 L493.1,265.1 L493.6,265.8 L494.1,266.4 L494.6,267.1 L495.1,267.8 L495.6,268.4 L496.1,269.0 L496.6,269.6 L497.1,270.2 L497.6,270.8 L498.1,271.3 L498.6,271.8 L499.1,272.3 L499.6,272.8 L500.1,273.3 L500.6,273.7 L501.1,274.2 L501.6,274.6 L502.1,275.0 L502.6,275.4 L503.1,275.7 L503.6,276.1 L504.1,276.4 L504.6,276.7 L505.1,277.0 L505.6,277.2 L506.1,277.5 L506.6,277.8 L507.1,278.0 L507.6,278.2 L508.1,278.4 L508.6,278.6 L509.1,278.8 L509.6,279.0 L510.1,279.1 L510.6,279.3 L511.1,279.4 L511.6,279.5 L512.1,279.6 L512.6,279.8 L513.1,279.9 L513.6,280.0 L514.1,280.0 L514.6,280.1 L515.1,280.2 L515.6,280.3 L516.1,280.3 L516.6,280.4 L517.1,280.5 L517.6,280.5 L518.1,280.6 L518.6,280.6 L519.1,280.6 L519.6,280.7 L520.1,280.7 L520.6,280.7 L521.1,280.8 L521.6,280.8 L522.1,280.8 L522.6,280.8 L523.1,280.8 L523.6,280.9 L524.1,280.9 L524.6,280.9 L525.1,280.9 L525.6,280.9 L526.1,280.9 L526.6,280.9 L527.1,280.9 L527.6,280.9 L528.1,280.9 L528.6,281.0 L529.1,281.0 L529.6,281.0 L530.1,281.0" fill="none" stroke="#c9a462" stroke-width="1.1" stroke-linejoin="round" />
<line x1="376.7" y1="281" x2="540.3" y2="281" stroke="#efb544" stroke-width="1.4" />
<path d="M376.7,281.0 L377.2,281.0 L377.7,280.9 L378.2,280.9 L378.7,280.9 L379.2,280.9 L379.7,280.9 L380.2,280.8 L380.7,280.8 L381.2,280.8 L381.7,280.8 L382.2,280.8 L382.7,280.7 L383.2,280.7 L383.7,280.7 L384.2,280.7 L384.7,280.7 L385.2,280.6 L385.7,280.6 L386.2,280.6 L386.7,280.5 L387.2,280.5 L387.7,280.5 L388.2,280.4 L388.7,280.4 L389.2,280.4 L389.7,280.3 L390.2,280.3 L390.7,280.2 L391.2,280.2 L391.7,280.1 L392.2,280.0 L392.7,280.0 L393.2,279.9 L393.7,279.9 L394.2,279.8 L394.7,279.7 L395.2,279.7 L395.7,279.6 L396.2,279.5 L396.7,279.4 L397.2,279.3 L397.7,279.2 L398.2,279.1 L398.7,279.0 L399.2,278.8 L399.7,278.7 L400.2,278.6 L400.7,278.5 L401.2,278.4 L401.7,278.3 L402.2,278.2 L402.7,278.1 L403.2,278.0 L403.7,277.9 L404.2,277.8 L404.7,277.7 L405.2,277.6 L405.7,277.5 L406.2,277.4 L406.7,277.3 L407.2,277.2 L407.7,277.1 L408.2,277.0 L408.7,276.9 L409.2,276.7 L409.7,276.6 L410.2,276.4 L410.7,276.3 L411.2,276.1 L411.7,276.0 L412.2,275.8 L412.7,275.6 L413.2,275.4 L413.7,275.2 L414.2,275.0 L414.7,274.8 L415.2,274.6 L415.7,274.3 L416.2,274.1 L416.7,273.8 L417.2,273.5 L417.7,273.2 L418.2,272.8 L418.7,272.5 L419.2,272.1 L419.7,271.7 L420.2,271.3 L420.7,270.9 L421.2,270.5 L421.7,270.1 L422.2,269.7 L422.7,269.2 L423.2,268.8 L423.7,268.4 L424.2,267.9 L424.7,267.5 L425.2,267.0 L425.7,266.6 L426.2,266.2 L426.7,265.7 L427.2,265.3 L427.7,264.9 L428.2,264.5 L428.7,264.1 L429.2,263.7 L429.7,263.4 L430.2,263.0 L430.7,262.7 L431.2,262.3 L431.7,261.8 L432.2,261.3 L432.7,260.8 L433.2,260.3 L433.7,259.8 L434.2,259.4 L434.7,258.9 L435.2,258.5 L435.7,258.1 L436.2,257.7 L436.7,257.3 L437.2,257.0 L437.7,256.6 L438.2,256.3 L438.7,256.0 L439.2,255.6 L439.7,255.4 L440.2,255.0 L440.7,254.7 L441.2,254.4 L441.7,254.2 L442.2,253.9 L442.7,253.8 L443.2,253.6 L443.7,253.5 L444.2,253.3 L444.7,253.2 L445.2,253.1 L445.7,253.0 L446.2,252.8 L446.7,252.7 L447.2,252.6 L447.7,252.6 L448.2,252.5 L448.7,252.4 L449.2,252.3 L449.7,252.0 L450.2,251.7 L450.7,251.5 L451.2,251.3 L451.7,251.1 L452.2,250.9 L452.7,250.6 L453.2,250.3 L453.7,250.1 L454.2,249.8 L454.7,249.5 L455.2,249.2 L455.7,248.8 L456.2,248.5 L456.7,248.2 L457.2,247.9 L457.7,247.6 L458.2,247.3 L458.7,247.0 L459.2,246.7 L459.7,246.4 L460.2,246.0 L460.7,245.5 L461.2,245.0 L461.7,244.5 L462.2,244.0 L462.7,243.5 L463.2,243.0 L463.7,242.5 L464.2,242.1 L464.7,241.6 L465.2,241.2 L465.7,240.8 L466.2,240.5 L466.7,240.2 L467.2,239.9 L467.7,239.6 L468.2,239.3 L468.7,239.0 L469.2,238.8 L469.7,238.6 L470.2,238.4 L470.7,238.2 L471.2,238.0 L471.7,237.9 L472.2,237.8 L472.7,237.7 L473.2,237.6 L473.7,237.6 L474.2,237.8 L474.7,237.9 L475.2,238.1 L475.7,238.2 L476.2,238.5 L476.7,238.9 L477.2,239.4 L477.7,239.9 L478.2,240.5 L478.7,241.1 L479.2,241.7 L479.7,242.3 L480.2,243.0 L480.7,243.6 L481.2,244.4 L481.7,245.1 L482.2,245.8 L482.7,246.6 L483.2,247.4 L483.7,248.2 L484.2,249.0 L484.7,249.8 L485.2,250.7 L485.7,251.5 L486.2,252.4 L486.7,253.2 L487.2,254.1 L487.7,254.9 L488.2,255.8 L488.7,256.6 L489.2,257.5 L489.7,258.3 L490.2,259.1 L490.7,259.9 L491.2,260.7 L491.7,261.5 L492.2,262.3 L492.7,263.1 L493.2,263.9 L493.7,264.6 L494.2,265.3 L494.7,266.0 L495.2,266.7 L495.7,267.4 L496.2,268.1 L496.7,268.7 L497.2,269.3 L497.7,269.9 L498.2,270.5 L498.7,271.1 L499.2,271.6 L499.7,272.1 L500.2,272.6 L500.7,273.1 L501.2,273.5 L501.7,274.0 L502.2,274.4 L502.7,274.8 L503.2,275.2 L503.7,275.5 L504.2,275.9 L504.7,276.2 L505.2,276.5 L505.7,276.8 L506.2,277.1 L506.7,277.4 L507.2,277.6 L507.7,277.9 L508.2,278.1 L508.7,278.3 L509.2,278.5 L509.7,278.7 L510.2,278.8 L510.7,279.0 L511.2,279.2 L511.7,279.3 L512.2,279.4 L512.7,279.6 L513.2,279.7 L513.7,279.8 L514.2,279.9 L514.7,280.0 L515.2,280.1 L515.7,280.1 L516.2,280.2 L516.7,280.3 L517.2,280.3 L517.7,280.4 L518.2,280.5 L518.7,280.5 L519.2,280.5 L519.7,280.6 L520.2,280.6 L520.7,280.7 L521.2,280.7 L521.7,280.7 L522.2,280.7 L522.7,280.8 L523.2,280.8 L523.7,280.8 L524.2,280.8 L524.7,280.8 L525.2,280.9 L525.7,280.9 L526.2,280.9 L526.7,280.9 L527.2,280.9 L527.7,280.9 L528.2,280.9 L528.7,280.9 L529.2,280.9 L529.7,280.9 L530.2,281.0 L530.7,281.0 L531.2,281.0 L531.7,281.0 L532.2,281.0 L532.7,281.0 L533.2,281.0 L533.7,281.0 L534.2,281.0 L534.7,281.0 L535.2,281.0 L535.7,281.0 L536.2,281.0 L536.7,281.0 L537.2,281.0 L537.7,281.0 L538.2,281.0 L538.7,281.0 L539.2,281.0 L539.7,281.0 L540.2,281.0" fill="none" stroke="#1c1c1c" stroke-width="1.3" stroke-linejoin="round" />
<line x1="431.6" y1="182.5" x2="431.6" y2="283" stroke="#4a4a4a" stroke-width="1.2" stroke-dasharray="4.5,5" />
<line x1="441.1" y1="182.5" x2="441.1" y2="283" stroke="#4a4a4a" stroke-width="1.2" stroke-dasharray="4.5,5" />
<line x1="466.7" y1="169" x2="466.7" y2="283" stroke="#4a4a4a" stroke-width="1.2" stroke-dasharray="4.5,5" />
<line x1="473.9" y1="169" x2="473.9" y2="283" stroke="#4a4a4a" stroke-width="1.2" stroke-dasharray="4.5,5" />
<rect x="376.7" y="164.9" width="163.6" height="131.7" fill="none" stroke="#666" stroke-width="1.2"/>
<line x1="377" y1="296.6" x2="377" y2="295" stroke="#444" stroke-width="0.8" />
<line x1="390.6" y1="296.6" x2="390.6" y2="295.6" stroke="#444" stroke-width="0.8" />
<line x1="404.2" y1="296.6" x2="404.2" y2="295" stroke="#444" stroke-width="0.8" />
<line x1="417.8" y1="296.6" x2="417.8" y2="295.6" stroke="#444" stroke-width="0.8" />
<line x1="431.4" y1="296.6" x2="431.4" y2="295" stroke="#444" stroke-width="0.8" />
<line x1="445" y1="296.6" x2="445" y2="295.6" stroke="#444" stroke-width="0.8" />
<line x1="458.6" y1="296.6" x2="458.6" y2="295" stroke="#444" stroke-width="0.8" />
<line x1="472.2" y1="296.6" x2="472.2" y2="295.6" stroke="#444" stroke-width="0.8" />
<line x1="485.8" y1="296.6" x2="485.8" y2="295" stroke="#444" stroke-width="0.8" />
<line x1="499.4" y1="296.6" x2="499.4" y2="295.6" stroke="#444" stroke-width="0.8" />
<line x1="513" y1="296.6" x2="513" y2="295" stroke="#444" stroke-width="0.8" />
<line x1="526.6" y1="296.6" x2="526.6" y2="295.6" stroke="#444" stroke-width="0.8" />
<line x1="540.2" y1="296.6" x2="540.2" y2="295" stroke="#444" stroke-width="0.8" />
<text x="377" y="307.3" font-size="7.2" text-anchor="middle" font-weight="bold" font-family='"Liberation Serif", serif' fill="#111" textLength="11" lengthAdjust="spacingAndGlyphs" stroke="#111" stroke-width="0.2" >165</text>
<text x="404.2" y="307.3" font-size="7.2" text-anchor="middle" font-weight="bold" font-family='"Liberation Serif", serif' fill="#111" textLength="11" lengthAdjust="spacingAndGlyphs" stroke="#111" stroke-width="0.2" >164</text>
<text x="431.4" y="307.3" font-size="7.2" text-anchor="middle" font-weight="bold" font-family='"Liberation Serif", serif' fill="#111" textLength="11" lengthAdjust="spacingAndGlyphs" stroke="#111" stroke-width="0.2" >163</text>
<text x="458.6" y="307.3" font-size="7.2" text-anchor="middle" font-weight="bold" font-family='"Liberation Serif", serif' fill="#111" textLength="11" lengthAdjust="spacingAndGlyphs" stroke="#111" stroke-width="0.2" >162</text>
<text x="485.8" y="307.3" font-size="7.2" text-anchor="middle" font-weight="bold" font-family='"Liberation Serif", serif' fill="#111" textLength="11" lengthAdjust="spacingAndGlyphs" stroke="#111" stroke-width="0.2" >161</text>
<text x="513" y="307.3" font-size="7.2" text-anchor="middle" font-weight="bold" font-family='"Liberation Serif", serif' fill="#111" textLength="11" lengthAdjust="spacingAndGlyphs" stroke="#111" stroke-width="0.2" >160</text>
<text x="540.2" y="307.3" font-size="7.2" text-anchor="middle" font-weight="bold" font-family='"Liberation Serif", serif' fill="#111" textLength="11" lengthAdjust="spacingAndGlyphs" stroke="#111" stroke-width="0.2" >159</text>
<text x="421.7" y="319.6" font-size="8.4" text-anchor="start" font-weight="bold" font-family='"Liberation Serif", serif' fill="#111" textLength="74.3" lengthAdjust="spacingAndGlyphs" stroke="#111" stroke-width="0.2" >Binding energy (eV)</text>
<text x="366.4" y="169.3" font-size="9.6" text-anchor="start" font-weight="bold" font-family='"Liberation Serif", serif' fill="#111" textLength="6.2" lengthAdjust="spacingAndGlyphs" stroke="#111" stroke-width="0.2" >f)</text>
<text x="520.6" y="176.8" font-size="8" text-anchor="start" font-weight="normal" font-family='"Liberation Serif", serif' fill="#666" textLength="14.6" lengthAdjust="spacingAndGlyphs" >S 2p</text>
<text x="406.3" y="194.5" font-size="7.6" text-anchor="start" font-weight="bold" font-family='"Liberation Serif", serif' fill="#111" stroke="#111" stroke-width="0.2" >S 2p<tspan font-size="4.8" dy="1.6">1/2</tspan></text>
<text x="476.4" y="181.2" font-size="8" text-anchor="start" font-weight="bold" font-family='"Liberation Serif", serif' fill="#111" stroke="#111" stroke-width="0.2" >S 2p<tspan font-size="5.2" dy="1.6">3/2</tspan></text>
<text x="506.7" y="211.2" font-size="7.8" text-anchor="start" font-weight="bold" font-family='"Liberation Serif", serif' fill="#111" textLength="26.3" lengthAdjust="spacingAndGlyphs" stroke="#111" stroke-width="0.2" >Cu-ZnS</text>
<text x="514.8" y="272" font-size="7.8" text-anchor="start" font-weight="bold" font-family='"Liberation Serif", serif' fill="#111" textLength="13.7" lengthAdjust="spacingAndGlyphs" stroke="#111" stroke-width="0.2" >ZnS</text>
<text transform="translate(370.2,229) rotate(-90)" x="0" y="0" font-size="8.6" text-anchor="middle" dominant-baseline="central" font-weight="bold" font-family='"Liberation Serif", serif' fill="#111" textLength="56" lengthAdjust="spacingAndGlyphs" stroke="#111" stroke-width="0.2">Intensity (a.u.)</text>
</svg></body></html>
